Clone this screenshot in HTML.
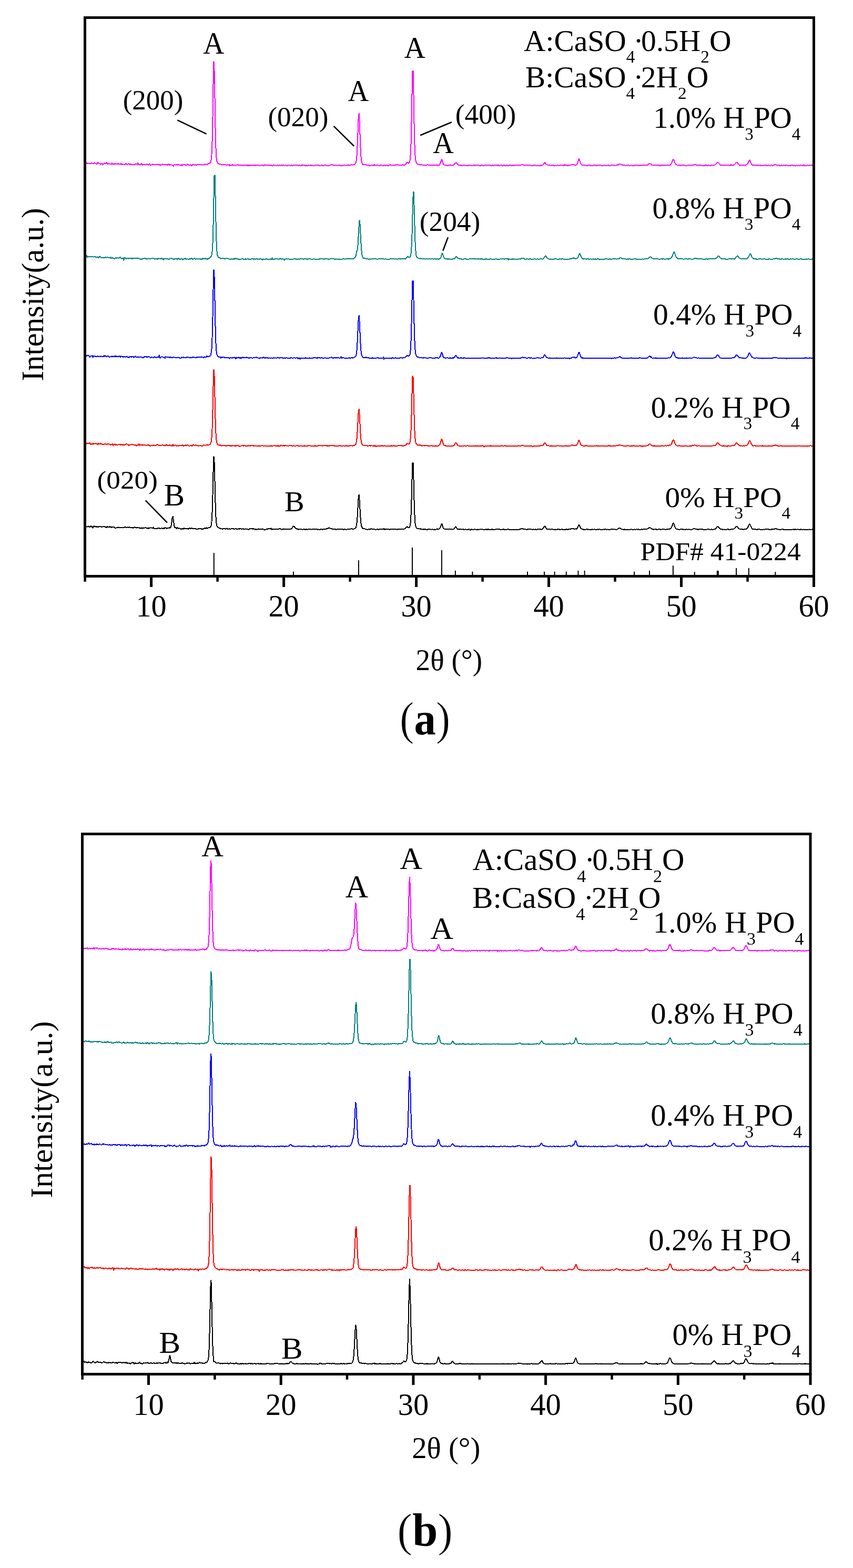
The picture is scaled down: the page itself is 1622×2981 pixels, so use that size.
<!DOCTYPE html>
<html><head><meta charset="utf-8"><title>XRD patterns</title>
<style>html,body{margin:0;padding:0;background:#fff;}svg{display:block;}text{fill:#000;}</style>
</head><body>
<svg width="1622" height="2981" viewBox="0 0 1622 2981" font-family="Liberation Serif, Times New Roman, serif">
<rect width="100%" height="100%" fill="#fff"/>
<path d="M161.6,310.6l1,0.4 1,-0.6 1,-0.9 1,1.4 1,-0.1 1.1,-0.6 1,0.7 1,0 1,-0.1 1,-0.1 1,0.2 1,-0.8 1,0.2 1,0.1 1,0.7 1,-0.3 1,-0.4 1.1,-0.3 1,0.4 1,0.3 1,0.1 1,1.1 1,-0.5 1,-2.6 1,0.3 1,1.4 1,0.2 1,0.4 1,0.5 1,0.9 1.1,-1.9 1,0.4 1,1.7 1,-0.6 1,-0.4 1,-1 1,-0.7 1,1.2 1,0 1,-0.8 1,-1.7 1,2.4 1.1,0.6 1,-0.5 1,0.3 1,-0.1 1,-0.1 1,0.7 1,0.3 1,-0.5 1,-1.6 1,1.7 1,-0.4 1,0.6 1,-0.9 1.1,1 1,-0.5 1,-0.8 1,0.5 1,0.4 1,0.1 1,-0.8 1,-0.1 1,0.8 1,-0.1 1,0.4 1,0.2 1,-1.3 1.1,1.1 1,0.7 1,-0.9 1,-0.3 1,0.9 1,0 1,0.2 1,-0.9 1,-0.7 1,0.7 1,0.2 1,0.7 1.1,-0.5 1,-1.2 1,0.4 1,1.4 1,0 1,-0.8 1,0.3 1,0.4 1,0.2 1,0.2 1,-0.4 1,-0.3 1,0 1.1,0.4 1,-1.6 1,0.9 1,0.2 1,-0.6 1,0.8 1,-2.9 1,3.4 1,-0.3 1,0.5 1,0.3 1,-0.6 1,-1 1.1,-1.2 1,2.8 1,-0.7 1,0.4 1,-0.5 1,0 1,0.5 1,-0.3 1,-0.2 1,-0.3 1,0.5 1,-0.6 1.1,1 1,0.4 1,-1.9 1,-0.6 1,2.1 1,1.1 1,-1.9 1,-0.4 1,0.9 1,-0.6 1,0.1 1,0.3 1,0.4 1.1,-0.4 1,0.3 1,-0.3 1,-0.3 1,0.1 1,-0.2 1,0.4 1,-0.5 1,0.2 1,1.3 1,-0.6 1,0.3 1.1,-0.1 1,-0.5 1,-1.4 1,1.9 1,-0.2 1,-0.6 1,0.8 1,-0.6 1,-0.4 1,0.1 1,0.6 1,0.9 1,-1.2 1.1,0.1 1,-0.8 1,1 1,0.6 1,-0.5 1,-0.3 1,0.5 1,0.4 1,0.2 1,0.5 1,1.2 1,-2.7 1,0.2 1.1,0.1 1,0.1 1,0 1,-0.1 1,-0.7 1,1 1,-0.6 1,-0.2 1,1 1,0.5 1,-0.4 1,-0.4 1.1,-0.2 1,1.7 1,-0.9 1,-1.3 1,0.1 1,0.3 1,-0.6 1,0.7 1,0.6 1,0.3 1,-0.4 1,-1.7 1,0.9 1.1,-0.2 1,1.1 1,-0.1 1,-0.1 1,-0.5 1,1.4 1,0 1,-1.4 1,0.3 1,-0.3 1,0.1 1,-0.3 1,1.2 1.1,-1 1,0.1 1,0.3 1,-0.4 1,0 1,-0.1 1,0.1 1,-0.4 1,0.2 1,0.2 1,0 1,0.1 1.1,0 1,0.3 1,-0.4 1,-0.2 1,-0.2 1,-0.2 1,-0.2 1,0.5 1,-0.7 1,0 1,0.5 1,-0.2 1,-0.8 1.1,-0.9 1,0.5 1,-0.5 1,-1.5 1,-0.8 1,-4.2 1,-10.3 1,-24.4 1,-47.5 1,-62 1,-42.8 1,16.9 1.1,57 1,56.9 1,36.7 1,16.1 1,6.2 1,2 1,1.3 1,0.8 1,0.2 1,0.8 1,-0.1 1,0 1,0.7 1.1,0.3 1,-0.2 1,-0.1 1,0.5 1,-0.9 1,0.3 1,0.5 1,-0.4 1,0.6 1,0.2 1,0.3 1,-0.7 1,0.1 1.1,0.2 1,-0.6 1,2 1,-1.2 1,-0.3 1,0.7 1,-0.4 1,-0.7 1,1 1,0.3 1,-0.6 1,0 1.1,0.3 1,-0.5 1,0.5 1,0 1,-0.5 1,-0.9 1,1 1,0 1,0.7 1,-0.1 1,0.1 1,-0.2 1,-0.1 1.1,-0.3 1,0.7 1,0.4 1,-0.8 1,-0.3 1,0.1 1,-0.1 1,0 1,0.3 1,0 1,1.1 1,-0.9 1,0.1 1.1,0.2 1,-0.4 1,0.5 1,-0.8 1,-0.2 1,-0.2 1,0.4 1,-0.4 1,0.4 1,-0.3 1,1 1,-0.4 1.1,-0.4 1,1 1,-0.9 1,0.1 1,-0.4 1,0.1 1,0.3 1,0 1,0.7 1,0.1 1,-0.4 1,-0.1 1,-0.6 1.1,0.7 1,-0.1 1,0.3 1,0.1 1,-1.3 1,0.6 1,-0.2 1,0.5 1,-0.6 1,0.2 1,0.4 1,0.2 1.1,-0.2 1,-0.4 1,0.1 1,0.6 1,-0.4 1,-0.6 1,0.9 1,0.1 1,0 1,-0.3 1,0.2 1,-0.6 1,0.5 1.1,-0.2 1,0.4 1,0.1 1,-0.6 1,0.1 1,0.2 1,0.4 1,-0.2 1,-0.7 1,0.5 1,0.4 1,0.3 1,-1.4 1.1,0.3 1,0.7 1,-0.9 1,-0.1 1,0.8 1,0.2 1,-0.5 1,0.3 1,0 1,0.4 1,-0.4 1,0.1 1.1,-0.6 1,0.2 1,0.2 1,0.4 1,-0.2 1,-0.5 1,0.5 1,0.1 1,-0.1 1,-0.4 1,-0.1 1,-0.5 1,0.7 1.1,0.1 1,-0.3 1,0.3 1,-0.6 1,0.2 1,0.3 1,0.6 1,-1 1,0.6 1,0.3 1,-0.1 1,0.1 1,-0.9 1.1,-0.5 1,1 1,-0.5 1,0.1 1,-0.1 1,0.8 1,0 1,-0.5 1,0.5 1,-0.2 1,0.4 1,-0.6 1.1,0 1,0.3 1,-0.1 1,-0.2 1,0.4 1,-0.5 1,0.2 1,0.3 1,0.2 1,-0.5 1,0.6 1,-0.5 1,-0.3 1.1,-0.3 1,0.6 1,-0.2 1,-0.5 1,0 1,0.2 1,0.1 1,0.7 1,0.2 1,-0.2 1,-0.3 1,-0.3 1.1,0.2 1,0.5 1,0.4 1,-0.5 1,-0.5 1,0 1,-0.2 1,-0.1 1,0.2 1,0.3 1,0.5 1,-0.4 1,0.3 1.1,0 1,-0.6 1,0.2 1,-0.6 1,-0.7 1,0 1,0.1 1,0.1 1,0.3 1,0.4 1,0.2 1,-0.4 1,0.2 1.1,-0.4 1,0.6 1,0.3 1,-0.2 1,0.1 1,0 1,-0.4 1,0.1 1,0.3 1,0.2 1,0 1,0.5 1.1,-0.7 1,0.2 1,0.1 1,-0.6 1,-0.4 1,-0.1 1,0.6 1,0.3 1,-0.2 1,-0.2 1,-0.2 1,0.1 1,-0.8 1.1,0.6 1,0 1,-0.3 1,0.8 1,-1 1,-0.3 1,0.1 1,0.5 1,-0.6 1,0.1 1,-0.2 1,-0.7 1,-1.4 1.1,-1.6 1,-4.1 1,-11.6 1,-19.8 1,-27 1,-24.7 1,-6.5 1,17.7 1,27.5 1,24.8 1,14.9 1,6.7 1.1,4 1,1.5 1,-0.3 1,0.5 1,0.6 1,-0.7 1,-0.2 1,0.4 1,0.4 1,0.2 1,0.5 1,-0.1 1,-0.4 1.1,0.7 1,0.6 1,-0.2 1,-0.1 1,-0.3 1,0.1 1,-0.4 1,0.4 1,-0.1 1,0.3 1,-1.4 1,0.7 1.1,0.4 1,0.3 1,-0.7 1,0.1 1,-0.1 1,-0.1 1,0.8 1,0.3 1,-0.2 1,-0.3 1,-0.1 1,0 1,-0.2 1.1,0.5 1,0.2 1,-0.1 1,-0.5 1,0.1 1,0.1 1,0.5 1,-0.5 1,-0.7 1,0.7 1,0.6 1,-0.3 1,-0.1 1.1,-0.4 1,-0.7 1,-0.1 1,0.3 1,0.5 1,0.2 1,0.1 1,-0.2 1,0.2 1,-0.3 1,-0.2 1,0.4 1.1,-0.6 1,-0.7 1,0.5 1,0.3 1,-0.8 1,0.6 1,0.1 1,-0.3 1,0.3 1,-0.1 1,0.1 1,0.5 1,-0.4 1.1,-0.7 1,0.1 1,0.6 1,0.2 1,-0.6 1,-0.5 1,-0.4 1,-1.8 1,-1.6 1,-0.6 1,1 1,1.1 1,-1.1 1.1,-1.1 1,-3.6 1,-9.4 1,-20.7 1,-40.9 1,-54.6 1,-44.6 1,0 1,45 1,54.6 1,40.2 1,21.5 1.1,9.2 1,3.9 1,1.5 1,1.8 1,0.3 1,-0.3 1,0.2 1,0.8 1,-0.7 1,0.4 1,0.6 1,-0.4 1,0.1 1.1,0.3 1,0.3 1,0 1,0.1 1,0.1 1,-0.1 1,0.3 1,-0.6 1,-0.3 1,-0.1 1,0.1 1,0.4 1.1,0.6 1,-0.2 1,-0.3 1,-0.2 1,0.2 1,0 1,-0.1 1,-0.2 1,0.4 1,0.3 1,-0.8 1,0.3 1,-0.4 1.1,0.6 1,-0.3 1,-0.4 1,0.7 1,0.5 1,-0.5 1,-0.1 1,-1 1,-2 1,-2.1 1,-3.7 1,-2.2 1,2.5 1.1,3.6 1,2.5 1,1.6 1,0.3 1,0.5 1,-0.2 1,0.3 1,-0.1 1,0.6 1,-0.1 1,0.2 1,-0.6 1.1,0 1,0.2 1,-0.9 1,0.4 1,0.2 1,0.5 1,0 1,-0.4 1,0 1,-0.8 1,-1.3 1,-1.5 1,-0.5 1.1,-0.6 1,1.3 1,0.7 1,1.3 1,0 1,1.5 1,-0.2 1,-0.2 1,-0.1 1,1 1,-0.4 1,0.6 1,0.1 1.1,-0.5 1,-0.2 1,0 1,-0.2 1,0.3 1,0.1 1,0.2 1,0.2 1,0.1 1,-0.5 1,0.2 1,-0.5 1.1,-0.1 1,0 1,0.1 1,0.5 1,0.2 1,0 1,-0.4 1,0 1,-0.3 1,-0.1 1,0.4 1,0 1,-0.3 1.1,0.2 1,-0.4 1,0.3 1,-0.1 1,0 1,0 1,0.5 1,0.1 1,0.1 1,-0.4 1,-0.4 1,0.1 1.1,-0.1 1,0.5 1,0.3 1,-0.3 1,-0.3 1,0 1,0.1 1,-0.3 1,0.3 1,0.1 1,-0.2 1,0 1,0.1 1.1,-0.2 1,0 1,0.5 1,0 1,0.2 1,-0.7 1,-0.3 1,0.8 1,0.1 1,-0.6 1,-0.2 1,0.2 1,-0.3 1.1,0.2 1,-0.3 1,1.3 1,-1.3 1,0.2 1,0.9 1,-0.4 1,0.1 1,-0.3 1,-0.2 1,-0.1 1,0.7 1.1,-0.1 1,0.3 1,-0.7 1,0.1 1,0.3 1,0.4 1,0 1,-0.7 1,-0.3 1,0.6 1,0.1 1,0.6 1,-1 1.1,-0.1 1,-0.6 1,0.2 1,0.8 1,0 1,-0.2 1,-0.2 1,0.5 1,0.2 1,-0.7 1,0.1 1,0 1,0.2 1.1,-0.1 1,-0.1 1,-0.7 1,0.7 1,-0.1 1,0 1,0 1,0 1,-0.5 1,-0.3 1,0 1,-0.5 1.1,0.2 1,0.6 1,0.2 1,0.2 1,0.1 1,-0.2 1,0.5 1,-0.2 1,0.2 1,-0.5 1,0.3 1,-0.1 1,0.1 1.1,0.1 1,-0.2 1,0.5 1,-0.2 1,0.2 1,0 1,0.2 1,-0.1 1,-0.7 1,0.1 1,-0.4 1,0.4 1,0.4 1.1,0.2 1,0 1,-0.4 1,0.1 1,0 1,0.3 1,0 1,-0.3 1,0.8 1,-0.9 1,-0.4 1,-0.1 1.1,-0.6 1,-1.3 1,-1.9 1,-1 1,-0.2 1,2.4 1,1 1,0.4 1,0.6 1,0.4 1,0.5 1,0.1 1,0 1.1,-0.2 1,0.4 1,0.2 1,-0.6 1,0.2 1,0.2 1,-0.1 1,0.1 1,0.5 1,-0.1 1,-0.2 1,-0.3 1.1,0.6 1,-0.4 1,-0.3 1,0.1 1,0 1,0.6 1,-0.4 1,-0.3 1,-0.4 1,0.5 1,-0.3 1,0 1,0.4 1.1,-0.2 1,0.4 1,0 1,-1.9 1,1.4 1,-0.2 1,0.3 1,0.3 1,-0.4 1,0.6 1,-0.5 1,-0.3 1,0.2 1.1,0.1 1,-0.7 1,-0.1 1,-0.5 1,0.2 1,-0.3 1,0 1,0.5 1,-0.2 1,0.4 1,0.6 1,-0.4 1.1,-0.2 1,-1.1 1,-2.1 1,-2.9 1,-3.3 1,-1.9 1,1.6 1,3.4 1,2.8 1,2.3 1,1.1 1,0.4 1,-0.4 1.1,0.7 1,-0.1 1,-0.3 1,0.4 1,-0.7 1,1 1,0.1 1,0.1 1,0 1,-0.4 1,-0.5 1,0.3 1,0.3 1.1,-0.1 1,0.7 1,-0.3 1,-0.1 1,0.3 1,-0.6 1,0.3 1,-0.3 1,-0.1 1,0.3 1,-0.1 1,0.2 1.1,-0.4 1,1 1,-1 1,0.1 1,0 1,-0.6 1,0.8 1,-0.4 1,0.1 1,0.5 1,0.1 1,-0.1 1,0 1.1,0.3 1,-0.8 1,-0.1 1,0.1 1,0.5 1,0 1,0.1 1,0 1,-0.4 1,-0.2 1,0.1 1,0.8 1.1,-0.2 1,-0.3 1,-0.2 1,-0.1 1,0 1,-0.1 1,-0.4 1,0.4 1,0.1 1,0.2 1,0 1,0.1 1,-0.2 1.1,-0.1 1,-1 1,0.1 1,0.2 1,-1.2 1,-0.4 1,0.1 1,0.1 1,0.8 1,0.1 1,0.1 1,0.4 1,0.1 1.1,0.5 1,0.1 1,0.1 1,-0.1 1,0.7 1,-0.5 1,-0.1 1,0.1 1,-0.1 1,-0.1 1,0.2 1,0.2 1.1,0 1,0 1,-0.4 1,0 1,0.6 1,-0.4 1,0.1 1,0.2 1,0 1,-0.7 1,0.1 1,0.1 1,-0.1 1.1,-0.4 1,0.3 1,-0.4 1,0.7 1,0.2 1,0 1,-0.4 1,0.4 1,-0.4 1,-0.2 1,0 1,0.1 1,0.3 1.1,0.1 1,-0.7 1,0.3 1,0.4 1,-0.1 1,-0.2 1,-0.5 1,0.1 1,-1 1,-0.5 1,-0.5 1,-0.6 1.1,-0.3 1,0.6 1,0.6 1,0.9 1,1 1,0 1,0 1,-0.1 1,0.4 1,0.2 1,-0.4 1,0.2 1,-0.1 1.1,0.3 1,-0.2 1,-0.3 1,0.1 1,0.3 1,0.3 1,-0.3 1,0.4 1,-0.6 1,0.1 1,0.3 1,-0.3 1.1,-0.2 1,0.2 1,0.1 1,-0.5 1,0.2 1,0.1 1,0 1,0.2 1,-0.4 1,0 1,0.1 1,0 1,-0.3 1.1,-0.1 1,-1.1 1,-1 1,-2.5 1,-2.7 1,-2.5 1,-0.8 1,1 1,2.4 1,3.1 1,1.7 1,1.2 1,0.9 1.1,0.4 1,0.3 1,0 1,0.1 1,0.2 1,-0.1 1,0.2 1,0 1,0 1,-0.1 1,0.1 1,-0.2 1.1,0 1,-0.2 1,0.3 1,0.2 1,-0.1 1,0.1 1,0 1,0.2 1,-0.5 1,-0.3 1,0.4 1,-0.1 1,-0.1 1.1,0.3 1,0 1,-0.1 1,-0.2 1,-0.1 1,-0.1 1,-0.1 1,-0.9 1,-0.1 1,0.2 1,-0.2 1,0.5 1,1 1.1,-0.5 1,0.4 1,-0.2 1,-0.1 1,-0.2 1,0.3 1,0.4 1,-0.4 1,0.4 1,0.2 1,0.2 1,-0.4 1.1,0.3 1,-0.1 1,-0.4 1,-0.2 1,0.6 1,-0.6 1,0.2 1,0.4 1,0 1,-0.5 1,0.1 1,0.1 1,0.4 1.1,0.2 1,-0.9 1,0.2 1,-0.7 1,0.5 1,0 1,0.5 1,-0.4 1,-0.6 1,-0.4 1,-0.7 1,-1 1.1,-1.4 1,-1 1,-0.1 1,0.6 1,0.9 1,1.1 1,1.3 1,1 1,0 1,0 1,0.2 1,-0.3 1,0.1 1.1,0.4 1,-0.1 1,0 1,0.2 1,-0.2 1,-0.1 1,0.1 1,0.3 1,-0.2 1,-0.3 1,0.2 1,0.4 1,0.2 1.1,-0.9 1,-0.8 1,1.1 1,0.2 1,0 1,0 1,-0.5 1,-0.8 1,-0.9 1,-0.9 1,-1.3 1,-0.7 1.1,-0.2 1,0.4 1,1.6 1,0.9 1,0.7 1,2 1,-0.7 1,-0.1 1,0.5 1,-0.5 1,-0.1 1,0.5 1,-0.1 1.1,-0.1 1,0 1,0 1,-0.2 1,-0.3 1,-0.8 1,-0.5 1,-0.8 1,-2.1 1,-2.1 1,-1.9 1,-0.9 1,1.7 1.1,2.8 1,2 1,1.8 1,0.9 1,0.2 1,-0.1 1,-0.1 1,0.1 1,0.5 1,0.1 1,-0.1 1,0.2 1.1,-0.2 1,0.3 1,-0.2 1,0 1,0 1,0.1 1,0.4 1,-0.8 1,0.3 1,0.4 1,-0.1 1,-0.2 1,0.3 1.1,-0.6 1,-0.1 1,0.3 1,-0.4 1,-0.2 1,0.8 1,0.1 1,-0.1 1,-0.2 1,0 1,-0.1 1,0.6 1.1,-0.1 1,-0.3 1,-0.5 1,0.5 1,0.3 1,-0.2 1,-0.4 1,-0.5 1,-0.5 1,0 1,0 1,0.2 1,0.3 1.1,0.3 1,0 1,0.2 1,0.1 1,0.4 1,0.2 1,0 1,-0.3 1,-0.4 1,0.7 1,-0.2 1,-0.2 1,-0.1 1.1,0 1,0.2 1,0 1,-0.3 1,-0.5 1,0.6 1,0.2 1,0 1,-0.1 1,0.1 1,0.1 1,-0.2 1.1,0.2 1,-0.7 1,0 1,0.1 1,-0.3 1,0.4 1,0.6 1,0.1 1,-0.2 1,0.2 1,-0.3 1,-0.2 1,0.1 1.1,0 1,0.8 1,-1.1 1,0.4 1,-0.1 1,0.1 1,-0.5 1,0.2 1,0.2 1,0.2 1,-0.4 1,0.6 1,-1.4 1.1,1 1,0.3 1,-0.2 1,0.5 1,0.1 1,-0.4 1,-0.4 1,0 1,0.2 1,0 1,-0.6 1,0.3 1.1,0.5 1,-0.4 1,-0.4 1,0.5 1,0 1,0.2 1,0.1" fill="none" stroke="#ff00ff" stroke-width="2" stroke-linejoin="round" shape-rendering="crispEdges"/>
<path d="M161.6,487.2l1,-0.5 1,-0.2 1,-0.8 1,2.9 1,0 1.1,-0.9 1,0.6 1,-0.3 1,-0.4 1,0.9 1,-0.6 1,-0.3 1,0 1,0.8 1,0 1,0.2 1,-0.5 1.1,0.2 1,-0.3 1,1.1 1,-0.1 1,0.1 1,-0.1 1,-0.7 1,1.3 1,0.7 1,-2.4 1,-0.6 1,0.6 1,1.7 1.1,0 1,0.6 1,-0.1 1,-0.4 1,0 1,-0.1 1,0.4 1,-1.1 1,0.3 1,0.9 1,-0.5 1,-0.2 1.1,-0.5 1,0.6 1,1 1,-0.4 1,0.5 1,-1.5 1,1.6 1,0.1 1,-1.4 1,0.9 1,0.8 1,0.3 1,0 1.1,0.8 1,-1.3 1,-0.7 1,-0.2 1,0.8 1,-0.3 1,-0.1 1,0.2 1,0.3 1,-1.1 1,-0.7 1,-0.1 1,2.2 1.1,0 1,0.6 1,-0.9 1,-0.5 1,4.6 1,-4.3 1,-0.7 1,0.4 1,1.7 1,-0.5 1,-0.3 1,-0.5 1.1,-0.1 1,0.9 1,-0.5 1,-0.5 1,0.3 1,-0.3 1,0.3 1,1 1,-0.8 1,0.9 1,-0.9 1,0.1 1,-0.4 1.1,0.3 1,0.2 1,-0.3 1,-0.2 1,0 1,-0.2 1,-0.3 1,0.9 1,0.7 1,0.3 1,0.2 1,0.8 1,-1.2 1.1,1.1 1,-0.5 1,-1.2 1,0.6 1,-0.8 1,0.3 1,-0.9 1,1.4 1,-0.4 1,-0.3 1,1.4 1,-0.3 1.1,-0.6 1,-0.5 1,0.3 1,0.2 1,0.5 1,0 1,-0.8 1,-0.1 1,-0.1 1,-0.4 1,0.4 1,0.6 1,0.6 1.1,0.2 1,-1 1,0.4 1,-0.1 1,1.1 1,-0.8 1,-0.2 1,-0.7 1,0 1,0.6 1,-0.1 1,0.1 1.1,-0.8 1,0.9 1,-0.3 1,0.2 1,2.1 1,-1.6 1,-1 1,0.6 1,-0.5 1,0.1 1,0.3 1,0 1,0.3 1.1,0.4 1,-0.1 1,0.3 1,-1.6 1,0.2 1,0.2 1,-0.7 1,1.3 1,-0.2 1,0 1,0.7 1,-0.1 1,-0.4 1.1,-0.6 1,0.6 1,0 1,-0.4 1,0.9 1,-0.4 1,-1.2 1,0.7 1,-0.2 1,1.1 1,-0.1 1,-1.1 1.1,0.1 1,0.5 1,1.6 1,-0.7 1,-0.3 1,-0.5 1,0 1,-1 1,1 1,0.5 1,-0.4 1,-0.5 1,0.8 1.1,0.7 1,-0.7 1,-0.8 1,0.8 1,-1.2 1,0.8 1,-1.1 1,1.4 1,-0.5 1,0.8 1,-0.5 1,-1.2 1,-0.2 1.1,1 1,0.9 1,-0.4 1,-0.2 1,-0.1 1,0.4 1,-0.1 1,-0.2 1,-0.5 1,1 1,0.1 1,-1 1.1,1.3 1,-0.5 1,-1 1,-0.6 1,1.1 1,0.1 1,-1.1 1,-0.2 1,1.1 1,-0.6 1,0.1 1,1.5 1,-0.3 1.1,-1 1,-1 1,-0.3 1,-1.5 1,0.1 1,-1.3 1,-2.8 1,-6.5 1,-16.1 1,-34.9 1,-50.6 1,-43.1 1.1,-0.8 1,42.9 1,50.5 1,35.7 1,17.6 1,6.3 1,2.5 1,0.3 1,0.8 1,0.4 1,0.4 1,1.6 1,-0.1 1.1,-0.8 1,0.1 1,0.3 1,-0.3 1,0.6 1,-0.4 1,0.2 1,-0.1 1,0.1 1,-0.3 1,-0.1 1,0.3 1,0.3 1.1,0.3 1,0.3 1,0.7 1,-0.3 1,-0.4 1,0.2 1,-0.4 1,0.8 1,-0.4 1,-0.7 1,0.8 1,-0.1 1.1,-1.4 1,0.6 1,0.1 1,-0.5 1,0.3 1,0.2 1,0.7 1,0.3 1,0.8 1,-1 1,0.3 1,-0.4 1,-0.1 1.1,-0.7 1,-0.4 1,0.6 1,0.9 1,0.4 1,-0.3 1,-0.3 1,-0.4 1,0.9 1,0 1,-0.8 1,-0.1 1,-0.1 1.1,0.9 1,-0.3 1,-0.3 1,0.2 1,0 1,-0.4 1,-0.5 1,-0.1 1,0 1,1.1 1,0.6 1,-1.4 1.1,0.5 1,0.1 1,-0.4 1,0.2 1,-0.2 1,0.7 1,-0.5 1,0.2 1,0.2 1,-0.6 1,-0.5 1,0.5 1,0.6 1.1,-0.2 1,1.6 1,-2.1 1,0.5 1,0.3 1,-0.1 1,0.6 1,-0.9 1,-0.6 1,0 1,1 1,-0.2 1.1,0.3 1,0 1,0.4 1,-0.2 1,-0.7 1,0.2 1,0.2 1,-2.8 1,3.1 1,0.1 1,-0.2 1,-0.1 1,-0.4 1.1,-0.5 1,0.3 1,-0.1 1,0.2 1,-0.1 1,0.3 1,0.3 1,-0.8 1,0.5 1,-1.1 1,-0.1 1,0.8 1,0.3 1.1,0 1,-0.7 1,0.5 1,0.3 1,1.8 1,-1.8 1,0 1,-0.5 1,0.2 1,0 1,0.3 1,-0.5 1.1,0 1,0.7 1,0.5 1,-0.5 1,-0.2 1,-0.2 1,0.5 1,0 1,0.3 1,-0.5 1,-0.6 1,0 1,-0.2 1.1,0.1 1,0.9 1,-0.1 1,-0.6 1,0.9 1,-0.5 1,-0.5 1,0.4 1,-0.1 1,-0.4 1,-0.4 1,0.7 1,0.1 1.1,-0.9 1,1 1,0.2 1,-0.4 1,0.1 1,-0.1 1,-0.2 1,0.3 1,0.4 1,-0.8 1,0.5 1,0 1.1,-0.3 1,-0.1 1,-0.3 1,0.2 1,0.4 1,0.9 1,-0.9 1,1.1 1,-1 1,-0.1 1,0 1,0 1,0.5 1.1,-0.4 1,0.5 1,-0.1 1,0.1 1,-0.3 1,-0.2 1,0.9 1,-0.9 1,-0.6 1,-0.4 1,0.3 1,0.2 1.1,-0.1 1,-0.1 1,0.3 1,0.3 1,0.4 1,-1.1 1,0.3 1,-0.1 1,-0.2 1,0 1,0.3 1,0.6 1,-0.3 1.1,0.9 1,-0.7 1,-0.2 1,-0.3 1,-0.2 1,-0.6 1,0.3 1,0 1,-0.2 1,0.2 1,1 1,0.1 1,0.8 1.1,-1 1,0.2 1,-0.3 1,0.2 1,0.1 1,0.5 1,-0.8 1,0.1 1,0.1 1,0.2 1,0.2 1,-0.1 1.1,-0.3 1,-0.3 1,-0.4 1,0.1 1,0.2 1,0.4 1,-0.4 1,-0.2 1,0.4 1,-0.3 1,-0.1 1,0.2 1,0.1 1.1,-1 1,0.3 1,0.5 1,-0.2 1,-0.2 1,0.1 1,0.5 1,-0.6 1,0.1 1,-0.2 1,-0.8 1,-0.7 1,-2 1.1,-1.8 1,-5.6 1,-3.9 1,-2.2 1,-10.6 1,-17.8 1,-18.5 1,-9.2 1,8.9 1,19.8 1,19.1 1,13.5 1.1,6.7 1,2.4 1,1.9 1,0.5 1,-0.3 1,0.2 1,0.3 1,0.3 1,0 1,-0.3 1,1 1,0 1,0.2 1.1,0 1,-0.4 1,0.1 1,0.3 1,-0.1 1,-0.3 1,-0.2 1,0.2 1,-0.2 1,-0.1 1,-0.3 1,0.5 1.1,-0.2 1,0.2 1,0.2 1,0.3 1,0.4 1,-0.5 1,-0.6 1,0.4 1,-0.1 1,0.2 1,-0.3 1,0 1,0 1.1,-0.1 1,-0.3 1,0.3 1,0.4 1,0.4 1,-0.5 1,0 1,0.2 1,0.2 1,0.3 1,-0.3 1,-0.2 1,0.4 1.1,0 1,-0.6 1,0 1,-0.5 1,0.3 1,-0.1 1,0.2 1,0 1,0 1,-0.5 1,0.8 1,-0.1 1.1,-0.3 1,-0.2 1,0.8 1,0.1 1,-0.5 1,0 1,-0.6 1,-0.1 1,0.5 1,0.5 1,-0.8 1,0.1 1,0.5 1.1,-0.8 1,0.5 1,0 1,-0.3 1,0.2 1,0.4 1,-1.4 1,-0.6 1,-1.1 1,-1.4 1,-0.6 1,1.1 1,0.7 1.1,-0.5 1,-0.2 1,-1.4 1,-4.9 1,-12.9 1,-24.3 1,-36.2 1,-34.9 1,-9.3 1,24.6 1,39.2 1,31.2 1.1,18.5 1,8.3 1,2.1 1,0.8 1,1.2 1,0.2 1,0.1 1,0.3 1,0.9 1,-0.5 1,-0.2 1,0.3 1,0 1.1,0.4 1,-0.1 1,-0.1 1,0.4 1,-0.1 1,0.4 1,0.2 1,-0.5 1,-0.1 1,0.3 1,0.2 1,-0.2 1.1,0 1,0 1,0.1 1,0.1 1,-0.4 1,0 1,0.1 1,-0.1 1,0.2 1,0.2 1,-0.2 1,-0.3 1,0.1 1.1,0.7 1,-0.2 1,-0.7 1,0.1 1,0.8 1,-0.1 1,-0.5 1,-0.2 1,-1.1 1,-0.8 1,-2.2 1,-4.2 1,-2.4 1.1,1.6 1,3.6 1,2.6 1,1.9 1,0.7 1,0.1 1,-0.2 1,0.4 1,0.1 1,0.5 1,-0.3 1,-0.1 1.1,0.8 1,-0.7 1,0.2 1,0.1 1,0 1,-0.2 1,0.1 1,-0.3 1,-0.5 1,0.2 1,-0.3 1,-0.7 1,-1.3 1.1,-1.7 1,0.1 1,1.2 1,0.6 1,1.4 1,0.3 1,-0.2 1,0.9 1,-0.1 1,0 1,0.1 1,0.5 1,0.2 1.1,-0.3 1,0 1,-0.2 1,0 1,-0.2 1,0.2 1,-0.1 1,0.3 1,0.1 1,0 1,0.3 1,0.2 1.1,-1.2 1,0.3 1,0 1,-0.1 1,-0.2 1,0.4 1,-0.1 1,-0.1 1,0.1 1,-0.2 1,-0.3 1,0.8 1,-0.2 1.1,-0.2 1,0.3 1,-0.3 1,-0.4 1,0.7 1,-0.5 1,0.3 1,0.3 1,0.4 1,-1.3 1,0.9 1,-0.4 1.1,0.2 1,0.5 1,0.2 1,-0.4 1,-0.3 1,0.3 1,-0.3 1,-0.1 1,0.1 1,0.3 1,0 1,0.2 1,0.1 1.1,0.4 1,-1.7 1,0.1 1,0.6 1,0.2 1,0.5 1,-0.5 1,-0.1 1,0.3 1,0 1,-0.3 1,0 1,-0.4 1.1,0.1 1,0.5 1,-0.5 1,0.5 1,0.1 1,0 1,0 1,-0.2 1,-0.8 1,0.2 1,0.3 1,0.3 1.1,-0.4 1,0 1,0.2 1,0.4 1,-0.7 1,-0.1 1,0.4 1,-0.5 1,0.5 1,-0.1 1,-0.3 1,2 1,-1.8 1.1,0.3 1,0.2 1,0.2 1,-0.3 1,-0.1 1,-0.2 1,0.2 1,0.2 1,-0.7 1,0.5 1,-0.1 1,0.1 1,0.1 1.1,0.1 1,-0.2 1,-0.1 1,0.1 1,-0.1 1,-0.1 1,0.2 1,0.1 1,-0.4 1,-0.3 1,-0.7 1,-0.2 1.1,-0.5 1,0.6 1,0.1 1,1 1,0.7 1,-0.5 1,0.3 1,-0.2 1,-0.3 1,0 1,0.4 1,0.3 1,-0.4 1.1,-0.5 1,0 1,0.4 1,0.4 1,-0.2 1,0 1,0.2 1,-0.3 1,-0.1 1,-0.1 1,-0.3 1,0.5 1,0.1 1.1,0.1 1,-0.6 1,0.1 1,0.4 1,0 1,0.1 1,-0.5 1,0.1 1,-0.1 1,0.1 1,-0.2 1,0.5 1.1,-0.4 1,-0.8 1,-1.6 1,-1 1,-1.7 1,-0.9 1,1.2 1,2.1 1,1.5 1,0.4 1,0.1 1,0.6 1,0.4 1.1,0.4 1,-0.6 1,0.8 1,-0.1 1,-0.3 1,0.2 1,-0.3 1,0.1 1,-0.4 1,0 1,-0.2 1,-0.2 1.1,0.3 1,0.1 1,0.3 1,0.2 1,-0.3 1,0 1,-0.1 1,-0.4 1,0.4 1,0.1 1,-0.1 1,-0.4 1,-0.2 1.1,0.5 1,0.3 1,0.3 1,0 1,0 1,-0.2 1,0 1,-0.2 1,0.1 1,0.2 1,0.4 1,-0.7 1,-0.4 1.1,0.4 1,-0.4 1,-0.1 1,-0.3 1,-0.4 1,0.1 1,-0.4 1,-1.2 1,1.3 1,0.3 1,0.4 1,-0.1 1.1,-0.2 1,-0.3 1,-0.5 1,-1.3 1,-2.7 1,-3 1,-1.9 1,1.3 1,2.5 1,1.9 1,2.4 1,1.3 1,0.7 1.1,0.6 1,-0.2 1,-0.7 1,0.6 1,0.1 1,0.2 1,0.2 1,-0.5 1,0.3 1,-0.5 1,0.3 1,0.3 1,0.4 1.1,-0.7 1,-0.3 1,0.5 1,-0.1 1,0.4 1,-0.5 1,-0.1 1,0.5 1,-0.1 1,0 1,-0.4 1,0.6 1.1,-0.4 1,0.2 1,-0.5 1,-0.1 1,0.3 1,0.3 1,1 1,-0.9 1,0 1,0.2 1,0.4 1,-0.8 1,0.3 1.1,-0.3 1,0 1,-0.1 1,0.3 1,-0.6 1,-0.1 1,0.3 1,-0.1 1,0.4 1,0.1 1,-0.3 1,0.2 1.1,-0.3 1,0.1 1,0.2 1,0.4 1,-0.5 1,-0.4 1,0.1 1,-0.2 1,0 1,0.2 1,-0.1 1,-0.4 1,0.5 1.1,0.4 1,-0.3 1,-0.4 1,0.4 1,-0.6 1,-0.4 1,-1.2 1,-0.3 1,0.4 1,0.6 1,0.6 1,0.4 1,0 1.1,-0.1 1,0.3 1,-0.1 1,0.1 1,0.2 1,0.4 1,0 1,-0.4 1,0.3 1,0.2 1,-0.3 1,-0.5 1.1,-0.1 1,0.8 1,0.2 1,-0.3 1,0.4 1,-0.1 1,0.1 1,-0.4 1,-0.2 1,-0.3 1,0.4 1,-0.3 1,0.5 1.1,0.1 1,-0.1 1,0.3 1,-0.4 1,0.1 1,0.1 1,-0.2 1,-0.1 1,0.4 1,-0.2 1,-0.2 1,0 1,0.2 1.1,0.4 1,-0.5 1,-0.3 1,-0.2 1,-0.2 1,-0.1 1,0.4 1,-0.1 1,-0.6 1,-0.6 1,-0.5 1,-1 1.1,-1 1,0.2 1,0.6 1,1 1,1 1,0.4 1,0.7 1,-0.3 1,0.4 1,0.1 1,-0.1 1,0 1,-0.4 1.1,0 1,0.3 1,0 1,0.3 1,-0.1 1,0.2 1,-0.1 1,-0.1 1,0 1,-0.2 1,0.1 1,0.5 1.1,-0.8 1,0.2 1,0.4 1,0 1,0.1 1,-0.3 1,-0.5 1,0.1 1,-0.2 1,0.6 1,0.1 1,-0.5 1,-0.1 1.1,-0.4 1,-0.6 1,-0.6 1,-1.5 1,-2 1,-2.7 1,-3.2 1,-1.5 1,-0.1 1,3 1,3.5 1,2 1,1.5 1.1,1.4 1,0.9 1,-0.1 1,0.5 1,0.1 1,-0.5 1,0.4 1,0.2 1,0 1,-0.3 1,0.4 1,-0.1 1.1,0.3 1,0 1,-0.3 1,0.1 1,-0.2 1,-0.5 1,0.3 1,0.4 1,0.3 1,-0.2 1,-0.1 1,-0.1 1,0 1.1,0.2 1,-0.3 1,0.7 1,-0.3 1,0.3 1,-0.3 1,-0.7 1,-0.1 1,-0.4 1,-0.2 1,0.1 1,0 1,0.3 1.1,0.2 1,0.1 1,0.3 1,0.3 1,0 1,0 1,-0.1 1,0.1 1,-0.5 1,0.2 1,0.2 1,0.3 1.1,0 1,0 1,-0.1 1,0.1 1,-0.4 1,0 1,-0.3 1,0.9 1,0 1,-0.6 1,-0.2 1,-0.3 1,0.1 1.1,0.5 1,-0.1 1,-0.3 1,0.6 1,-0.4 1,0.3 1,0 1,-0.3 1,-0.1 1,-0.3 1,-0.7 1,-0.2 1.1,-1 1,-1.3 1,-1.9 1,-0.1 1,0.4 1,1.6 1,1.5 1,0.5 1,0.6 1,0.9 1,-0.3 1,0.1 1,0.5 1.1,-0.1 1,0.2 1,0 1,-0.1 1,0.4 1,0.2 1,-0.4 1,0.2 1,0 1,-0.3 1,0 1,-0.4 1,0.1 1.1,0.2 1,0 1,0.2 1,-0.6 1,0.1 1,-0.1 1,0.1 1,0.7 1,-1.6 1,-0.4 1,-1.4 1,-1.4 1.1,-0.9 1,-0.6 1,1.1 1,1.3 1,1.2 1,0.8 1,0.2 1,0.6 1,0.4 1,0 1,-0.2 1,0.5 1,-0.1 1.1,-0.5 1,0.1 1,0.2 1,-0.5 1,0.1 1,0.1 1,-0.3 1,-0.5 1,-1.1 1,-2 1,-2.1 1,-1.8 1,-1.8 1.1,1.2 1,2.4 1,2.3 1,2.1 1,0.9 1,0.5 1,-0.3 1,1 1,0.2 1,-0.3 1,0.4 1,-0.1 1.1,0.2 1,0.2 1,-0.4 1,-0.3 1,0.1 1,-0.2 1,0 1,0.1 1,0.1 1,0.5 1,-0.1 1,-0.3 1,0.2 1.1,-0.5 1,0.1 1,0.3 1,0.3 1,0 1,-0.1 1,0.2 1,-0.1 1,0.1 1,-0.6 1,-0.3 1,0.4 1.1,0.3 1,0 1,0.1 1,-0.1 1,0 1,-0.1 1,-0.4 1,0.1 1,-0.7 1,0.6 1,-1.4 1,0.2 1,0 1.1,0.8 1,-0.1 1,0.5 1,0.1 1,0 1,0.4 1,-0.2 1,0.3 1,-0.5 1,-0.1 1,-0.2 1,0.6 1,0.2 1.1,-0.2 1,-0.1 1,-0.1 1,0.7 1,-0.3 1,-0.7 1,0.1 1,-0.2 1,0.9 1,0.3 1,-0.2 1,-0.4 1.1,-0.3 1,-0.1 1,0.4 1,-0.2 1,0 1,0 1,0.1 1,0.4 1,0.2 1,-0.4 1,-0.2 1,-0.3 1,-0.1 1.1,0.2 1,0.4 1,0 1,0.2 1,-0.2 1,-0.3 1,-0.2 1,0.1 1,0 1,0.7 1,-0.3 1,-0.1 1,0.4 1.1,-0.4 1,0.1 1,-0.1 1,0 1,-0.1 1,0.3 1,0.1 1,-0.7 1,-0.2 1,0.8 1,-0.1 1,0.1 1.1,-0.2 1,0.5 1,0 1,-0.7 1,0.3 1,-0.3 1,-0.3" fill="none" stroke="#008080" stroke-width="2" stroke-linejoin="round" shape-rendering="crispEdges"/>
<path d="M161.6,677.9l1,-2.6 1,2.1 1,-1 1,0 1,-0.1 1.1,-1 1,1 1,0.5 1,2.6 1,-1.7 1,-0.9 1,-0.1 1,-0.3 1,-0.2 1,3.6 1,-2.4 1,-0.2 1.1,-0.7 1,0.7 1,0.3 1,1 1,-0.6 1,-0.9 1,0.2 1,0.8 1,0.2 1,-0.7 1,-0.1 1,0.6 1,-1.1 1.1,0.4 1,0.9 1,-0.1 1,-0.3 1,-0.2 1,-1.8 1,1.9 1,-0.9 1,-0.5 1,1.4 1,0.4 1,-0.8 1.1,-0.4 1,0.7 1,-0.2 1,1.5 1,-0.4 1,-0.3 1,0.4 1,-0.9 1,-0.4 1,0.9 1,0.1 1,-0.6 1,-0.3 1.1,0.2 1,-1.2 1,1.8 1,0 1,-1.2 1,0.7 1,-0.2 1,0.6 1,-1.4 1,0.6 1,1.3 1,0.1 1,-1.9 1.1,0.8 1,0.6 1,-0.1 1,0.9 1,-1.3 1,0.5 1,-0.4 1,1.2 1,-0.6 1,-0.6 1,-0.4 1,1.9 1.1,-0.1 1,-0.1 1,1 1,-1.4 1,-0.8 1,0.1 1,0 1,1 1,-1.4 1,0.2 1,0.4 1,1.6 1,-1.1 1.1,-1.1 1,-0.3 1,1.2 1,0.9 1,-0.1 1,-0.5 1,-0.3 1,0.2 1,0.2 1,0.1 1,-0.7 1,0.3 1,0.1 1.1,0.4 1,0.2 1,1.2 1,-0.3 1,-0.6 1,-1.9 1,0.5 1,0.2 1,-0.5 1,-0.3 1,1.8 1,0.1 1.1,-1.4 1,-0.1 1,0.3 1,0.6 1,0.7 1,0.6 1,-1 1,0.2 1,-0.2 1,0.9 1,-0.3 1,0 1,-1.3 1.1,0.2 1,0 1,1.2 1,-0.3 1,-0.7 1,-0.1 1,0.4 1,-0.1 1,-3.8 1,4.3 1,1 1,-1.4 1.1,-0.6 1,-0.4 1,0.1 1,1.1 1,0.3 1,-0.4 1,0.1 1,1.7 1,-2.8 1,0 1,0.5 1,0.4 1,-0.4 1.1,0 1,-0.1 1,0.4 1,0.6 1,-0.5 1,0.1 1,0.5 1,0.2 1,0.1 1,-1.6 1,1 1,-0.3 1,0.3 1.1,0.5 1,0.2 1,-0.1 1,-0.3 1,0.5 1,-0.9 1,0 1,0.4 1,-0.3 1,1.2 1,-0.2 1,0.3 1.1,-1.1 1,-0.4 1,0.3 1,0.2 1,-0.5 1,0.3 1,0.1 1,0.6 1,-0.8 1,0.4 1,-0.7 1,-0.3 1,0 1.1,-0.1 1,0.8 1,0.5 1,-0.8 1,0.8 1,0.4 1,-0.6 1,-0.2 1,-0.4 1,-0.5 1,0.8 1,-0.8 1,0.9 1.1,0.1 1,0.3 1,-0.5 1,-0.4 1,0.4 1,-0.3 1,0.1 1,0.1 1,-0.1 1,-0.1 1,-0.3 1,0.1 1.1,-0.8 1,0.9 1,-0.3 1,1 1,0 1,-1.5 1,0.7 1,-0.5 1,0 1,0.4 1,-2.3 1,1 1,0.4 1.1,0 1,-0.4 1,-1 1,0.1 1,-1.3 1,-3.9 1,-8.5 1,-21 1,-40.4 1,-51.9 1,-36.7 1,12.7 1.1,49.4 1,49.1 1,31.9 1,12.9 1,5.1 1,2.1 1,1 1,1.4 1,-0.5 1,0.5 1,0.2 1,1.7 1,-1.9 1.1,1.2 1,-0.5 1,-0.1 1,-0.4 1,0.2 1,0.8 1,0.3 1,0.1 1,0.1 1,-0.2 1,-0.2 1,0.3 1,-0.1 1.1,-0.3 1,0.4 1,1.4 1,-1.6 1,-0.2 1,0.5 1,0.5 1,-0.8 1,-0.2 1,0.2 1,0.3 1,-1.1 1.1,0.8 1,1.7 1,-1.8 1,0.7 1,-0.3 1,-0.5 1,0.1 1,-0.6 1,0.5 1,0.9 1,-0.7 1,0.8 1,-0.5 1.1,0.2 1,-0.5 1,-1 1,0.6 1,0.4 1,-0.5 1,-0.1 1,0.7 1,-0.4 1,-0.5 1,0.5 1,0.7 1,-0.3 1.1,0.6 1,0.2 1,-0.7 1,-0.7 1,0 1,0 1,1.1 1,-0.2 1,0 1,-0.3 1,0.1 1,-0.2 1.1,-0.1 1,-0.5 1,-0.1 1,0.4 1,-0.1 1,0.2 1,0.6 1,0.1 1,1.1 1,-0.8 1,-0.7 1,0.5 1,-0.2 1.1,-0.3 1,0.5 1,-0.9 1,-0.8 1,1.4 1,-0.1 1,0.6 1,-0.8 1,-0.1 1,0.8 1,-0.7 1,0.4 1.1,0.5 1,-0.4 1,-0.2 1,0.1 1,0.2 1,-0.5 1,0.5 1,0.2 1,0.5 1,-1 1,-0.3 1,0.5 1,-0.2 1.1,0.1 1,0.1 1,0.3 1,-0.6 1,-0.2 1,-0.8 1,0.7 1,1 1,-0.7 1,-0.3 1,0 1,0.4 1,0.1 1.1,-0.4 1,0.6 1,0 1,0.1 1,-0.4 1,0.8 1,-0.4 1,-0.4 1,-0.1 1,0.1 1,0.4 1,-0.2 1.1,0.4 1,0 1,0.2 1,-0.2 1,-0.6 1,-0.6 1,0.7 1,0.4 1,-0.2 1,0 1,-0.3 1,-0.1 1,-0.1 1.1,0.8 1,-0.3 1,-0.4 1,-0.3 1,0.5 1,1.6 1,-1.3 1,-0.4 1,0.8 1,1.5 1,-1.6 1,0 1,0 1.1,-0.1 1,-0.1 1,-0.4 1,0.6 1,-0.1 1,0.2 1,-1.2 1,0.8 1,0.2 1,-0.4 1,0.2 1,0.2 1.1,-0.2 1,-0.4 1,0.2 1,0.5 1,0.1 1,-0.4 1,-0.1 1,0.1 1,0.1 1,-0.7 1,-0.2 1,0.5 1,-0.3 1.1,0.1 1,0.3 1,0.1 1,-0.4 1,0.4 1,-0.6 1,0.5 1,-0.6 1,0.1 1,0.6 1,-0.2 1,-0.2 1.1,0.1 1,0.4 1,-0.2 1,0.1 1,0.3 1,-0.6 1,-0.1 1,0.2 1,0.6 1,0.1 1,-0.1 1,-0.5 1,-0.1 1.1,0.2 1,-0.4 1,0.2 1,-0.4 1,-0.7 1,0 1,0.3 1,1 1,0.5 1,-0.7 1,-0.2 1,-0.6 1,0.8 1.1,0 1,-0.2 1,0.4 1,-0.6 1,0.3 1,-0.7 1,0.5 1,0.7 1,0.1 1,-0.9 1,-1.7 1,2.3 1.1,-0.2 1,-0.4 1,0.3 1,0.1 1,0.1 1,0.3 1,0 1,0.4 1,-0.1 1,-0.3 1,0.1 1,0.1 1,-0.4 1.1,-0.6 1,0.5 1,0 1,0.3 1,-0.5 1,0 1,-0.1 1,0.3 1,-0.6 1,-0.5 1,-0.1 1,-0.6 1,-0.5 1.1,-1.6 1,-3.6 1,-8.4 1,-16.9 1,-22.4 1,-20.4 1,-5.1 1,13.9 1,23 1,20.1 1,12.5 1,5.8 1.1,2.2 1,1 1,2.1 1,-0.4 1,-0.1 1,0 1,0.1 1,-1.6 1,1.5 1,0.2 1,0.2 1,-0.1 1,-0.2 1.1,1.1 1,-0.1 1,-0.5 1,0.1 1,0 1,0.1 1,-0.5 1,0.7 1,-0.3 1,0.3 1,-0.3 1,-0.2 1.1,0.1 1,0.3 1,-0.5 1,0 1,0 1,-0.2 1,0.8 1,0 1,-0.2 1,0.2 1,-0.5 1,0.2 1,0.7 1.1,-0.4 1,-0.5 1,-1.2 1,3.4 1,-1.7 1,-0.4 1,0 1,0.2 1,-0.3 1,0.3 1,0.2 1,-0.1 1,-0.1 1.1,-0.2 1,0.2 1,-0.1 1,0.6 1,0.3 1,-1.1 1,-0.6 1,0.5 1,0.4 1,0.3 1,-0.1 1,-0.6 1.1,0 1,0.5 1,-0.4 1,0.4 1,-0.3 1,0.2 1,0.1 1,0 1,-0.2 1,-0.5 1,0.2 1,0 1,0.1 1.1,0.2 1,-0.6 1,-0.3 1,-0.2 1,0 1,-0.1 1,-1.1 1,-0.7 1,-1.4 1,-0.6 1,0.4 1,1 1,0.1 1.1,-1.5 1,-1.9 1,-7.2 1,-18.1 1,-33.1 1,-44.3 1,-36.8 1,-0.7 1,36.6 1,44.8 1,33.1 1,17.2 1.1,8.3 1,2.7 1,1.3 1,0.8 1,0.7 1,0 1,0.1 1,0.7 1,0.4 1,-0.3 1,0.5 1,-0.2 1,-0.1 1.1,0.5 1,-0.4 1,0.3 1,-0.2 1,0.1 1,-0.4 1,0.2 1,0.6 1,-0.2 1,-0.1 1,-0.1 1,0.1 1.1,-0.4 1,0 1,0.3 1,-0.2 1,0.1 1,0.1 1,0.1 1,0.1 1,0.6 1,-0.1 1,-0.1 1,-0.4 1,-0.3 1.1,-0.3 1,0.2 1,-0.5 1,0.4 1,0.5 1,0.2 1,-0.2 1,-1.4 1,-1.2 1,-2.9 1,-3.2 1,-2.1 1,2.3 1.1,4.1 1,2.4 1,1.6 1,0 1,0 1,0.7 1,0.1 1,-0.6 1,0 1,-0.3 1,0.4 1,0.4 1.1,-0.3 1,0.1 1,-0.5 1,0.5 1,0.2 1,-0.1 1,-0.2 1,-0.4 1,0.6 1,-0.8 1,-1 1,-0.5 1,-3.1 1.1,0.4 1,1.7 1,1.7 1,1.2 1,0.5 1,-0.9 1,0.4 1,0.3 1,-0.1 1,-0.4 1,0 1,0.6 1,0.1 1.1,-0.3 1,-0.3 1,0.7 1,-1 1,0.6 1,0.8 1,-0.5 1,-0.1 1,-0.3 1,0.5 1,-0.5 1,0.3 1.1,0 1,-0.3 1,0.4 1,-0.5 1,0.1 1,0.2 1,0 1,0.3 1,0.1 1,-0.4 1,-0.1 1,0 1,0.1 1.1,0.3 1,-0.2 1,0.1 1,-0.1 1,-0.2 1,0.3 1,-0.3 1,0.2 1,0.4 1,-0.6 1,0 1,-0.3 1.1,0.2 1,-0.2 1,0.3 1,0 1,0.3 1,0.4 1,-0.3 1,0 1,-0.2 1,-0.1 1,-0.3 1,-0.7 1,1.1 1.1,-0.9 1,1.1 1,0 1,0.3 1,-0.5 1,-0.3 1,-0.1 1,0.1 1,0.3 1,0.6 1,-0.6 1,-0.3 1,-0.4 1.1,0.5 1,-0.3 1,0.5 1,0.3 1,-0.1 1,-0.1 1,-0.5 1,-0.1 1,0.9 1,-0.1 1,-0.6 1,0.3 1.1,0.1 1,0.1 1,-0.1 1,-0.2 1,0.2 1,0 1,-0.2 1,-0.6 1,-0.3 1,0.5 1,0 1,0.5 1,0.3 1.1,-0.2 1,-0.2 1,0.2 1,0.2 1,0.6 1,-0.6 1,0 1,-0.1 1,0.2 1,-0.4 1,0.2 1,-0.4 1,-0.1 1.1,0 1,0.3 1,-0.3 1,0.2 1,-0.2 1,0.6 1,0.1 1,-0.5 1,0 1,-0.5 1,0 1,-0.8 1.1,-0.3 1,1.1 1,0 1,-0.1 1,0.2 1,-0.1 1,0.3 1,0 1,0.7 1,-0.2 1,-0.7 1,-0.1 1,0.2 1.1,-0.2 1,0.5 1,0 1,-1 1,0.9 1,0.4 1,0.5 1,-0.2 1,-0.3 1,0 1,-0.3 1,0.1 1,-0.2 1.1,-0.2 1,0 1,0 1,-0.3 1,0.7 1,-0.5 1,0.2 1,0.2 1,-0.1 1,-0.3 1,0.1 1,-0.3 1.1,-0.2 1,-1.5 1,-2.3 1,-1.7 1,0.7 1,1.8 1,1.5 1,1.3 1,0.2 1,0.1 1,0.7 1,0 1,0.1 1.1,-0.4 1,0.3 1,-0.1 1,0.3 1,-0.3 1,-0.1 1,0.2 1,0.4 1,-0.3 1,-0.3 1,-0.1 1,0.1 1.1,0.6 1,-0.8 1,0.2 1,0.5 1,0.2 1,-0.3 1,0.2 1,0 1,0 1,-0.1 1,0.3 1,-0.2 1,0.1 1.1,-0.5 1,0.2 1,-0.5 1,-0.1 1,0.5 1,-0.2 1,0.2 1,-0.2 1,0.6 1,-0.4 1,-0.4 1,0.3 1,1.3 1.1,-1.6 1,0.2 1,0.2 1,-0.7 1,-0.7 1,-0.3 1,0.3 1,-0.3 1,-0.1 1,0.7 1,0.3 1,0.5 1.1,-0.7 1,-1.2 1,-1.7 1,-2.3 1,-3.3 1,-1.7 1,1.8 1,3.2 1,2.8 1,1.7 1,1.2 1,0.4 1,-0.5 1.1,0.9 1,-0.2 1,0.1 1,-0.4 1,0.1 1,0.1 1,0.1 1,0.2 1,-0.1 1,-0.4 1,0.2 1,0.3 1,-0.1 1.1,-0.2 1,-0.1 1,0 1,-0.2 1,0 1,0.7 1,-0.3 1,-0.1 1,-0.1 1,0.6 1,0.1 1,-0.5 1.1,0.1 1,-0.2 1,0.6 1,-0.2 1,-0.4 1,0.4 1,-0.1 1,-0.1 1,0 1,-0.3 1,0 1,0.3 1,-0.2 1.1,-0.1 1,0.7 1,-0.5 1,-0.2 1,0 1,0.4 1,0.1 1,-0.1 1,-0.1 1,-0.5 1,0.2 1,0 1.1,0.2 1,0 1,0.1 1,0.5 1,-0.7 1,0.1 1,0.2 1,0 1,-0.3 1,-0.8 1,0.4 1,0.5 1,-0.4 1.1,-0.3 1,-0.4 1,0.6 1,-0.6 1,-1 1,-0.4 1,-0.1 1,0.1 1,0.8 1,0.8 1,0.5 1,0.4 1,-0.2 1.1,-0.1 1,0.2 1,-0.2 1,-0.1 1,0.5 1,-0.2 1,0.1 1,0.1 1,-0.4 1,0.4 1,0 1,-0.1 1.1,0 1,-0.4 1,-0.3 1,0.4 1,0 1,0.5 1,-0.2 1,-0.2 1,0.2 1,0.4 1,0 1,-0.8 1,0.5 1.1,-0.2 1,0 1,0.2 1,-0.1 1,0 1,-0.7 1,0 1,0.1 1,0.4 1,0.5 1,-0.1 1,-0.6 1,-0.1 1.1,0.5 1,0 1,-0.4 1,0.4 1,-0.1 1,0.1 1,-0.3 1,-0.3 1,-0.7 1,-1.2 1,-0.8 1,-0.8 1.1,-0.1 1,1.9 1,-0.3 1,1.4 1,0.8 1,0.4 1,-0.1 1,-0.5 1,0.1 1,0.1 1,0.1 1,-0.4 1,0.5 1.1,0.3 1,-0.4 1,0.2 1,0.3 1,-0.2 1,0.2 1,0 1,-0.1 1,-0.1 1,-0.1 1,0.3 1,-0.4 1.1,-0.1 1,0.3 1,-0.3 1,0.3 1,0.1 1,-0.2 1,-0.1 1,0.2 1,0.2 1,-1 1,0 1,0.5 1,-0.4 1.1,-1.1 1,-0.5 1,-1 1,-2.2 1,-2.4 1,-2.8 1,-1.3 1,1 1,3.2 1,3.1 1,1.5 1,1.7 1,0.7 1.1,0.2 1,0 1,0.5 1,-0.5 1,0.5 1,0.2 1,0.1 1,0 1,-0.1 1,-0.4 1,-0.2 1,0.4 1.1,0.1 1,-0.2 1,-0.3 1,0.1 1,-0.1 1,0.3 1,-0.3 1,0.3 1,0.2 1,0 1,0.2 1,-0.6 1,-0.3 1.1,0.8 1,0.3 1,-0.1 1,-0.4 1,-0.2 1,-0.4 1,-0.7 1,-0.2 1,0.1 1,0.1 1,0.7 1,-0.3 1,0.4 1.1,0.6 1,-0.3 1,-0.2 1,-0.1 1,0.3 1,0.6 1,-0.2 1,0 1,-0.2 1,0.2 1,-0.1 1,-0.3 1.1,0.1 1,0.2 1,0.3 1,-0.3 1,0.2 1,0.2 1,-0.6 1,-0.2 1,0.5 1,0 1,-0.2 1,0 1,-0.1 1.1,0.2 1,-0.2 1,0.2 1,-0.5 1,0 1,0.2 1,-0.1 1,-0.9 1,0.6 1,-0.5 1,-0.6 1,-1.4 1.1,-1.7 1,-1.2 1,-0.2 1,1 1,1.7 1,1.5 1,1 1,0.8 1,0.2 1,-0.2 1,0.5 1,-0.1 1,-0.4 1.1,0.2 1,0.2 1,-0.1 1,0.2 1,-0.1 1,0 1,-0.3 1,0.1 1,-0.1 1,0.1 1,-0.4 1,0.4 1,0.6 1.1,-0.5 1,-0.2 1,0 1,-0.3 1,-0.2 1,0 1,-0.1 1,-0.3 1,-1.1 1,-1 1,-2 1,-1 1.1,0.3 1,1.4 1,0.9 1,0.9 1,1.4 1,0.4 1,0 1,0.1 1,0.2 1,0.3 1,0.1 1,-0.4 1,0.8 1.1,-0.5 1,-0.2 1,0.2 1,-0.1 1,0.3 1,-0.6 1,-1.1 1,-1.4 1,-1.9 1,-2.3 1,-1.9 1,-0.7 1,1.9 1.1,2.1 1,2.1 1,1.7 1,0.3 1,0.7 1,0.7 1,0.1 1,0 1,0.2 1,-0.2 1,0 1,-0.3 1.1,0 1,0.7 1,-0.2 1,-0.1 1,0.6 1,-0.1 1,-0.4 1,-0.1 1,-0.1 1,0.1 1,0.3 1,0.7 1,-0.7 1.1,0.2 1,0.1 1,0.2 1,-0.2 1,-0.7 1,0.4 1,-0.4 1,0 1,0.4 1,-0.2 1,0.1 1,0.3 1.1,-0.4 1,-0.1 1,0.3 1,0.2 1,-0.3 1,-0.6 1,-0.1 1,0 1,0.1 1,-0.4 1,0 1,0.2 1,0.1 1.1,0.4 1,0.2 1,-0.2 1,0.3 1,0.1 1,-0.3 1,0.4 1,0.1 1,0 1,-0.4 1,0.2 1,0.4 1,-0.2 1.1,-0.4 1,0.3 1,0.3 1,-0.3 1,0.1 1,0.5 1,-0.6 1,-0.2 1,-0.2 1,0.2 1,0.4 1,-0.3 1.1,-0.4 1,0.1 1,0.3 1,0.1 1,-0.2 1,0.2 1,-0.2 1,0.2 1,0.1 1,0 1,-0.3 1,0.1 1,0 1.1,-0.3 1,0.3 1,0.2 1,0.1 1,-0.3 1,0 1,0 1,-0.2 1,0.1 1,0.2 1,-0.1 1,-0.3 1,0 1.1,-0.2 1,0.5 1,-0.1 1,-1 1,0.8 1,0.5 1,0 1,0 1,-0.5 1,0.4 1,-0.2 1,-0.9 1.1,1 1,-0.1 1,0 1,-0.1 1,0.2 1,0 1,-0.1" fill="none" stroke="#0000ff" stroke-width="2" stroke-linejoin="round" shape-rendering="crispEdges"/>
<path d="M161.6,842.7l1,0.6 1,1.3 1,-0.8 1,-1.6 1,0.8 1.1,0 1,0.2 1,-0.8 1,-0.5 1,2.2 1,0.8 1,-0.7 1,-0.3 1,-0.8 1,1.8 1,-2 1,1.4 1.1,-0.6 1,-0.6 1,0.1 1,0.3 1,0.7 1,0.1 1,0.6 1,-1.9 1,0.7 1,0 1,0.6 1,-1.5 1,0.9 1.1,0.5 1,-0.7 1,1.4 1,0 1,0.4 1,-1.3 1,-0.2 1,0 1,0.1 1,1.3 1,0 1,-1 1.1,-0.2 1,0 1,0.2 1,0.3 1,0.5 1,1.2 1,-1.4 1,-0.1 1,0.3 1,-0.7 1,3.1 1,-2.3 1,0.3 1.1,-1 1,1.4 1,-0.7 1,0.2 1,0.5 1,0.1 1,0.1 1,-0.5 1,-0.2 1,0 1,-0.5 1,1.1 1,-1.1 1.1,-0.1 1,1.8 1,-1.1 1,-0.5 1,1.6 1,-0.8 1,0.3 1,-0.9 1,-0.1 1,-0.9 1,-0.2 1,0.8 1.1,0.8 1,1 1,0.3 1,-1.3 1,0.6 1,-0.7 1,-0.4 1,-0.4 1,-0.1 1,0.4 1,0 1,0.7 1,0 1.1,1 1,-0.4 1,0 1,1.3 1,-1.1 1,-0.4 1,-0.1 1,0.1 1,-2.2 1,2.9 1,-0.2 1,0 1,-0.6 1.1,0.2 1,-1.1 1,1.8 1,-0.4 1,-0.1 1,0.2 1,-0.3 1,0 1,0.7 1,-0.6 1,0.3 1,-0.4 1.1,-0.7 1,1.5 1,-0.6 1,0.2 1,1.4 1,-0.1 1,-1.1 1,0.1 1,0.4 1,0.2 1,-1 1,0.1 1,0.6 1.1,-0.4 1,0.2 1,-0.2 1,-1 1,-0.3 1,-0.7 1,1.4 1,0.9 1,-0.9 1,1 1,0.1 1,-0.6 1.1,-0.1 1,-0.1 1,-0.4 1,0.2 1,0.3 1,0.5 1,0 1,-0.7 1,0.5 1,-0.6 1,-1.2 1,1.8 1,-0.2 1.1,0 1,0.1 1,-0.4 1,-0.1 1,0.4 1,0.6 1,-0.2 1,0.8 1,-1.1 1,-1.7 1,1.3 1,1.3 1,-0.7 1.1,-0.5 1,0 1,1.1 1,0 1,-0.2 1,0 1,0.4 1,-0.4 1,-1 1,0.8 1,-0.1 1,0.5 1.1,-0.3 1,-0.6 1,-1.2 1,2.1 1,0.1 1,-0.7 1,-0.2 1,0.1 1,-0.6 1,0.7 1,-0.1 1,-1.2 1,0.7 1.1,0.3 1,1 1,0.2 1,-0.5 1,-0.5 1,-0.3 1,0.9 1,0.3 1,-1.3 1,-1.2 1,0.7 1,0.6 1,0.4 1.1,-0.8 1,-0.1 1,0.9 1,0.4 1,-0.4 1,0.6 1,-0.7 1,0.9 1,-0.5 1,-0.1 1,0.1 1,0.1 1.1,0.8 1,0.1 1,-0.9 1,-0.7 1,-0.6 1,0.2 1,0.3 1,0 1,-0.1 1,0 1,0 1,-1 1,0 1.1,0.8 1,-0.3 1,-1 1,-0.1 1,-1.9 1,-2.8 1,-7.9 1,-17.4 1,-35.2 1,-45.4 1,-31.5 1,11.3 1.1,43.9 1,41.8 1,26 1,11.9 1,4.7 1,2.1 1,1.1 1,0.8 1,-0.4 1,0.6 1,-0.5 1,0.6 1,0.2 1.1,0.7 1,-0.4 1,-0.4 1,0.4 1,0 1,-0.3 1,-0.1 1,0.1 1,1.5 1,-0.8 1,0 1,-0.9 1,-0.1 1.1,0.5 1,0.2 1,0.3 1,-0.6 1,0.7 1,0.3 1,-0.8 1,0.4 1,-0.5 1,0.4 1,0.3 1,0.4 1.1,-0.9 1,0.3 1,0.2 1,-0.8 1,0.3 1,-0.3 1,0.1 1,0.7 1,0.4 1,0.7 1,-0.4 1,-0.3 1,-0.7 1.1,-0.1 1,-0.1 1,-0.6 1,1.3 1,-0.7 1,-0.3 1,0.3 1,0.7 1,0.2 1,-0.6 1,0.1 1,0.5 1,-1.1 1.1,0.5 1,-0.1 1,-0.5 1,0.8 1,-0.8 1,0.4 1,-0.3 1,0 1,0.2 1,0.5 1,-0.7 1,0.5 1.1,0.6 1,-0.8 1,0.2 1,0.3 1,-0.4 1,0.2 1,-0.3 1,0.5 1,-0.3 1,-0.2 1,0.8 1,-0.5 1,-0.3 1.1,-0.2 1,0.1 1,0.3 1,0.2 1,0.2 1,-0.8 1,0.3 1,0.7 1,-0.3 1,0.1 1,0.4 1,-0.4 1.1,-0.1 1,0 1,0.6 1,-0.3 1,-0.7 1,0.2 1,-0.4 1,0.8 1,0 1,-0.5 1,-0.3 1,-0.3 1,-0.2 1.1,0.9 1,-0.1 1,0.3 1,-0.5 1,0.9 1,-1.1 1,0.1 1,1.3 1,-0.8 1,-0.2 1,0.2 1,-1.3 1,0.9 1.1,0.2 1,-0.3 1,0.3 1,-0.7 1,0.7 1,0.3 1,-1.2 1,0.2 1,0.6 1,0.1 1,-0.2 1,0.4 1.1,-0.1 1,-0.6 1,0.3 1,-0.5 1,-0.4 1,0.1 1,1.2 1,0 1,0.5 1,-1.1 1,0.2 1,0.7 1,-0.4 1.1,0.1 1,-0.1 1,-0.5 1,-0.6 1,0.6 1,1.1 1,-0.1 1,0 1,-0.7 1,0 1,-0.2 1,0.5 1,0 1.1,0.2 1,0.3 1,-0.7 1,0.5 1,-0.8 1,0.7 1,-0.4 1,0 1,0.3 1,0.4 1,-0.5 1,-0.4 1.1,-0.2 1,0.1 1,0 1,0.1 1,0.3 1,0.2 1,-0.4 1,0.5 1,0.3 1,-0.9 1,0.9 1,0.3 1,-1.9 1.1,1.1 1,0.7 1,-0.8 1,-0.1 1,0.1 1,-0.4 1,0 1,0.1 1,-0.1 1,0.1 1,0.1 1,-0.3 1.1,0.4 1,0.1 1,-0.8 1,0.6 1,-0.2 1,-0.2 1,-0.1 1,0.2 1,0.1 1,0.3 1,-0.3 1,0.5 1,-0.4 1.1,0.4 1,-0.1 1,-0.8 1,0.5 1,0.1 1,-0.9 1,0.2 1,0.1 1,0.3 1,0.1 1,0.1 1,0.5 1,0.1 1.1,-0.1 1,0.4 1,0 1,-0.3 1,-0.3 1,0.8 1,-0.3 1,-1.3 1,0.2 1,0.4 1,0.6 1,0.1 1.1,-0.5 1,0.1 1,0.1 1,-0.6 1,0.5 1,-0.2 1,0.1 1,-0.1 1,-0.5 1,0.1 1,1 1,-0.4 1,-0.2 1.1,0.3 1,-0.5 1,-0.4 1,0.2 1,0.1 1,0 1,0.4 1,-0.2 1,0 1,-0.4 1,-0.4 1,-0.1 1,-0.9 1.1,-1.4 1,-3.7 1,-7.5 1,-14.2 1,-19.3 1,-17.3 1,-4.4 1,12.1 1,19.7 1,17.5 1,10.6 1,5 1.1,2.2 1,0.9 1,0.4 1,0.8 1,-0.3 1,0.1 1,0.4 1,-0.3 1,-0.2 1,0.3 1,0.5 1,0.1 1,-0.1 1.1,-0.2 1,-0.1 1,0.5 1,-0.6 1,0.2 1,-0.2 1,0.2 1,0.3 1,0.2 1,-1 1,1 1,-0.8 1.1,0.7 1,1.2 1,-1.5 1,0.2 1,0.2 1,-0.2 1,-0.2 1,0.3 1,-0.1 1,-0.3 1,0.7 1,-0.3 1,-0.9 1.1,0.5 1,1 1,0.1 1,-0.6 1,-0.7 1,0.4 1,0.5 1,-0.1 1,-0.4 1,0 1,0.4 1,-0.2 1,0.1 1.1,0.2 1,0.3 1,-0.4 1,-0.3 1,-0.5 1,0.8 1,0.1 1,-0.5 1,-0.7 1,0.5 1,0.4 1,0.6 1.1,-0.3 1,-0.1 1,0.1 1,0 1,-0.8 1,-0.1 1,-0.1 1,-0.4 1,0.7 1,0.1 1,-0.3 1,0.1 1,0 1.1,0.6 1,-0.5 1,0.7 1,-1 1,-0.5 1,0.1 1,-0.8 1,-0.2 1,-2.3 1,-0.3 1,0.7 1,0.3 1,0.2 1.1,-0.6 1,-2.6 1,-6.9 1,-15.8 1,-29.9 1,-40.1 1,-33.3 1,1 1,32.6 1,40.3 1,29.8 1,15.6 1.1,7.5 1,1.8 1,1.4 1,0.7 1,0.7 1,-0.2 1,-0.1 1,0.4 1,-0.5 1,0.7 1,0.3 1,0.6 1,-0.4 1.1,0.3 1,-0.5 1,0 1,0.2 1,0.3 1,-0.5 1,0.2 1,-0.2 1,0.4 1,0.1 1,-0.4 1,0.2 1.1,1 1,-0.4 1,0 1,-0.4 1,-0.4 1,-0.1 1,0.8 1,0.3 1,-0.2 1,0.1 1,-0.5 1,0 1,0.4 1.1,-0.6 1,0.3 1,0 1,-0.1 1,0.3 1,-0.9 1,-0.4 1,-1.1 1,-1.4 1,-3 1,-4.1 1,-2.3 1,2.5 1.1,3.9 1,2.8 1,2.3 1,0.8 1,-0.2 1,0.4 1,0.8 1,0 1,0 1,-0.1 1,-0.2 1,-0.2 1.1,0.3 1,-0.2 1,-0.1 1,0.1 1,0.1 1,0.1 1,-0.3 1,0.6 1,-1 1,-0.5 1,-0.7 1,-2.2 1,-1.8 1.1,0 1,1 1,2.4 1,1.2 1,0.7 1,0.5 1,0.2 1,0.4 1,0 1,-0.2 1,-0.2 1,0.1 1,-0.5 1.1,0.3 1,0.5 1,-0.2 1,-0.7 1,0.2 1,0.5 1,0.1 1,-0.1 1,-0.8 1,0 1,0.3 1,-0.1 1.1,0.3 1,0.1 1,0.1 1,-0.1 1,0.2 1,0 1,-0.2 1,-0.3 1,0.6 1,-0.2 1,0.5 1,-0.7 1,-0.4 1.1,0.5 1,-0.3 1,-0.1 1,0.7 1,-0.3 1,0.1 1,0.3 1,0 1,-0.9 1,0.2 1,0.4 1,-0.5 1.1,-0.6 1,0.8 1,0.3 1,1.6 1,-1.6 1,-0.2 1,0.1 1,0 1,-0.2 1,0.2 1,0.3 1,-0.5 1,0.5 1.1,0 1,-0.2 1,-0.9 1,0.6 1,0.1 1,-0.2 1,0.3 1,-0.3 1,0.6 1,-0.2 1,-0.2 1,0.5 1,-0.2 1.1,-0.2 1,-0.3 1,0.4 1,0.4 1,-0.2 1,-0.5 1,0.6 1,0.2 1,-0.3 1,-0.5 1,-0.3 1,0.1 1.1,0.2 1,0.3 1,0 1,-0.4 1,-0.3 1,0.3 1,-0.1 1,0.6 1,-0.5 1,0.4 1,0.1 1,-0.4 1,0.4 1.1,-0.3 1,-0.2 1,-0.1 1,0.4 1,0.2 1,-0.7 1,0.5 1,-0.1 1,-0.2 1,0.2 1,0 1,0.1 1,0.1 1.1,-0.3 1,0.7 1,-0.2 1,-0.6 1,-0.4 1,0.4 1,0 1,0.4 1,-0.4 1,-0.1 1,-0.8 1,-0.1 1.1,-0.2 1,0.4 1,0.8 1,-0.1 1,0.1 1,0 1,0.3 1,0.1 1,-0.3 1,-0.2 1,0.3 1,-0.2 1,0.1 1.1,0.2 1,-0.1 1,-0.5 1,0.9 1,0.1 1,0.3 1,0 1,-0.9 1,-0.1 1,0.3 1,0.2 1,-0.4 1,0.1 1.1,0.3 1,-0.5 1,0.3 1,0.2 1,-0.3 1,0.1 1,-0.3 1,-0.4 1,0.2 1,0.1 1,-0.2 1,-0.2 1.1,-0.5 1,-1.2 1,-1.8 1,-1.6 1,0 1,1.4 1,1.7 1,1.6 1,0 1,0.6 1,-0.2 1,0.3 1,0.4 1.1,-0.1 1,0.3 1,-0.5 1,0.1 1,-0.1 1,0.2 1,-0.1 1,0 1,0.2 1,0.3 1,-0.2 1,-0.1 1.1,-0.2 1,-0.1 1,-0.3 1,0.2 1,0.2 1,-0.3 1,0.5 1,-0.2 1,-0.2 1,0.2 1,0.3 1,0 1,0 1.1,0.5 1,0 1,-0.8 1,0.3 1,-0.4 1,-0.2 1,0.3 1,0.4 1,-0.3 1,0 1,0.4 1,-0.2 1,-0.1 1.1,0.3 1,-0.5 1,-0.7 1,-0.5 1,-0.2 1,0.1 1,0.4 1,0.2 1,0.1 1,-0.1 1,0.5 1,-0.3 1.1,-0.7 1,-0.8 1,-1.3 1,-2.6 1,-3.1 1,-1.9 1,2.1 1,2.4 1,3.1 1,2.1 1,0.7 1,-0.1 1,0.6 1.1,0.3 1,-0.1 1,-0.3 1,0.5 1,-0.7 1,0.3 1,-0.2 1,0.2 1,0.1 1,0.1 1,-0.3 1,0.4 1,0.3 1.1,-0.3 1,0.1 1,-0.1 1,-0.3 1,0.1 1,0.1 1,-0.3 1,1 1,-0.1 1,-0.6 1,-0.2 1,-0.2 1.1,-0.2 1,0.9 1,-0.2 1,-0.6 1,0.6 1,0.6 1,-0.4 1,-0.1 1,-0.1 1,-0.3 1,-0.2 1,0.2 1,0.2 1.1,0 1,0.3 1,0.3 1,-0.2 1,-0.1 1,-0.4 1,-0.1 1,0.8 1,-0.2 1,0 1,-1.4 1,0.6 1.1,0.6 1,-0.7 1,0.3 1,0.1 1,0.2 1,0.2 1,-0.1 1,-0.7 1,0.5 1,-0.4 1,0.4 1,-0.2 1,-0.3 1.1,0 1,-0.3 1,0.1 1,-0.1 1,-0.7 1,-0.7 1,0.1 1,0.4 1,0.9 1,0.1 1,0 1,0 1,0.3 1.1,0.2 1,0.1 1,0.3 1,0.1 1,-0.2 1,0 1,-0.3 1,-0.1 1,-0.4 1,0.3 1,0.4 1,0.6 1.1,-0.8 1,0.2 1,-0.1 1,-0.3 1,0.4 1,0 1,-0.5 1,-0.2 1,0.5 1,-0.1 1,0.4 1,-0.1 1,0.2 1.1,-0.1 1,0.4 1,-0.1 1,0.1 1,-0.4 1,-0.4 1,-0.1 1,0.2 1,0.2 1,0 1,1.1 1,-0.9 1,-0.1 1.1,-0.1 1,-0.3 1,0.5 1,0 1,-0.1 1,-0.5 1,0 1,-0.3 1,-0.3 1,-0.5 1,-1.4 1,-0.5 1.1,-0.5 1,0.7 1,1.4 1,0.7 1,0.7 1,0.3 1,0.2 1,-0.3 1,-0.4 1,0.5 1,-0.1 1,0.3 1,-0.1 1.1,0.4 1,-0.3 1,0.2 1,0.1 1,-0.3 1,0 1,-0.1 1,-0.2 1,0.5 1,-0.5 1,-0.3 1,0.3 1.1,0.2 1,0 1,-0.2 1,-0.1 1,-0.3 1,0.6 1,0.3 1,-0.7 1,-0.3 1,0.5 1,-0.4 1,-1 1,0.4 1.1,-0.3 1,-0.5 1,-0.5 1,-2.3 1,-3.1 1,-2.7 1,-0.9 1,0.7 1,3 1,2.6 1,2.4 1,1.1 1,0.5 1.1,0.8 1,0.3 1,-0.1 1,-0.1 1,-0.6 1,0.6 1,0.4 1,-0.3 1,0.2 1,0.3 1,-0.1 1,-0.1 1.1,0 1,0 1,0.1 1,-0.4 1,-0.3 1,0.7 1,-0.3 1,0.6 1,-0.1 1,0.6 1,-0.5 1,-0.3 1,0 1.1,-0.5 1,0.2 1,-0.1 1,-0.1 1,-0.5 1,-0.5 1,0.4 1,-0.4 1,-0.3 1,0.2 1,0.3 1,0.4 1,0.5 1.1,0 1,0.3 1,-0.4 1,-0.3 1,0.3 1,0.2 1,-0.2 1,0.1 1,0.1 1,0.4 1,0.1 1,-0.1 1.1,-0.4 1,0.2 1,0.3 1,-0.3 1,-0.1 1,-0.1 1,0.3 1,0 1,0.1 1,-0.2 1,0.4 1,-0.5 1,-0.3 1.1,0.3 1,0.2 1,0.1 1,-0.5 1,-0.1 1,0 1,-0.2 1,-0.4 1,0 1,0.3 1,-1.3 1,-1.3 1.1,-1.2 1,-1.4 1,0 1,0.7 1,1.6 1,0.9 1,0.7 1,0.6 1,0.4 1,0.7 1,0.2 1,-0.1 1,-0.1 1.1,-0.4 1,0.6 1,-0.3 1,0.7 1,0.3 1,-0.6 1,0.1 1,0.9 1,-1.5 1,-0.1 1,0.2 1,0.3 1,0.2 1.1,-0.2 1,0.1 1,-0.4 1,-0.3 1,0.2 1,-0.1 1,-0.5 1,0 1,-1.2 1,-1.3 1,-1.2 1,-1.3 1.1,0.3 1,1.9 1,0.7 1,1.1 1,0.6 1,0.5 1,0.5 1,0.5 1,-0.7 1,0.5 1,0.2 1,0 1,-0.6 1.1,0.2 1,0.3 1,-0.5 1,-0.1 1,0.1 1,-0.5 1,-0.4 1,-1.5 1,-1.6 1,-1.9 1,-2.6 1,-1.2 1,1.4 1.1,2.5 1,2.4 1,1.4 1,1.4 1,0.9 1,0.2 1,-0.5 1,0.1 1,0.1 1,0 1,0.5 1,-0.4 1.1,-0.2 1,0.4 1,0.2 1,0.3 1,0 1,-0.6 1,-0.4 1,0.6 1,0.3 1,0.1 1,-0.9 1,0.1 1,0.8 1.1,0.1 1,-0.1 1,-0.3 1,0.1 1,-0.4 1,-0.2 1,0.3 1,0.1 1,0.2 1,0 1,-0.7 1,0.4 1.1,0.1 1,-0.4 1,0.1 1,0.2 1,0 1,-0.5 1,-0.1 1,-0.5 1,0 1,-0.4 1,0 1,0.5 1,0.2 1.1,0.1 1,0.8 1,0.1 1,-0.1 1,-0.3 1,0.4 1,-0.4 1,-0.3 1,0.5 1,0.5 1,-0.4 1,0.2 1,0.2 1.1,-0.3 1,-0.2 1,0.1 1,0.1 1,-0.2 1,0.2 1,0 1,-0.2 1,0.3 1,-0.1 1,-0.2 1,0 1.1,0.1 1,-0.1 1,0 1,-0.2 1,0.3 1,0.2 1,-0.1 1,-0.3 1,0.3 1,0 1,-0.3 1,0.2 1,-0.1 1.1,0 1,0.1 1,-0.2 1,-0.4 1,0.4 1,-0.1 1,0.2 1,0.2 1,-0.2 1,0 1,0.1 1,0.1 1,-0.3 1.1,0 1,0.4 1,0.2 1,-0.3 1,0.1 1,-0.4 1,0.9 1,-0.8 1,-0.2 1,0.2 1,-0.1 1,-0.5 1.1,0 1,0.8 1,0 1,-0.1 1,-0.3 1,0 1,0.2" fill="none" stroke="#ff0000" stroke-width="2" stroke-linejoin="round" shape-rendering="crispEdges"/>
<path d="M161.6,999.9l1,-0.4 1,0.9 1,0.9 1,0.5 1,-0.7 1.1,-0.7 1,0.3 1,1 1,0.7 1,-1.1 1,-1.2 1,0.4 1,1.8 1,-0.9 1,2.5 1,-3.1 1,-0.5 1.1,0.3 1,0.2 1,0.1 1,0.8 1,-0.3 1,-0.2 1,0.7 1,0.1 1,-1.5 1,0.6 1,-0.2 1,0.4 1,-0.5 1.1,0.8 1,0.2 1,-0.3 1,-0.5 1,0.3 1,-0.4 1,0 1,0.9 1,-0.3 1,1.3 1,-0.3 1,-1.6 1.1,1 1,-0.4 1,0.6 1,-0.1 1,-1.1 1,0.9 1,0.5 1,0.5 1,-1 1,0.8 1,-0.9 1,0.3 1,0.1 1.1,1.4 1,0 1,0.9 1,-0.9 1,-0.1 1,-0.1 1,-0.9 1,0.4 1,0.8 1,-0.9 1,0.2 1,0 1,0.3 1.1,-0.5 1,0.1 1,0.3 1,-0.2 1,-0.4 1,0.8 1,-1.2 1,-0.2 1,0.3 1,1.3 1,-0.6 1,-0.6 1.1,0 1,0.8 1,-0.7 1,-0.1 1,1 1,-0.8 1,0.4 1,0.3 1,-0.2 1,0.4 1,0.7 1,-1 1,-0.8 1.1,-0.2 1,0.9 1,0.3 1,0.3 1,-0.4 1,-0.1 1,-0.1 1,0.2 1,0.4 1,-0.2 1,0.5 1,1 1,-0.9 1.1,-1 1,1.6 1,-0.6 1,-0.7 1,0.9 1,-0.4 1,-0.5 1,-0.1 1,-0.1 1,0.8 1,0.6 1,-0.6 1.1,0.5 1,0.6 1,-1.5 1,0.4 1,-0.2 1,-0.5 1,0 1,0.7 1,0.3 1,-0.4 1,-1.7 1,2.5 1,-0.1 1.1,0.2 1,-0.1 1,0.1 1,0.7 1,-0.6 1,-0.4 1,0.1 1,-0.8 1,0.3 1,0.7 1,0.2 1,-0.3 1.1,-0.3 1,-0.7 1,1.7 1,-0.3 1,-1 1,0.9 1,-0.7 1,-1 1,0.2 1,0.7 1,0.8 1,-1 1,-0.1 1.1,0 1,-0.2 1,-0.4 1,1 1,-0.6 1,-1.7 1,-4.6 1,-7.3 1,-7.5 1,-0.3 1,7.9 1,7 1,5.5 1.1,1 1,-0.3 1,1.1 1,0.3 1,-1.7 1,0.7 1,0.5 1,0.6 1,-0.3 1,-0.1 1,0.4 1,1.1 1.1,0.1 1,-1.4 1,-0.1 1,1.5 1,-1.5 1,-0.1 1,0.4 1,0.4 1,0.3 1,-0.4 1,-0.6 1,0.6 1,0.2 1.1,0.6 1,-1 1,-0.8 1,0.3 1,1.1 1,-0.9 1,-0.9 1,0.7 1,0.6 1,0.5 1,-0.9 1,0.7 1,0.1 1.1,-0.7 1,0.3 1,1.1 1,0.1 1,-0.5 1,-0.3 1,0.2 1,-0.6 1,-0.2 1,-0.3 1,0.4 1,0.3 1.1,1.1 1,-1 1,0.4 1,0 1,-0.7 1,0.1 1,-1.3 1,0.8 1,0.2 1,-1.5 1,0.4 1,1 1,-0.7 1.1,-0.7 1,-0.1 1,-0.2 1,-0.1 1,-1.1 1,-3 1,-7.3 1,-17.2 1,-32.7 1,-44 1,-29.8 1,10.5 1.1,40.3 1,40.6 1,26 1,11.2 1,3.6 1,1.4 1,1.5 1,0.5 1,0.3 1,0.3 1,0.5 1,0.4 1,0.4 1.1,0.2 1,0.2 1,-0.2 1,-0.5 1,0.1 1,0.3 1,-0.2 1,0.4 1,0.2 1,-0.9 1,-0.4 1,1.3 1,-0.2 1.1,0 1,-0.5 1,1.1 1,-0.2 1,-0.5 1,-0.2 1,0.2 1,-0.1 1,-0.1 1,-0.2 1,1 1,-0.4 1.1,-0.1 1,-0.2 1,-0.8 1,1 1,-0.1 1,0 1,0.1 1,-0.3 1,0.6 1,-0.5 1,-0.3 1,0.1 1,0.6 1.1,0.2 1,-0.6 1,-0.3 1,0.9 1,-0.5 1,0.7 1,-0.4 1,-0.4 1,0.1 1,0.5 1,0.2 1,-0.3 1,0.5 1.1,0.4 1,-1 1,-0.6 1,-0.1 1,-0.1 1,0.3 1,0 1,-0.1 1,0.5 1,-1.1 1,0.6 1,1.5 1.1,-0.1 1,-0.4 1,0.1 1,0.5 1,-0.5 1,-0.4 1,-0.5 1,0.3 1,-0.2 1,0 1,0 1,0.3 1,0.1 1.1,0.3 1,-0.8 1,0.5 1,0.8 1,1.2 1,-1.3 1,0.1 1,0 1,-0.4 1,-0.9 1,0.3 1,-0.1 1.1,-0.4 1,0.3 1,-0.2 1,-0.1 1,0.7 1,-1.5 1,1.2 1,1.7 1,-1.6 1,0.1 1,0 1,0.1 1,0 1.1,0.3 1,0.1 1,-0.1 1,-0.5 1,0.1 1,0.3 1,-0.1 1,-0.2 1,-1 1,-0.1 1,1.3 1,0.3 1,0.4 1.1,-0.2 1,-0.3 1,-0.3 1,-0.4 1,0.7 1,-0.3 1,0.3 1,0 1,0 1,0.1 1,-0.5 1,-0.1 1.1,-0.2 1,0.3 1,0.7 1,-0.7 1,0.3 1,-1.5 1,0.4 1,-1.2 1,-2.1 1,-1.6 1,1.2 1,-0.3 1,1.6 1.1,1.2 1,1.2 1,0.2 1,1 1,-0.4 1,-0.4 1,1.2 1,0 1,-0.2 1,-0.1 1,-0.3 1,0 1,0.5 1.1,0.1 1,0 1,-0.3 1,-0.3 1,0.1 1,0.6 1,0.1 1,-0.7 1,0 1,0.6 1,-0.1 1,-0.2 1.1,-0.7 1,0.2 1,0.1 1,0.1 1,-0.4 1,0.9 1,-0.1 1,-0.2 1,-0.5 1,0.4 1,0.4 1,-0.9 1,0.6 1.1,0.2 1,-0.4 1,0.3 1,-0.1 1,0.4 1,-0.2 1,0 1,0.6 1,-0.3 1,-0.1 1,-0.9 1,0.1 1.1,0.6 1,0.1 1,-0.3 1,0 1,-0.5 1,0.2 1,-0.4 1,0.3 1,-0.3 1,-0.5 1,-0.1 1,0 1,-1.4 1.1,-0.2 1,0.9 1,-0.3 1,0.8 1,-0.2 1,0 1,0.5 1,0.9 1,0 1,0.1 1,-0.1 1,-0.5 1,0.3 1.1,0.9 1,-0.1 1,-0.1 1,-0.1 1,-0.3 1,0.1 1,-0.2 1,0.2 1,-0.2 1,0.1 1,0.3 1,-0.2 1.1,0.3 1,0 1,0 1,0.9 1,-1.4 1,-0.4 1,0.8 1,0.3 1,0.3 1,-0.3 1,-0.3 1,-0.5 1,0.5 1.1,-0.1 1,-0.6 1,-0.1 1,0.3 1,-1.1 1,0.1 1,0.7 1,0.2 1,-0.2 1,0 1,-0.2 1,-0.8 1,-0.2 1.1,-1.4 1,-3.3 1,-6.6 1,-12.7 1,-18.9 1,-16.7 1,-4 1,12.7 1,17.9 1,15.8 1,9.6 1,4.6 1.1,1.7 1,1.6 1,0.4 1,-0.5 1,0.4 1,0.4 1,0.4 1,0.3 1,0.4 1,0.1 1,0 1,0 1,-0.8 1.1,0.2 1,0.6 1,-0.2 1,-0.3 1,-0.7 1,0.1 1,0.9 1,0 1,-0.2 1,-0.2 1,-0.3 1,0.7 1.1,0.4 1,0.2 1,-0.6 1,-0.2 1,-0.2 1,0.8 1,0.2 1,-0.7 1,0.1 1,0 1,-0.4 1,-0.6 1,0.7 1.1,0.3 1,-0.6 1,-0.1 1,-0.4 1,1.3 1,0 1,-0.2 1,-0.2 1,-0.1 1,0.2 1,-0.1 1,0 1,0.1 1.1,0.2 1,0.3 1,-0.8 1,0.3 1,-0.2 1,-0.4 1,-0.2 1,0.2 1,0.3 1,0 1,0.3 1,-0.3 1.1,0.2 1,0.1 1,0.3 1,0 1,-0.5 1,0.4 1,-0.3 1,0 1,-0.1 1,0.2 1,-0.5 1,0.3 1,0.3 1.1,-0.3 1,0.4 1,-0.8 1,0 1,-0.4 1,-0.5 1,-0.9 1,-1 1,-1.1 1,-0.3 1,1.3 1,0.7 1,-0.7 1.1,-0.3 1,-2.3 1,-6.3 1,-14.5 1,-28.8 1,-38.7 1,-31.5 1,-0.6 1,31.9 1,39.3 1,27.6 1,16.7 1.1,5.4 1,2.8 1,0.8 1,0.5 1,0 1,0.4 1,0.3 1,-0.3 1,0.9 1,-0.6 1,0 1,1 1,0.2 1.1,-0.8 1,0.1 1,1.1 1,-0.9 1,-0.7 1,0.5 1,0.8 1,-0.2 1,0 1,0.1 1,-0.2 1,-0.4 1.1,-0.3 1,0.5 1,-0.3 1,0.3 1,0.6 1,-0.3 1,-0.2 1,0 1,0.2 1,0 1,0.1 1,-0.3 1,0.5 1.1,-0.3 1,-0.6 1,-0.2 1,-0.4 1,0.4 1,0.6 1,-0.7 1,-0.9 1,-1.3 1,-2.6 1,-3.5 1,-1.3 1,1.1 1.1,4.1 1,2.9 1,0.8 1,0.6 1,0.6 1,-0.5 1,0.2 1,0.2 1,0.2 1,-0.1 1,-0.2 1,0.3 1.1,-0.4 1,-0.3 1,0.1 1,0.6 1,-0.4 1,0.5 1,0.2 1,-0.1 1,-0.5 1,-0.6 1,-0.8 1,-1.7 1,-1.5 1.1,0.6 1,1.1 1,2.1 1,0.7 1,0.1 1,0.4 1,0.2 1,-0.6 1,-0.1 1,0.1 1,0.4 1,0.2 1,-0.2 1.1,-0.2 1,0.1 1,0.8 1,-0.2 1,-0.4 1,-0.4 1,0.5 1,0 1,0.1 1,0.4 1,-0.3 1,-0.6 1.1,0 1,0.7 1,1.3 1,-1.4 1,-0.3 1,-0.3 1,0.5 1,0.4 1,-0.4 1,-0.5 1,0.2 1,0 1,0.2 1.1,0.4 1,0.2 1,-0.5 1,-0.2 1,0.1 1,0 1,-0.2 1,0.2 1,-0.1 1,-0.2 1,0.3 1,-0.2 1.1,-0.1 1,0.3 1,0 1,0.5 1,-0.3 1,-0.2 1,-0.3 1,0.2 1,0.3 1,-0.3 1,0.1 1,-0.6 1,0.6 1.1,0.3 1,-0.2 1,0 1,0.1 1,-0.5 1,-0.1 1,0.4 1,0.4 1,-0.2 1,-0.2 1,0.1 1,-0.1 1,-0.5 1.1,-0.5 1,0.4 1,0 1,0.2 1,-0.1 1,0.2 1,0 1,0.3 1,0.1 1,0.3 1,-0.5 1,0 1.1,0.4 1,-0.7 1,-0.1 1,0.8 1,-0.1 1,0 1,0.1 1,0 1,-0.4 1,0 1,-0.2 1,0.1 1,0.2 1.1,-0.1 1,0.4 1,0.5 1,-0.9 1,0.3 1,0.2 1,-0.1 1,-0.4 1,0.4 1,-0.1 1,-0.2 1,-0.1 1,0.2 1.1,0.2 1,0.1 1,0.3 1,-0.7 1,0.1 1,-0.3 1,0.2 1,-0.3 1,-0.6 1,-0.5 1,-0.2 1,0.2 1.1,0.1 1,0.6 1,-0.3 1,0.4 1,0.4 1,0 1,0.2 1,0.2 1,-0.2 1,-0.4 1,-0.3 1,0.3 1,-0.2 1.1,0.4 1,0.1 1,-0.3 1,0.2 1,0.1 1,0.6 1,-0.4 1,-0.7 1,0.6 1,0 1,-0.1 1,-0.1 1,0.3 1.1,0 1,-0.1 1,-0.4 1,0 1,-0.3 1,0 1,0.2 1,-0.1 1,0.3 1,0.6 1,-0.6 1,-0.9 1.1,-1 1,-0.9 1,-1.9 1,-1.5 1,0.7 1,1.4 1,2 1,1.8 1,0 1,0.1 1,0.2 1,-0.1 1,-0.1 1.1,0.2 1,0.4 1,-0.4 1,-0.3 1,-0.1 1,0.2 1,0.3 1,0.2 1,0.1 1,0.1 1,-0.3 1,0.2 1.1,0 1,-0.1 1,-0.5 1,0.6 1,-0.6 1,0.1 1,0.4 1,0 1,0.4 1,-0.4 1,-0.3 1,0.2 1,0 1.1,0.5 1,0.1 1,-0.3 1,0.7 1,-1.2 1,0.5 1,-0.5 1,0 1,0.4 1,0 1,-0.3 1,-0.2 1,-0.3 1.1,0.6 1,-0.4 1,-0.7 1,-0.4 1,-0.1 1,0.5 1,-0.1 1,-0.1 1,1 1,0.1 1,-0.7 1,-0.4 1.1,0.5 1,-0.8 1,-1.4 1,-2.2 1,-2.1 1,-1.1 1,1.1 1,2.2 1,2.4 1,1.3 1,0.3 1,0.9 1,-0.1 1.1,0.5 1,-0.3 1,0.3 1,0.2 1,0.2 1,-0.7 1,-0.2 1,0.2 1,0 1,0.3 1,-0.3 1,0.2 1,0.3 1.1,0 1,-0.2 1,0.3 1,-0.1 1,-0.7 1,0.4 1,0 1,-0.1 1,-0.1 1,0.2 1,0.1 1,0 1.1,0.3 1,-0.1 1,-0.5 1,0 1,0.3 1,-0.3 1,-0.6 1,1 1,0.1 1,0 1,0.1 1,-0.4 1,0.1 1.1,-0.3 1,0.2 1,0 1,-0.4 1,-0.3 1,0.8 1,0 1,-0.1 1,-0.2 1,0.1 1,0.2 1,0 1.1,0.2 1,-0.3 1,-0.2 1,-0.7 1,0.7 1,0.1 1,-0.5 1,0.4 1,0.2 1,-0.2 1,0.1 1,0.1 1,0 1.1,0.2 1,-0.6 1,-0.4 1,-0.6 1,-1.1 1,-0.4 1,0.4 1,0.4 1,0.9 1,0.3 1,0.3 1,0.5 1,0.1 1.1,0.2 1,-0.5 1,0.3 1,0.2 1,0 1,0.1 1,0 1,0.3 1,-0.7 1,0.3 1,-0.1 1,0.2 1.1,0.1 1,-0.3 1,-0.4 1,0.2 1,0.3 1,-0.2 1,0.3 1,-0.2 1,-0.1 1,-0.2 1,0.2 1,0.3 1,-0.4 1.1,-0.1 1,0 1,0.3 1,-0.5 1,0.2 1,0.5 1,0.1 1,-0.4 1,0.1 1,-0.6 1,0.5 1,0 1,-0.5 1.1,-0.2 1,0.4 1,0.2 1,0 1,0 1,0 1,-0.2 1,-0.9 1,-0.4 1,-0.7 1,-0.6 1,-1 1.1,0.2 1,0.7 1,1.4 1,0.3 1,0.5 1,0.3 1,0.3 1,0.6 1,-0.6 1,-0.2 1,0.2 1,0.2 1,-0.3 1.1,0.4 1,0 1,-0.2 1,-0.1 1,-0.1 1,0 1,0.1 1,0.9 1,-0.3 1,-0.5 1,-0.1 1,-0.5 1.1,0.3 1,0.3 1,0 1,0 1,0.2 1,0.3 1,-0.6 1,0.2 1,-0.8 1,0 1,0 1,-0.1 1,-0.1 1.1,-0.3 1,-0.7 1,-1.2 1,-1.9 1,-2.7 1,-3 1,-1.5 1,1.2 1,3 1,3.1 1,2.1 1,1.4 1,0.7 1.1,0.3 1,-0.2 1,0.6 1,0.1 1,0.3 1,-0.3 1,-0.1 1,-0.1 1,0 1,-0.4 1,0.3 1,0.2 1.1,0.2 1,-0.3 1,0.2 1,0.3 1,-0.4 1,0.2 1,-0.3 1,0.1 1,0.2 1,0 1,-0.3 1,-0.1 1,0.4 1.1,0 1,0 1,0 1,-0.1 1,-0.5 1,-0.6 1,-0.3 1,-0.1 1,-0.2 1,0.4 1,0.8 1,0.1 1,-0.1 1.1,-0.1 1,0.6 1,0.3 1,-0.5 1,0.1 1,-0.1 1,0 1,-0.1 1,-0.2 1,0.1 1,0 1,0.7 1.1,0 1,-0.3 1,0 1,0 1,0 1,0 1,-0.1 1,-0.1 1,-0.3 1,0 1,0.2 1,0.2 1,0 1.1,0.4 1,-0.4 1,-0.1 1,0.2 1,0.2 1,0.1 1,-0.3 1,-0.6 1,-0.1 1,-0.1 1,-0.9 1,-1 1.1,-1.6 1,-0.9 1,-0.3 1,0.8 1,1 1,0.9 1,1 1,1 1,0.3 1,-0.6 1,0.6 1,0.6 1,0 1.1,-0.3 1,0.2 1,-0.1 1,0 1,0.3 1,0 1,-0.5 1,-0.2 1,-0.1 1,0.1 1,0.7 1,0.2 1,-0.4 1.1,0 1,-0.3 1,0 1,0.2 1,-0.1 1,-0.4 1,-0.7 1,-0.4 1,-0.6 1,-1.2 1,-1.4 1,-1.2 1.1,0.1 1,1.2 1,1.6 1,1.1 1,0.7 1,0.5 1,0.5 1,-0.1 1,-0.2 1,0.1 1,0.3 1,0.2 1,0.1 1.1,-0.3 1,0.2 1,-0.4 1,-0.2 1,-0.2 1,-0.1 1,-0.5 1,-1.5 1,-2.1 1,-2.6 1,-1.8 1,-0.6 1,1.5 1.1,2.3 1,2.1 1,1.8 1,1.2 1,0.6 1,0.1 1,0.1 1,0 1,0 1,-0.2 1,0.6 1,0.1 1.1,0.1 1,-0.4 1,0 1,-0.1 1,0.2 1,0 1,0.2 1,-0.2 1,0.1 1,-0.1 1,0.1 1,-0.1 1,-0.1 1.1,0.2 1,0 1,-0.5 1,0 1,0.4 1,-0.1 1,-0.5 1,0.1 1,0.3 1,-0.3 1,0.7 1,0.2 1.1,0.1 1,0.1 1,-0.8 1,0.1 1,0.2 1,-0.6 1,-0.3 1,0.1 1,0 1,-0.4 1,-0.7 1,0.3 1,0.7 1.1,0.3 1,0.3 1,0.3 1,0.3 1,-0.3 1,0 1,0 1,0.2 1,-0.4 1,0 1,-0.1 1,-0.1 1,1.4 1.1,-0.8 1,0.2 1,-0.2 1,0 1,-0.1 1,0 1,-0.1 1,0.3 1,-0.3 1,0.4 1,-0.3 1,0.1 1.1,-0.1 1,0.1 1,0.2 1,-0.3 1,-0.3 1,0.2 1,0 1,-0.5 1,0.7 1,0 1,-0.6 1,0.3 1,0.2 1.1,-0.4 1,0.1 1,0.1 1,0.3 1,0.1 1,-0.2 1,0 1,-0.6 1,0.7 1,-0.1 1,0.2 1,-0.6 1,0.2 1.1,0 1,0 1,0.1 1,0.2 1,0.5 1,-0.4 1,-0.1 1,0.3 1,-0.2 1,-0.7 1,0.4 1,0.2 1.1,-0.3 1,0.1 1,-0.1 1,0.1 1,-0.5 1,-0.2 1,0.5" fill="none" stroke="#000000" stroke-width="2" stroke-linejoin="round" shape-rendering="crispEdges"/>
<path d="M156.7,1803.0l1.1,1.1 1,-0.2 1,-1.3 1,-0.1 1,0.1 1,0.7 1,-0.3 1,0.3 1,-1.3 1,1.9 1,-0.5 1,0.2 1,-0.5 1,-0.2 1.1,0.7 1,-0.7 1,0.3 1,0 1,0.4 1,-1.1 1,-0.4 1,2.4 1,-1.9 1,-0.8 1,0.7 1,0.3 1,-0.5 1,-0.1 1,1.3 1.1,0.7 1,-0.8 1,-0.3 1,0.8 1,0.3 1,-0.6 1,0.6 1,0.3 1,-0.9 1,-0.4 1,0.7 1,0.3 1,0.2 1,-1.4 1,0.1 1.1,-0.2 1,-0.3 1,1.2 1,0.4 1,-0.5 1,1.3 1,-0.1 1,-0.3 1,0 1,0 1,-1.2 1,1 1,0 1,-1.3 1.1,1 1,0.1 1,0.4 1,-0.6 1,0.2 1,0.2 1,-0.6 1,0.8 1,-0.2 1,0.2 1,-0.4 1,0.9 1,-0.2 1,-0.4 1,0.5 1.1,0.6 1,0 1,-1.8 1,1.1 1,0 1,-0.5 1,-0.3 1,1 1,-1.1 1,1 1,0.3 1,-1.6 1,0.4 1,-0.3 1,1.1 1.1,1.1 1,0 1,-2.2 1,0.4 1,1.2 1,0.5 1,-0.7 1,-0.8 1,0.5 1,0 1,-0.3 1,-0.2 1,0.7 1,0 1.1,-0.2 1,-0.3 1,-0.5 1,0.6 1,0.9 1,1 1,-2.3 1,1.4 1,0.1 1,0.6 1,-1.1 1,-0.7 1,-0.3 1,1.8 1,0.7 1.1,-1.9 1,-0.2 1,0.6 1,-0.6 1,0.2 1,0.1 1,0.4 1,0.5 1,-0.4 1,0.3 1,-1 1,0.4 1,-1.3 1,0.4 1,1.2 1.1,-0.3 1,0.5 1,0.2 1,0.4 1,-0.1 1,-0.1 1,-0.7 1,-0.5 1,0 1,0 1,-0.2 1,0.3 1,0.4 1,0.2 1,-0.5 1.1,-0.8 1,1 1,0.5 1,0.5 1,-0.4 1,-0.7 1,0.1 1,1.4 1,-0.2 1,0.5 1,-0.1 1,-1.4 1,0.3 1,0.2 1.1,0.1 1,0 1,-0.2 1,-0.3 1,-0.7 1,0.4 1,0 1,0.3 1,0 1,0.5 1,0.2 1,-0.2 1,-0.1 1,-0.2 1,-0.3 1.1,0.1 1,-0.1 1,0.5 1,-0.1 1,0.1 1,-0.7 1,0.8 1,-0.6 1,-0.2 1,0.3 1,0 1,1 1,-1.1 1,-0.3 1,0.3 1.1,1 1,-0.6 1,-0.6 1,0.3 1,-0.3 1,1.2 1,-1.1 1,0.7 1,0 1,-0.8 1,0.8 1,0.5 1,-0.3 1,-0.1 1.1,0.3 1,-0.3 1,-0.1 1,-0.1 1,0.2 1,-0.6 1,0.6 1,-0.6 1,-0.3 1,0.9 1,0.7 1,-0.4 1,-0.7 1,0.3 1,-0.4 1.1,0 1,-0.1 1,-1 1,0.8 1,-0.3 1,-0.2 1,-0.4 1,-0.1 1,0.3 1,0.9 1,0.3 1,-0.9 1,-0.1 1,0.2 1,-2.8 1.1,-0.1 1,-1.6 1,-5.6 1,-13.8 1,-31 1,-50.5 1,-50.6 1,-13 1,36.8 1,53.9 1,41.9 1,22 1,7.8 1,3.5 1.1,1.6 1,0.7 1,0.5 1,-0.1 1,0.8 1,0.8 1,-0.4 1,-0.5 1,0.6 1,0.5 1,-0.4 1,-0.3 1,0.7 1,-0.9 1,0.6 1.1,-0.2 1,-0.3 1,1 1,-0.3 1,-0.6 1,0.6 1,-0.4 1,-0.7 1,0.5 1,0.7 1,0.2 1,-0.2 1,0 1,0.1 1,-0.1 1.1,0.5 1,-0.3 1,0 1,0 1,-0.7 1,0.2 1,1.3 1,-0.7 1,-0.3 1,0.1 1,-0.2 1,0.2 1,-0.3 1,0.2 1,-0.5 1.1,1 1,-0.7 1,-0.5 1,0.5 1,0.1 1,0.2 1,-0.4 1,1.1 1,0.9 1,-1.7 1,0.2 1,-0.1 1,0 1,-0.8 1.1,0.2 1,0.8 1,0.1 1,0.5 1,-0.8 1,0.4 1,1 1,-1.4 1,-0.3 1,0.3 1,0.2 1,0.3 1,-0.3 1,0.6 1,-0.4 1.1,1.1 1,-0.8 1,-1.6 1,0.7 1,0 1,0.6 1,0 1,2.4 1,-1.9 1,-0.2 1,-0.3 1,-0.2 1,0.3 1,0.4 1,-0.4 1.1,-0.3 1,0.6 1,-0.4 1,-0.2 1,-0.4 1,0.1 1,-1 1,0.2 1,1.4 1,0.1 1,-0.3 1,0.4 1,-0.1 1,-0.3 1.1,-1.1 1,0.8 1,0.6 1,0.6 1,0.1 1,-0.3 1,-1.3 1,-0.4 1,1.1 1,0.1 1,0.2 1,-0.3 1,-0.1 1,-0.5 1,0.5 1.1,-0.1 1,0.3 1,0.1 1,-0.2 1,0.1 1,-0.1 1,0.3 1,-0.1 1,-0.5 1,0.1 1,0.8 1,-0.4 1,0.2 1,-0.2 1,-0.5 1.1,-0.1 1,0.4 1,0.2 1,-0.1 1,-0.6 1,0.1 1,0.4 1,0.4 1,-1.2 1,0.7 1,0 1,0.2 1,-0.2 1,0.5 1,0.3 1.1,-0.4 1,0 1,-0.2 1,-0.3 1,0.4 1,-0.3 1,-0.2 1,0.2 1,0.1 1,0.3 1,-0.3 1,0 1,0.7 1,0 1.1,0 1,-0.3 1,-0.4 1,-0.1 1,0.1 1,0.4 1,-0.3 1,-0.6 1,0.3 1,-0.3 1,0.4 1,-0.4 1,0 1,0.5 1,-0.1 1.1,-0.4 1,0.9 1,0.5 1,-1.1 1,0.8 1,-0.7 1,-0.1 1,0.1 1,-0.3 1,0.9 1,-0.2 1,-0.5 1,0 1,-0.3 1,0.4 1.1,0.4 1,-0.8 1,0.3 1,0.4 1,0.4 1,0 1,0 1,-0.8 1,0.4 1,-0.2 1,0 1,0.6 1,0.2 1,-0.5 1.1,-0.3 1,0.1 1,-0.8 1,0.4 1,0 1,0.9 1,-0.7 1,-0.7 1,-0.5 1,-0.7 1,1.3 1,0.7 1,-0.4 1,0.5 1,0 1.1,-0.6 1,0.8 1,0.3 1,-0.4 1,-0.1 1,0.1 1,-0.7 1,0.5 1,0.3 1,-0.6 1,0.5 1,-0.5 1,-0.5 1,0.5 1,-0.1 1.1,0.3 1,-0.3 1,0.5 1,-0.4 1,0.2 1,-0.3 1,0.1 1,0.4 1,-0.3 1,-0.4 1,-0.3 1,0.7 1,-0.2 1,-0.5 1.1,-0.1 1,-0.7 1,-0.4 1,-0.3 1,-0.4 1,-0.1 1,-4.2 1,-3.6 1,-5.2 1,-5.7 1,-3.1 1,-0.9 1,-1.5 1,-8.2 1,-17.9 1.1,-22.3 1,-14.8 1,7 1,22.1 1,24.5 1,17.6 1,10.3 1,4.7 1,1.7 1,0.6 1,-0.4 1,0.5 1,0.5 1,0.1 1,0.7 1.1,0 1,0 1,0.1 1,-0.1 1,-0.3 1,0.1 1,0.6 1,0.1 1,0.1 1,0 1,-0.7 1,0.2 1,0.2 1,-0.4 1,0.3 1.1,0.6 1,0.2 1,-0.1 1,-0.3 1,-0.1 1,0.3 1,-0.3 1,0.2 1,0.3 1,-0.5 1,-0.2 1,0.2 1,0.3 1,0 1.1,-0.1 1,0 1,-0.7 1,1.2 1,-0.7 1,-0.3 1,-0.2 1,0 1,0.2 1,0.2 1,-0.2 1,0.5 1,0.5 1,-0.5 1,0.3 1.1,-1.2 1,0.4 1,0.1 1,0 1,0.4 1,-0.4 1,0.7 1,-0.3 1,-0.7 1,0.8 1,0.3 1,-0.7 1,0.3 1,-0.7 1,0.3 1.1,-0.3 1,0.4 1,-0.7 1,-0.2 1,1 1,0.6 1,-0.7 1,0.2 1,-0.3 1,-0.1 1,0.2 1,0.2 1,-0.9 1,0.2 1.1,-0.3 1,-0.9 1,-0.6 1,-0.7 1,-1.6 1,0.9 1,0.4 1,0.3 1,0 1,-2 1,-3.8 1,-10.4 1,-22.8 1,-36.9 1,-41.2 1.1,-19.1 1,19.8 1,39.8 1,36.9 1,22.7 1,10.9 1,4.1 1,2.3 1,0.2 1,0.7 1,0.5 1,0.5 1,-0.4 1,0.1 1,0.5 1.1,0.4 1,0 1,-0.2 1,0.2 1,0 1,0.2 1,-0.1 1,-0.1 1,0.2 1,0.3 1,0.5 1,-0.7 1,0.2 1,0.2 1,-1 1.1,-0.1 1,0.3 1,0.5 1,0.8 1,-0.5 1,0.1 1,-0.6 1,-0.8 1,0.2 1,1 1,-0.2 1,-0.4 1,0.5 1,-0.5 1.1,0.7 1,0.1 1,-0.8 1,1.2 1,-1 1,-0.6 1,0 1,-1.4 1,-1.8 1,-3.7 1,-3.8 1,-0.1 1,3.8 1,3.1 1,2.5 1.1,1.2 1,0.6 1,-0.2 1,0.8 1,-0.4 1,-0.2 1,0.8 1,0.2 1,-0.6 1,-0.3 1,0.2 1,-0.1 1,0.2 1,0.5 1,-0.3 1.1,-0.2 1,0 1,-0.1 1,-0.1 1,-0.6 1,-1.6 1,-1.4 1,-0.3 1,0.4 1,1.5 1,1.7 1,0.1 1,-0.1 1,0.5 1.1,-0.3 1,0.2 1,0.2 1,-0.1 1,-0.2 1,0.1 1,0.1 1,0.4 1,-0.4 1,0.1 1,0.6 1,-0.5 1,0.5 1,0 1,-0.6 1.1,-0.3 1,0.5 1,0.2 1,0 1,-0.1 1,0.3 1,-0.1 1,-0.5 1,0.5 1,-0.3 1,-0.3 1,0.2 1,0.6 1,-0.3 1,-0.8 1.1,0.4 1,0.1 1,-0.1 1,-0.2 1,-0.1 1,0.5 1,-0.3 1,0 1,0 1,0 1,0.4 1,-0.1 1,-0.3 1,-0.1 1.1,0.2 1,0.4 1,-0.2 1,0 1,-0.2 1,0 1,0.1 1,-0.4 1,0.4 1,-0.1 1,0 1,0.5 1,-0.2 1,-0.2 1,-0.2 1.1,-0.3 1,0.6 1,0.2 1,-0.4 1,0.4 1,-0.6 1,0.1 1,0.3 1,0 1,0.1 1,-0.4 1,-0.2 1,-0.3 1,0.2 1,0 1.1,0.1 1,0.4 1,-0.3 1,-0.1 1,1.8 1,-1.5 1,-0.2 1,0.7 1,0 1,-0.7 1,-0.2 1,0.2 1,0.6 1,-0.3 1,-0.2 1.1,0.3 1,0.2 1,-0.6 1,0 1,0 1,1 1,0.1 1,-0.4 1,-0.3 1,0 1,-0.6 1,0.4 1,-0.3 1,-0.1 1.1,0.2 1,0.2 1,0.3 1,0.1 1,-0.2 1,-0.3 1,0.3 1,0 1,0.1 1,-0.6 1,-0.6 1,0.6 1,0.6 1,-0.7 1,-0.6 1.1,0 1,-0.1 1,0.2 1,0.1 1,0.4 1,0.3 1,-0.2 1,0 1,0.4 1,0.3 1,0 1,-0.1 1,0.1 1,0.5 1,-0.5 1.1,0.1 1,0.2 1,-0.4 1,0 1,0.2 1,0.2 1,-0.4 1,-0.1 1,-0.1 1,-0.3 1,0.5 1,-0.3 1,-0.4 1,0.2 1.1,-0.3 1,0.2 1,0.2 1,-0.1 1,1 1,-1.1 1,0.3 1,0.2 1,0.1 1,-0.3 1,-0.7 1,-1 1,-1.5 1,-1.5 1,-1.2 1.1,1 1,1.7 1,1.5 1,0.9 1,0.9 1,-0.3 1,0.1 1,0.2 1,0.1 1,0 1,0.1 1,0.1 1,-0.7 1,0.2 1,-0.1 1.1,0.2 1,-0.3 1,0.1 1,0.3 1,0.4 1,-0.1 1,-0.1 1,0.2 1,-0.7 1,-0.3 1,0.4 1,0.2 1,0.5 1,0.1 1,-0.7 1.1,0.8 1,0 1,-0.3 1,-0.1 1,0.4 1,-0.5 1,-0.3 1,0 1,-0.2 1,0.3 1,0 1,0.1 1,-0.1 1,-0.2 1.1,0.4 1,-0.1 1,-0.2 1,-0.6 1,0.1 1,-0.4 1,-0.3 1,-0.5 1,-0.4 1,0.5 1,0.7 1,0.4 1,-0.5 1,-0.2 1,0.2 1.1,-0.2 1,-1 1,-1.8 1,-2.1 1,-2 1,-0.2 1,1.8 1,2.7 1,1.7 1,0.8 1,1 1,0.1 1,0 1,0.5 1,0 1.1,0 1,0.1 1,-0.2 1,-0.5 1,0.3 1,0.3 1,-0.4 1,0.2 1,0.2 1,0.3 1,0 1,-0.2 1,-0.2 1,0.2 1.1,-0.1 1,-0.1 1,0.3 1,-0.2 1,-0.3 1,0.4 1,-0.2 1,0 1,-0.4 1,0.2 1,-0.2 1,-0.1 1,0 1,0.9 1,-0.3 1.1,0 1,0.2 1,-0.3 1,0 1,-0.4 1,0.3 1,0 1,0.2 1,-0.1 1,-0.5 1,-0.2 1,0.3 1,0.5 1,0 1,-0.1 1.1,-0.7 1,-0.2 1,0.5 1,0.2 1,0 1,0.2 1,-0.2 1,-0.2 1,0 1,0.3 1,0 1,0.1 1,0.5 1,-0.5 1.1,-0.2 1,-0.3 1,0.1 1,0.2 1,-0.2 1,-0.6 1,-0.4 1,-0.8 1,-1 1,0 1,1.8 1,0.5 1,0.1 1,-0.2 1,0.3 1.1,0.6 1,-0.7 1,0.5 1,0.4 1,-0.1 1,0.1 1,0 1,0.4 1,-0.8 1,-0.2 1,0.5 1,0.3 1,-0.2 1,0.1 1,-0.4 1.1,-0.1 1,0.6 1,0.2 1,-0.1 1,-0.5 1,-0.4 1,0.1 1,0.3 1,0.2 1,-0.1 1,-0.4 1,0.3 1,0.1 1,0 1,-0.1 1.1,0 1,0.2 1,0.5 1,-0.6 1,-0.2 1,0.2 1,-0.2 1,-0.5 1,0.6 1,0 1,0.2 1,-0.3 1,0 1,0 1.1,-0.2 1,-0.5 1,-0.6 1,0 1,-1.5 1,-0.8 1,-0.1 1,0.4 1,1 1,1 1,0.8 1,0.4 1,0.6 1,-0.7 1,0.1 1.1,0 1,0 1,0.4 1,0.1 1,-0.5 1,0 1,0.9 1,-0.4 1,0.3 1,-0.2 1,-0.3 1,-0.2 1,0.1 1,-0.1 1,-0.3 1.1,0.3 1,0 1,0 1,0 1,0.5 1,-0.2 1,-0.1 1,-0.4 1,-0.2 1,0.2 1,0.1 1,-0.2 1,0 1,0.1 1.1,-0.5 1,-1.3 1,-0.4 1,-1.7 1,-2.3 1,-3.2 1,-2 1,0.3 1,2 1,2.6 1,2.6 1,1.9 1,1.1 1,0.6 1,0 1.1,-0.1 1,0.7 1,-0.1 1,0 1,0 1,-0.3 1,0.2 1,0.2 1,0.2 1,-0.4 1,-0.7 1,0.6 1,0.4 1,0.3 1,0 1.1,0.4 1,-0.2 1,-0.1 1,-0.3 1,-0.5 1,0.6 1,-0.1 1,-0.3 1,0.2 1,0 1,-0.3 1,0 1,-0.1 1,-0.1 1,-0.4 1.1,-0.3 1,-0.8 1,0.2 1,0.1 1,0.6 1,0.7 1,0.1 1,0 1,0.2 1,0.3 1,-0.5 1,0.3 1,-0.5 1,0.2 1.1,0.2 1,-0.2 1,0.3 1,0.1 1,-0.4 1,0.1 1,-0.1 1,-0.3 1,0.3 1,0.1 1,0.4 1,-0.3 1,0.4 1,-0.3 1,0.4 1.1,-0.2 1,-0.1 1,0.1 1,0 1,0.2 1,-0.1 1,-0.6 1,-0.4 1,-0.4 1,0.5 1,0.3 1,-0.4 1,-0.7 1,-1.1 1,-1.4 1.1,-1.3 1,-0.8 1,-0.1 1,1.7 1,1.1 1,1.3 1,0.7 1,0.4 1,0.1 1,-0.8 1,1.1 1,0.1 1,0.7 1,-0.5 1.1,-0.7 1,0.5 1,-0.2 1,-0.3 1,0.6 1,0.1 1,-0.3 1,0.2 1,-0.2 1,0.3 1,0.1 1,0.1 1,-0.1 1,-0.3 1,0.3 1.1,-0.3 1,0.1 1,-0.1 1,-0.7 1,-0.9 1,-1.3 1,-1.1 1,-1.4 1,-0.6 1,1.1 1,1.1 1,0.9 1,1.8 1,1.1 1,0.3 1.1,-0.5 1,0.2 1,0.2 1,0.1 1,-0.3 1,-0.2 1,0.4 1,-0.1 1,-0.5 1,0.1 1,0.1 1,-0.3 1,-0.3 1,-0.9 1.1,-1.6 1,-2.5 1,-2.6 1,-1 1,0.9 1,2.2 1,1.9 1,1.8 1,1.7 1,0.7 1,0.1 1,0.1 1,-0.2 1,0.3 1,-0.2 1.1,0.2 1,0 1,-0.1 1,-0.4 1,0.3 1,0.4 1,-0.1 1,0 1,0.2 1,0.1 1,0 1,-0.4 1,0.2 1,-0.1 1,-0.2 1.1,0.7 1,-0.5 1,0 1,0.6 1,-0.4 1,-0.2 1,0.1 1,0.4 1,-0.5 1,0 1,-0.1 1,0.1 1,0.2 1,0.1 1,-0.5 1.1,0.3 1,0.3 1,-0.5 1,-0.2 1,-0.8 1,-0.5 1,0.3 1,0.2 1,-0.2 1,0 1,0.8 1,0.4 1,0.4 1,0 1.1,-0.2 1,0 1,-0.4 1,0.6 1,0 1,0.2 1,0 1,-0.4 1,0 1,-0.3 1,-0.2 1,0.4 1,0.1 1,-0.2 1,0.4 1.1,0 1,-0.1 1,-0.3 1,-0.2 1,0.6 1,0.1 1,-0.2 1,-0.2 1,0.1 1,0 1,-0.2 1,-0.2 1,0.5 1,-0.4 1,0.2 1.1,0.1 1,0 1,-0.3 1,0.6 1,0.1 1,0 1,0 1,-0.6 1,-0.5 1,0.8 1,0.4 1,-0.1 1,-0.4 1,0 1.1,0.1 1,-0.2 1,-0.1 1,0.2 1,0.4 1,-0.3 1,0.4 1,-0.4 1,-0.3 1,0.7 1,-0.5 1,0.3 1,0.2 1,-0.5 1,-0.2 1.1,0.5 1,-0.2 1,-0.4 1,0 1,0.3 1,0.3 1,-0.2 1,0.1" fill="none" stroke="#ff00ff" stroke-width="2" stroke-linejoin="round" shape-rendering="crispEdges"/>
<path d="M156.7,1979.5l1.1,0.8 1,0 1,0.1 1,0.3 1,-1.9 1,-0.1 1,-0.2 1,1.1 1,0.9 1,-0.4 1,-0.2 1,-1.3 1,1 1,0 1.1,1.8 1,-0.2 1,-0.2 1,-0.6 1,0.4 1,0 1,-0.7 1,-0.2 1,0.2 1,-0.2 1,0 1,0.2 1,0 1,0.7 1,-1.1 1.1,1.2 1,-0.6 1,-0.2 1,-0.4 1,0.8 1,0.2 1,0.2 1,-0.3 1,1.7 1,0.1 1,-0.9 1,-0.6 1,0.8 1,-0.4 1,0.4 1.1,0 1,-0.9 1,-0.9 1,1 1,0.8 1,-0.4 1,0.5 1,0.3 1,-0.6 1,-0.3 1,1.8 1,-0.2 1,0 1,0.1 1.1,0.5 1,-1.2 1,-0.3 1,0.2 1,-0.2 1,-1.4 1,0.6 1,1 1,0 1,-1.4 1,-0.2 1,1 1,0.4 1,0.2 1,0.6 1.1,0.4 1,-0.5 1,-0.1 1,-1.1 1,-0.1 1,1 1,0.5 1,0.2 1,-0.1 1,0.2 1,-0.3 1,-1.5 1,0.5 1,0.9 1,0 1.1,-0.9 1,1.2 1,-0.6 1,0 1,0.4 1,0.1 1,-1 1,1.2 1,-0.4 1,-0.5 1,-0.1 1,-0.9 1,0.9 1,0.6 1.1,-0.6 1,0.4 1,0.2 1,0.3 1,0.5 1,-0.5 1,-0.2 1,0.7 1,0.8 1,-1.2 1,-0.1 1,-0.7 1,1.4 1,0.1 1,0.1 1.1,-0.8 1,-0.5 1,1 1,0 1,-1.1 1,-0.3 1,1 1,0.3 1,1.2 1,-1.6 1,-0.3 1,0.1 1,-0.8 1,0.6 1,1.4 1.1,-0.7 1,-0.6 1,-0.2 1,1 1,0.3 1,-0.3 1,-0.4 1,0.4 1,0 1,-0.4 1,0.3 1,-1.4 1,0.3 1,0.7 1,0.2 1.1,-0.4 1,0.8 1,0.5 1,-0.2 1,-0.2 1,0.3 1,-0.3 1,-0.8 1,0.5 1,0.7 1,-1 1,0.3 1,-0.2 1,-0.3 1.1,0 1,0.7 1,0.2 1,-0.2 1,-0.8 1,0.5 1,0.6 1,0.4 1,-0.1 1,0.1 1,0.2 1,-0.7 1,-0.4 1,0.2 1,-0.6 1.1,-0.9 1,0.7 1,1.8 1,-1.5 1,-0.8 1,1.1 1,1.1 1,-0.5 1,0 1,-0.3 1,0.2 1,0.7 1,-0.2 1,-0.4 1,0.4 1.1,0.1 1,-0.6 1,0.1 1,-0.1 1,-0.2 1,0.7 1,-0.6 1,-0.5 1,-0.5 1,0.4 1,1.2 1,-0.9 1,0.5 1,-0.6 1.1,0 1,0.8 1,-0.7 1,0.2 1,0.2 1,0.1 1,-0.1 1,-0.1 1,0.5 1,0.4 1,-0.5 1,-0.6 1,0.4 1,0 1,0.3 1.1,0.5 1,-0.9 1,-0.3 1,-0.4 1,0.2 1,0.1 1,0.9 1,-0.6 1,-0.4 1,0.7 1,-1.3 1,0.6 1,0 1,-0.6 1,-0.8 1.1,-0.4 1,-1.3 1,-2.3 1,-8.2 1,-16.7 1,-32.5 1,-43.5 1,-29.8 1,11.4 1,40.3 1,40.6 1,25.2 1,10.5 1,3.2 1.1,2.2 1,0.8 1,1.3 1,0.9 1,-0.2 1,0.9 1,0 1,-0.5 1,-0.6 1,0.3 1,-0.3 1,1 1,0 1,0.4 1,-0.5 1.1,-0.9 1,1.1 1,0.5 1,0.1 1,-1.2 1,-0.1 1,0.4 1,-0.4 1,-0.3 1,0.5 1,1.5 1,-1.2 1,-0.4 1,0.2 1,0.4 1.1,0.7 1,-0.1 1,-1.6 1,1.1 1,-0.1 1,-0.4 1,-0.1 1,1.3 1,-0.7 1,0.3 1,-0.4 1,0 1,-0.2 1,-0.4 1,0.5 1.1,0.4 1,0.2 1,0 1,0.1 1,-0.3 1,-0.4 1,-0.8 1,0.7 1,1 1,-0.4 1,0.4 1,-0.8 1,0 1,1 1.1,-0.4 1,0.3 1,-0.4 1,-0.7 1,-0.7 1,0.7 1,-0.6 1,-0.1 1,1.5 1,0 1,-0.1 1,-0.3 1,0 1,0.2 1,-0.1 1.1,0 1,0 1,-1.1 1,1.1 1,-0.2 1,0.5 1,0.1 1,-0.7 1,0.5 1,0 1,-0.6 1,0 1,0.1 1,-0.8 1,0.6 1.1,0.4 1,-0.4 1,-0.4 1,0.6 1,0.9 1,0 1,-0.7 1,-0.4 1,0.3 1,0 1,-0.2 1,0.1 1,0.5 1,-0.1 1.1,-1.1 1,1.1 1,0 1,0.3 1,-0.4 1,0.2 1,0.2 1,-1.5 1,1.4 1,-0.9 1,-0.5 1,-0.2 1,1 1,-0.1 1,0.7 1.1,-0.2 1,-0.1 1,0.3 1,-0.1 1,0.1 1,1.4 1,-1.5 1,0.1 1,-0.1 1,-0.8 1,0.3 1,-0.4 1,0.3 1,-0.2 1,0.2 1.1,0.4 1,0.2 1,0.3 1,-0.7 1,-0.1 1,-0.1 1,0.1 1,-0.2 1,-0.3 1,0.8 1,0.5 1,-0.1 1,-0.8 1,0.3 1,0.8 1.1,-0.6 1,0 1,-0.1 1,0.4 1,0.2 1,0.4 1,-0.6 1,-0.3 1,-0.6 1,0.1 1,0 1,0.1 1,-0.2 1,0.7 1.1,-0.5 1,0.2 1,-0.4 1,0.6 1,0.5 1,-0.8 1,0.2 1,0 1,0.1 1,0 1,-0.4 1,0.1 1,0.4 1,-0.7 1,0 1.1,0.7 1,-0.4 1,0.4 1,0 1,-0.5 1,0.5 1,-0.4 1,0.5 1,0.2 1,-0.8 1,-0.2 1,0.2 1,1 1,-0.8 1,-0.4 1.1,0.7 1,-0.2 1,-0.1 1,-0.5 1,-0.4 1,0.4 1,0 1,-0.2 1,0.1 1,0.3 1,0.6 1,0.1 1,-0.1 1,-0.5 1.1,-0.3 1,0.6 1,0.2 1,0.1 1,-0.4 1,-0.3 1,-0.1 1,-0.7 1,-0.2 1,0.2 1,-0.3 1,0.6 1,0.6 1,0.1 1,0.1 1.1,-0.4 1,0.2 1,0.1 1,0.3 1,0 1,0 1,0.6 1,-0.4 1,-0.5 1,-0.1 1,0.1 1,0 1,0.7 1,-0.3 1,-0.4 1.1,-0.2 1,-0.2 1,0.4 1,0.6 1,-0.1 1,-0.4 1,-0.1 1,-0.6 1,0.7 1,0 1,0.3 1,-0.4 1,-0.2 1,0.1 1.1,-0.2 1,0.6 1,-0.3 1,-0.1 1,-0.2 1,-0.3 1,0.1 1,-0.1 1,0.1 1,-0.8 1,-0.8 1,-1.7 1,-3.8 1,-8.5 1,-15.3 1.1,-22.1 1,-19.8 1,-5.5 1,13.9 1,22 1,20.2 1,12.5 1,5.3 1,2.7 1,0.8 1,0 1,0.6 1,-0.2 1,0.3 1,0.7 1.1,-0.3 1,-0.2 1,0.6 1,-0.5 1,0.1 1,0.1 1,0 1,-0.2 1,-0.1 1,1 1,-0.7 1,0.3 1,-0.9 1,0.9 1,0.6 1.1,0.2 1,0.4 1,-0.4 1,-0.5 1,1.1 1,-0.8 1,-0.4 1,-0.1 1,-0.3 1,0.4 1,0.6 1,-0.6 1,-0.2 1,-0.6 1.1,1 1,0 1,0.2 1,-0.4 1,-0.5 1,-0.1 1,0.6 1,-0.2 1,-0.3 1,0.2 1,0 1,1.5 1,-1.5 1,-0.3 1,0.3 1.1,0.1 1,0.5 1,-0.6 1,-0.4 1,0.4 1,0 1,0.2 1,-0.1 1,-0.4 1,0.3 1,-0.1 1,-0.3 1,0.2 1,0.1 1,-0.5 1.1,0.1 1,0.2 1,0.2 1,0.1 1,-0.5 1,0.4 1,0.2 1,0.2 1,-0.7 1,-0.4 1,-0.1 1,0.6 1,0.1 1,-0.6 1.1,0 1,-0.3 1,-0.7 1,-1.6 1,-1 1,-0.6 1,0.4 1,0.9 1,-0.1 1,-1.4 1,-2.5 1,-7.8 1,-20.3 1,-35.8 1,-48.9 1.1,-40.2 1,0 1,39.9 1,49.4 1,35.8 1,19 1,8.2 1,4.8 1,0.4 1,0.1 1,0.8 1,0.8 1,0 1,0.1 1,-0.4 1.1,1.1 1,0.7 1,-0.5 1,0.2 1,0.1 1,-0.1 1,0.1 1,0 1,-0.1 1,1.1 1,0.1 1,-0.6 1,0.1 1,-0.6 1,0.1 1.1,0.3 1,-0.6 1,-0.1 1,0.4 1,-0.4 1,1 1,-0.1 1,-0.2 1,0 1,-0.5 1,0 1,0.5 1,0.1 1,-0.2 1.1,-0.2 1,-0.1 1,0.3 1,-0.8 1,-0.1 1,-0.1 1,-0.6 1,-0.8 1,-1.8 1,-3.2 1,-5 1,-3.4 1,2.3 1,5.4 1,4.1 1.1,2 1,0.9 1,0.5 1,-0.4 1,0.4 1,0.4 1,0.3 1,-0.1 1,-0.1 1,-0.1 1,-0.1 1,0.2 1,0 1,-0.1 1,0.6 1.1,0 1,-0.5 1,0.2 1,0 1,-0.7 1,-1 1,-1.5 1,-2.1 1,0.1 1,2 1,1.7 1,1.1 1,0 1,0.6 1.1,0.2 1,0.7 1,-1.3 1,0 1,0.3 1,-0.1 1,-0.3 1,0 1,0.6 1,0.3 1,-0.4 1,-0.2 1,-0.1 1,-1.3 1,1.7 1.1,-0.3 1,0.2 1,0.6 1,-0.3 1,-0.3 1,-0.2 1,0 1,-0.7 1,0.8 1,-0.3 1,0 1,0 1,-0.1 1,0.5 1,0.6 1.1,-0.9 1,-0.3 1,0.6 1,0 1,0.5 1,-0.3 1,-0.1 1,-0.5 1,-0.3 1,0.4 1,0.3 1,-0.5 1,-0.2 1,0.2 1.1,0.2 1,0 1,0.3 1,0.6 1,-0.6 1,-0.4 1,-0.1 1,0.4 1,-0.4 1,0.7 1,-0.4 1,-0.4 1,0.4 1,0.1 1,-0.2 1.1,-0.2 1,0.3 1,0.1 1,0.1 1,-0.5 1,0.2 1,0.7 1,-0.4 1,-0.5 1,0.3 1,-0.2 1,-0.1 1,0 1,0.5 1,-0.2 1.1,0.1 1,-0.1 1,-0.4 1,0.2 1,0.3 1,-0.5 1,0.4 1,0.1 1,0.2 1,0 1,0 1,-0.2 1,0 1,-0.3 1,0.1 1.1,0.3 1,-0.2 1,-0.3 1,0.6 1,-0.4 1,0.2 1,-0.2 1,0.1 1,-0.1 1,0.2 1,-0.1 1,-0.1 1,0.7 1,-0.3 1.1,-0.6 1,0.3 1,0.1 1,0.5 1,-0.4 1,-0.1 1,-0.1 1,0.1 1,0.5 1,-1 1,0.1 1,0 1,0.1 1,-0.4 1,-0.5 1.1,-0.4 1,-0.2 1,0.3 1,-0.1 1,0.8 1,0.7 1,-0.2 1,-0.1 1,0.2 1,-0.2 1,0.1 1,0.3 1,-0.1 1,0.6 1,-0.3 1.1,-0.3 1,-0.2 1,0 1,-0.4 1,1.4 1,-0.5 1,-0.1 1,-0.2 1,0.2 1,0 1,-0.2 1,0.2 1,0.2 1,-0.2 1.1,-0.3 1,0.1 1,-0.1 1,-0.4 1,0.4 1,-0.1 1,-0.6 1,0.1 1,0.9 1,-0.4 1,-0.1 1,-1 1,-0.8 1,-1.9 1,-1.8 1.1,0.2 1,2 1,1.9 1,0.6 1,0.3 1,0.2 1,0.6 1,0.2 1,-0.2 1,0 1,0.2 1,0 1,-0.2 1,-0.4 1,0.3 1.1,0.6 1,-0.2 1,0.4 1,-0.4 1,-0.3 1,0.1 1,0.1 1,-0.3 1,0.1 1,0 1,0.4 1,-0.4 1,0 1,-0.4 1,0 1.1,0.3 1,-0.1 1,0.1 1,0.2 1,0 1,-0.4 1,0.2 1,0.3 1,-0.4 1,-0.2 1,0.2 1,1.5 1,-1.1 1,0.2 1.1,-0.4 1,0.1 1,-0.6 1,0.1 1,0.1 1,0.1 1,-0.5 1,-0.4 1,-0.6 1,0.2 1,0.8 1,0.4 1,0.1 1,0 1,-0.5 1.1,0.2 1,-1.1 1,-1.5 1,-2.9 1,-3.9 1,-1.8 1,1.8 1,3.7 1,3 1,1.5 1,0.9 1,-0.1 1,0.2 1,0.1 1,0.3 1.1,-0.2 1,0.3 1,0.2 1,-0.2 1,-0.1 1,0 1,-0.1 1,0.1 1,0.5 1,-0.1 1,-0.5 1,0.3 1,0.3 1,0.1 1.1,0 1,0.1 1,-0.3 1,-0.1 1,0.1 1,0.1 1,0.3 1,0.2 1,-0.3 1,-0.6 1,0.6 1,-0.9 1,0.3 1,0.3 1,-0.5 1.1,-0.2 1,0.5 1,0.4 1,0.1 1,0.2 1,-0.5 1,-0.2 1,0 1,-0.3 1,0.3 1,0.6 1,0.3 1,-0.3 1,-0.3 1,0.4 1.1,-0.6 1,-0.4 1,0.5 1,0.2 1,-0.2 1,-0.2 1,-0.3 1,0.6 1,-0.1 1,-0.8 1,0.4 1,0.5 1,0.2 1,-0.5 1.1,0.1 1,0.4 1,-0.3 1,-0.3 1,-0.3 1,-0.2 1,-0.6 1,-0.3 1,-0.8 1,0.2 1,0.5 1,0.8 1,0.1 1,0.4 1,0.3 1.1,0.1 1,0.3 1,-0.2 1,0.6 1,0.2 1,-0.8 1,0 1,-0.3 1,0.4 1,0 1,-0.2 1,-0.2 1,0.3 1,0.6 1,0 1.1,-0.1 1,-0.7 1,0.1 1,-0.2 1,-0.4 1,0.4 1,0.4 1,0 1,-0.1 1,-0.4 1,0 1,0.5 1,-0.1 1,0.2 1,-0.3 1.1,0.3 1,-0.1 1,-0.3 1,0.1 1,0.6 1,-0.2 1,-0.4 1,0 1,-0.3 1,0.7 1,0 1,-0.4 1,-0.1 1,-0.7 1.1,0.7 1,-0.1 1,-0.4 1,-0.4 1,-1 1,-1.4 1,-0.7 1,0.2 1,1.8 1,0 1,0.7 1,0.7 1,0.1 1,0.9 1,-0.3 1.1,-0.3 1,0.3 1,0.3 1,0 1,0.2 1,-0.7 1,0.5 1,-0.2 1,0.2 1,0.1 1,-0.7 1,-0.2 1,0.2 1,-0.3 1,0 1.1,0.6 1,0.3 1,-0.4 1,0.4 1,0.7 1,-0.8 1,-0.4 1,0 1,0.1 1,-0.1 1,0.2 1,-0.1 1,0 1,-0.3 1.1,-0.5 1,-0.5 1,-0.8 1,-1 1,-2 1,-2.7 1,-2.8 1,-0.8 1,1.4 1,2.5 1,2.7 1,1.7 1,1.7 1,0.9 1,0.1 1.1,-0.5 1,0.9 1,-0.4 1,-0.3 1,0.1 1,0.5 1,0 1,0.3 1,0.1 1,0.2 1,-0.3 1,-0.1 1,-0.1 1,-0.2 1,0 1.1,0.1 1,0.2 1,-0.2 1,0.2 1,0.1 1,-0.7 1,0.2 1,0.1 1,0.1 1,-0.3 1,0.3 1,0.6 1,-0.8 1,0 1,-0.2 1.1,-0.5 1,-0.5 1,0.2 1,-0.4 1,0.5 1,0.5 1,0.3 1,0.6 1,-0.1 1,0.4 1,-0.2 1,0.2 1,-0.2 1,-0.3 1.1,0.1 1,0.2 1,-0.3 1,0 1,-0.2 1,-0.3 1,0.7 1,0 1,-0.4 1,0.3 1,-0.2 1,-0.4 1,0.3 1,0.5 1,0.1 1.1,0 1,0.4 1,-0.5 1,-0.5 1,-0.1 1,0.6 1,-0.4 1,-0.1 1,-0.2 1,0 1,0 1,0 1,-0.3 1,-0.8 1,-1 1.1,-1.8 1,-1.5 1,-0.2 1,0.6 1,2.1 1,1.4 1,0.8 1,0.2 1,0.4 1,0.2 1,-0.1 1,-0.4 1,0.7 1,0.1 1.1,-0.1 1,0.5 1,0.3 1,-0.4 1,-0.3 1,0 1,0.5 1,-0.3 1,0 1,-0.1 1,-0.1 1,0.4 1,-0.4 1,-0.1 1,-0.4 1.1,0.9 1,-0.3 1,-0.5 1,-0.3 1,-0.7 1,-1 1,-0.8 1,-1.6 1,-0.8 1,0.1 1,1.4 1,1.1 1,1.4 1,0.6 1,0.2 1.1,0.3 1,0.4 1,0.3 1,-0.1 1,-0.2 1,0.2 1,-0.4 1,-0.2 1,0.6 1,-0.3 1,-0.4 1,-0.3 1,-0.1 1,-0.2 1.1,-1.4 1,-1.5 1,-2.8 1,-2 1,-0.8 1,1.3 1,2.4 1,2.2 1,1.3 1,1 1,0.9 1,0.6 1,-0.1 1,-0.1 1,-0.1 1.1,0.6 1,0 1,-0.5 1,0.2 1,-0.1 1,-0.1 1,0.7 1,0 1,-0.1 1,0.1 1,-0.4 1,0.2 1,0.2 1,-0.3 1,0 1.1,-0.2 1,0.3 1,0.1 1,-0.5 1,0 1,0.3 1,0.3 1,-0.4 1,-0.2 1,1.1 1,-0.6 1,-0.6 1,0.3 1,0.4 1,-0.3 1.1,-0.1 1,0.1 1,-0.3 1,0.5 1,-0.5 1,-0.6 1,-0.3 1,-0.3 1,-0.1 1,0.1 1,0.4 1,0.2 1,0.8 1,-0.3 1.1,0 1,0.1 1,0.4 1,-0.1 1,0.3 1,-0.4 1,0.1 1,-0.1 1,0 1,0.4 1,0.1 1,-0.1 1,-0.6 1,0.2 1,-0.3 1.1,-0.1 1,-0.1 1,0.3 1,0.5 1,0.3 1,0 1,-0.7 1,0 1,0.2 1,0 1,0 1,-0.5 1,0.4 1,0.2 1,0 1.1,-0.2 1,-0.1 1,0.2 1,0.4 1,-0.1 1,0.1 1,0 1,-0.6 1,0.3 1,0.1 1,0.1 1,-0.3 1,-0.1 1,-0.1 1.1,0.5 1,-0.4 1,0 1,0.1 1,-0.1 1,-0.2 1,0.1 1,0 1,0.3 1,0.2 1,-0.5 1,-0.4 1,0.6 1,0.3 1,-0.6 1.1,0.3 1,0.4 1,-0.8 1,0 1,0.1 1,-0.5 1,0.5 1,0.5" fill="none" stroke="#008080" stroke-width="2" stroke-linejoin="round" shape-rendering="crispEdges"/>
<path d="M156.7,2175.2l1.1,-2.8 1,2.2 1,0.3 1,0.7 1,-0.3 1,0.7 1,-1.2 1,-0.4 1,0.7 1,0 1,-0.6 1,-1.3 1,2.3 1,0 1.1,-0.9 1,-0.3 1,-0.4 1,2.1 1,-0.6 1,0.8 1,-0.2 1,-1 1,1.7 1,-0.7 1,0.3 1,-1.2 1,0.8 1,-1.3 1,1.1 1.1,0.7 1,-0.6 1,-0.6 1,-0.3 1,0.5 1,1.1 1,0 1,-1 1,-0.5 1,0.9 1,-1.5 1,0.8 1,0.2 1,1 1,-0.1 1.1,0.1 1,-0.2 1,-0.5 1,0.9 1,0.6 1,-0.8 1,0.2 1,-0.2 1,0.6 1,0 1,0.1 1,-0.2 1,0.6 1,-1.2 1.1,-0.2 1,0 1,0.6 1,-0.6 1,0 1,1 1,0.5 1,-0.8 1,-1.3 1,0 1,0.2 1,0 1,0.8 1,1.4 1,-1.2 1.1,-0.3 1,0.8 1,-0.2 1,-0.2 1,-0.3 1,0.4 1,0.1 1,-1.4 1,0.2 1,2.9 1,-1 1,-1 1,-0.4 1,-0.2 1,0.2 1.1,0.7 1,1.2 1,-0.5 1,0.2 1,-0.6 1,0.3 1,0.4 1,-1.4 1,0.3 1,0.3 1,2.1 1,-0.8 1,-0.7 1,-1.3 1.1,0.4 1,-0.2 1,0.3 1,1.5 1,-1.4 1,0.3 1,-0.2 1,0.8 1,-0.1 1,-0.2 1,0 1,0.5 1,-1.1 1,-0.2 1,0.2 1.1,1.2 1,-0.7 1,-0.6 1,0.7 1,1.5 1,-1.1 1,0.2 1,-0.1 1,-0.4 1,-0.4 1,0.1 1,-0.2 1,-0.5 1,3 1,-1 1.1,-1.1 1,0 1,-0.1 1,0.8 1,-0.4 1,0.1 1,-0.8 1,1 1,0.9 1,-1 1,0.3 1,-0.2 1,0.6 1,0 1,-0.7 1.1,-0.4 1,0.4 1,-0.1 1,-0.2 1,0.5 1,0 1,-0.7 1,0.7 1,1.6 1,-0.9 1,-0.4 1,0.9 1,-1.6 1,-1.4 1.1,0.1 1,0.5 1,1.2 1,0.2 1,-1.3 1,1.2 1,-0.7 1,0.6 1,0.3 1,0 1,-0.3 1,-0.1 1,-1.4 1,1.6 1,0.6 1.1,0.2 1,0.8 1,-0.7 1,-0.2 1,0.3 1,-0.9 1,-1.1 1,-0.3 1,1.8 1,0 1,0 1,-0.5 1,0.4 1,0.7 1,-0.8 1.1,-0.9 1,0.3 1,0.9 1,-1.3 1,-1 1,0.1 1,0.9 1,1 1,-0.2 1,-0.6 1,-0.2 1,0.5 1,0.1 1,-0.2 1.1,0.1 1,0 1,0.9 1,-1.7 1,0.7 1,-0.1 1,0.7 1,1.6 1,-1.6 1,0.1 1,-0.1 1,0.1 1,-0.9 1,0.8 1,-0.3 1.1,0.2 1,0.6 1,0 1,-0.1 1,-2 1,0.3 1,0.8 1,-0.8 1,0.3 1,0.8 1,-0.6 1,-1.1 1,0.2 1,-0.3 1,-0.9 1.1,-1.1 1,-2.1 1,-6 1,-14 1,-32.3 1,-50.6 1,-51.7 1,-14.3 1,38.2 1,55.4 1,42.2 1,22.6 1,8.5 1,3.2 1.1,1.6 1,0.8 1,0.8 1,-1 1,0.8 1,-0.2 1,0.8 1,0.6 1,0.2 1,0.5 1,-0.5 1,-1.3 1,0.8 1,2.3 1,-0.6 1.1,-0.8 1,-0.5 1,1.2 1,-1.4 1,0.7 1,0.1 1,0 1,-0.6 1,0.4 1,0.7 1,-0.7 1,-0.4 1,0.6 1,-2 1,2 1.1,-0.2 1,0.5 1,-0.3 1,-0.4 1,0.6 1,0 1,-0.1 1,-0.8 1,0.4 1,0.7 1,0.3 1,-0.2 1,-0.1 1,0.3 1,0.3 1.1,0.2 1,-0.6 1,-0.5 1,0.2 1,-0.8 1,0.6 1,0 1,0.2 1,0.3 1,-0.3 1,-0.6 1,0.3 1,0 1,0.3 1.1,0.1 1,-0.3 1,0.6 1,0.3 1,-0.5 1,0.1 1,-0.8 1,0.3 1,0.5 1,-0.9 1,0.2 1,0.2 1,0.9 1,0 1,-0.7 1.1,-0.1 1,-0.8 1,1.2 1,0.2 1,0 1,-1.2 1,0.8 1,-0.3 1,-0.9 1,0.7 1,0.5 1,0.4 1,-0.2 1,-0.3 1,0.3 1.1,-0.2 1,-0.3 1,-0.1 1,0.5 1,0.2 1,0.6 1,-0.7 1,0.6 1,-0.3 1,0.1 1,-0.8 1,-0.2 1,0.4 1,0.5 1.1,-0.2 1,0.2 1,-0.1 1,0.2 1,-0.3 1,-0.3 1,0.3 1,0.1 1,0.5 1,-0.7 1,-0.1 1,1 1,-0.4 1,0 1,-0.3 1.1,-0.8 1,-0.2 1,0.8 1,0.4 1,0.1 1,-1.2 1,0.3 1,-0.4 1,0.2 1,0.5 1,0.4 1,-0.6 1,-0.1 1,0.2 1,0.8 1.1,0.3 1,-1.5 1,0.2 1,0.1 1,0.5 1,-0.1 1,-0.1 1,-1.3 1,-0.5 1,-1 1,-0.7 1,0.4 1,0.7 1,1.9 1,0 1.1,-0.4 1,0.5 1,0.8 1,-0.5 1,0.3 1,0.1 1,-0.6 1,0.6 1,-0.4 1,-0.3 1,-0.4 1,0.6 1,0.2 1,-0.1 1.1,-0.1 1,-0.1 1,1 1,-0.8 1,-0.4 1,0.2 1,0.3 1,0.1 1,-0.9 1,0.8 1,-0.2 1,0.2 1,0.5 1,-0.1 1,-0.6 1.1,0.3 1,0.8 1,-0.1 1,-0.3 1,-0.3 1,0.2 1,-0.2 1,-0.4 1,-0.1 1,0.5 1,-1.8 1,2.1 1,-0.4 1,0.4 1,-0.4 1.1,0.4 1,-0.2 1,-0.5 1,-0.2 1,0.3 1,0.1 1,-0.4 1,0.1 1,-0.3 1,0.7 1,0.8 1,-0.2 1,-0.8 1,0 1.1,0.1 1,1.1 1,-1.3 1,-0.1 1,-0.4 1,0 1,-0.1 1,-0.1 1,-0.6 1,0.2 1,0 1,0.2 1,0.6 1,2.5 1,-1.2 1.1,-0.2 1,-0.3 1,-0.3 1,0 1,0.1 1,0.1 1,0.2 1,0 1,-1.4 1,0.6 1,0.6 1,-0.3 1,0.1 1,0.5 1,-0.2 1.1,0.3 1,-0.5 1,-0.2 1,-0.5 1,-0.3 1,0.5 1,0.2 1,-0.2 1,-0.3 1,0.6 1,-0.1 1,-0.1 1,-0.2 1,0.7 1.1,0 1,-0.6 1,-0.3 1,0.1 1,0.4 1,0.1 1,-1.4 1,-1.3 1,-1.9 1,-2 1,-5.4 1,-2.5 1,-4 1,-9.2 1,-19 1.1,-22.9 1,-13.8 1,5.8 1,21.2 1,22.1 1,16.9 1,9.1 1,3.7 1,2.1 1,1 1,0.1 1,-0.1 1,0.8 1,0.4 1,0.1 1.1,0 1,-0.6 1,0.6 1,-0.2 1,0.1 1,0.1 1,-0.1 1,0.6 1,-0.4 1,-0.3 1,0.4 1,0.1 1,0.1 1,-0.5 1,0.1 1.1,0.5 1,0.6 1,-0.6 1,-0.6 1,0.3 1,-0.3 1,-0.3 1,0.3 1,0.2 1,0.4 1,0.4 1,0 1,-0.2 1,-0.5 1.1,0.1 1,0.1 1,0.4 1,-0.6 1,0 1,0.6 1,-0.2 1,-0.4 1,0.2 1,0 1,0.6 1,-0.4 1,-0.1 1,-0.2 1,-0.3 1.1,-0.3 1,0.4 1,0.6 1,-0.3 1,-0.3 1,0 1,-0.1 1,0.5 1,0.6 1,0 1,-0.2 1,-0.3 1,-0.5 1,-0.3 1,0.3 1.1,0 1,0.3 1,-0.2 1,-0.2 1,0.4 1,0.6 1,-0.9 1,0.3 1,-0.1 1,0.1 1,-0.8 1,0.2 1,0 1,0 1.1,0 1,-1 1,-1.3 1,-1.1 1,-1.1 1,0.3 1,1.2 1,-0.1 1,-0.6 1,-1.3 1,-4.6 1,-10.6 1,-23.3 1,-38 1,-41.1 1.1,-19 1,19.5 1,41.2 1,37.6 1,23.2 1,11.1 1,4.3 1,1.9 1,0.8 1,0.4 1,0.9 1,-0.3 1,0.5 1,0.5 1,-0.2 1.1,-0.2 1,0.4 1,0.7 1,-0.3 1,-0.3 1,0.2 1,-0.2 1,-0.4 1,0.6 1,0.5 1,0 1,-0.5 1,-0.3 1,0.7 1,-0.2 1.1,0.2 1,0.2 1,-0.3 1,-0.2 1,-0.2 1,0.1 1,0.1 1,-0.1 1,0.1 1,-0.6 1,0.2 1,0.3 1,-0.2 1,0 1.1,-0.1 1,0.6 1,0.1 1,-0.7 1,0.2 1,-0.7 1,-0.3 1,-1.6 1,-2 1,-4.1 1,-4.1 1,0.3 1,4 1,3.9 1,2.3 1.1,1.4 1,0.3 1,0.4 1,0.7 1,0 1,-0.2 1,0 1,-0.5 1,0.3 1,-0.4 1,0.3 1,0.3 1,0.1 1,0.1 1,-0.2 1.1,-0.1 1,0 1,0.4 1,-0.4 1,-1.4 1,-0.9 1,-1.2 1,-1.3 1,0.9 1,1.4 1,1.1 1,0.9 1,0.2 1,0.1 1.1,-0.3 1,0.1 1,0.3 1,0.1 1,0.2 1,-0.3 1,0.4 1,0.1 1,-0.1 1,0.1 1,-0.2 1,-0.1 1,0 1,-0.3 1,0.3 1.1,0.2 1,-0.5 1,0.4 1,-0.2 1,0 1,0.2 1,0.1 1,0.3 1,-0.3 1,0.4 1,-0.4 1,0.1 1,0 1,-0.4 1,-0.2 1.1,0.4 1,0.3 1,0 1,-0.2 1,0.4 1,-0.5 1,-0.1 1,0.5 1,0 1,-0.5 1,0.2 1,-0.4 1,0.4 1,0.7 1.1,-0.2 1,-0.2 1,-0.2 1,-0.3 1,0.2 1,0.1 1,-0.4 1,0.3 1,0.2 1,-0.1 1,0 1,-0.2 1,-0.3 1,0.2 1,-0.4 1.1,0.3 1,0.7 1,0.2 1,-0.5 1,-0.7 1,0.9 1,-0.1 1,-0.2 1,0.2 1,-0.7 1,0.1 1,0 1,0.5 1,-0.7 1,0.6 1.1,0.2 1,0.2 1,0.3 1,-0.1 1,0 1,-0.2 1,-0.1 1,0 1,-0.3 1,-0.3 1,0.1 1,-0.3 1,0.4 1,0.7 1,-0.7 1.1,0 1,-0.2 1,-0.3 1,0.3 1,0 1,0.3 1,0 1,-0.1 1,-0.4 1,0.8 1,-0.1 1,-0.2 1,-0.1 1,0.3 1.1,0.2 1,-0.2 1,-0.6 1,-0.2 1,-0.2 1,0.7 1,0.3 1,0.1 1,-0.2 1,0 1,-0.5 1,0.2 1,-0.4 1,-0.5 1,-0.6 1.1,0.3 1,-0.6 1,0.8 1,0.2 1,0.6 1,0 1,0.4 1,-0.2 1,-0.3 1,0.1 1,-0.2 1,0.6 1,0.3 1,-0.2 1,0 1.1,0.1 1,-0.5 1,0.3 1,0 1,-0.3 1,0.3 1,-0.4 1,2.2 1,-1.8 1,-0.4 1,0.2 1,0.3 1,0.1 1,-0.4 1.1,0.3 1,-0.2 1,0 1,-0.1 1,0.2 1,-0.3 1,0.1 1,0.1 1,-0.1 1,-0.6 1,-0.1 1,-0.9 1,-1.2 1,-2.2 1,-1 1.1,1 1,1.7 1,1.4 1,0.6 1,0.2 1,0.3 1,0.5 1,0.3 1,-0.1 1,-0.2 1,0.3 1,0.3 1,0.7 1,-0.4 1,-0.4 1.1,-0.5 1,0.3 1,0.1 1,0.3 1,0.4 1,-0.7 1,-0.5 1,0.3 1,-0.2 1,0.6 1,0.2 1,-0.3 1,-0.5 1,0.4 1,0.3 1.1,-0.5 1,0 1,0.3 1,0.1 1,-0.1 1,0 1,0 1,-0.2 1,0.1 1,0 1,-0.3 1,0.3 1,0 1,0.1 1.1,-0.1 1,-0.4 1,-0.2 1,0.3 1,-0.2 1,-0.4 1,-0.6 1,-0.4 1,0.3 1,0.3 1,0.5 1,0.5 1,0.1 1,-0.2 1,-2 1.1,0.4 1,-0.9 1,-2.3 1,-3 1,-2.3 1,-0.4 1,3.3 1,3.4 1,2.5 1,1 1,0.6 1,-0.5 1,0.1 1,1.4 1,-1.3 1.1,0.5 1,-0.3 1,-0.3 1,0.8 1,-0.4 1,0.6 1,-0.8 1,0 1,0.3 1,-0.1 1,-0.3 1,0.4 1,1 1,-0.9 1.1,-0.4 1,0.1 1,0.2 1,0.3 1,-0.2 1,-0.2 1,0.1 1,0.4 1,-0.5 1,0.1 1,-0.4 1,0.8 1,-0.2 1,-0.6 1,0.6 1.1,0.3 1,0.4 1,-0.7 1,0.1 1,-0.4 1,0 1,0.1 1,0 1,-0.1 1,0.5 1,-0.4 1,-0.2 1,0.2 1,0.2 1,0 1.1,0.1 1,-0.3 1,0.1 1,0.1 1,0.2 1,-0.6 1,-0.3 1,0.3 1,0.1 1,-0.1 1,0.2 1,-0.2 1,0.3 1,-0.4 1.1,0.3 1,-0.1 1,0.2 1,-0.5 1,-0.2 1,-0.3 1,-0.3 1,-0.5 1,-0.9 1,0 1,0.9 1,0.6 1,0.8 1,0 1,0.2 1.1,-0.2 1,0.3 1,0.3 1,-0.4 1,-0.2 1,0.5 1,-0.2 1,0 1,-0.1 1,0.3 1,-0.3 1,0 1,0.1 1,-0.1 1,-0.4 1.1,0.5 1,-0.2 1,-1 1,1.2 1,1.6 1,-1.8 1,-0.1 1,0.3 1,0.2 1,0.2 1,-0.2 1,-0.2 1,0.4 1,0.3 1,-0.4 1.1,-0.3 1,-0.2 1,0.1 1,-0.2 1,0.4 1,-0.2 1,-0.1 1,0.2 1,-0.4 1,-0.2 1,0.4 1,0.4 1,-0.4 1,0.1 1.1,-0.7 1,0.2 1,-0.1 1,-0.6 1,-1.7 1,-0.7 1,-0.5 1,0.7 1,0.8 1,1 1,0.5 1,0.5 1,0.5 1,0.4 1,-0.2 1.1,-0.1 1,0 1,0.3 1,-0.8 1,-0.1 1,0.4 1,0.4 1,0.2 1,-0.1 1,0 1,-0.2 1,0.9 1,-2 1,1.8 1,-0.9 1.1,0.3 1,-0.2 1,-0.1 1,-0.1 1,0.1 1,0.3 1,-0.2 1,-0.2 1,0.2 1,0.3 1,-0.3 1,-0.2 1,-0.3 1,-0.3 1.1,0 1,-0.5 1,-0.9 1,-1.4 1,-2.8 1,-2.6 1,-2.4 1,0 1,1.1 1,4 1,2.7 1,1.2 1,1.2 1,0.3 1,0.1 1.1,0.5 1,-0.1 1,-0.3 1,0.4 1,0.4 1,-0.9 1,0.5 1,0.1 1,0.1 1,0.3 1,-0.4 1,-0.1 1,0.5 1,0.2 1,0 1.1,-0.1 1,-0.4 1,-0.3 1,0.2 1,0.2 1,-0.4 1,0.3 1,0.3 1,-0.2 1,1.7 1,-1.4 1,-0.7 1,-0.2 1,0 1,0.1 1.1,-0.4 1,-0.5 1,0.1 1,0.5 1,0.2 1,-0.2 1,0.2 1,0.2 1,0 1,0.6 1,-0.3 1,-0.1 1,-0.2 1,0.6 1.1,0.1 1,0.1 1,0 1,-0.4 1,0.6 1,0.2 1,-0.7 1,-0.1 1,0.3 1,0.2 1,-0.4 1,-0.1 1,0.6 1,-0.7 1,-0.5 1.1,0.7 1,0.4 1,0.2 1,0.1 1,0.1 1,-0.9 1,-0.4 1,0 1,0.6 1,-0.5 1,-0.6 1,-0.4 1,0 1,-0.9 1,-1.3 1.1,-1.7 1,-0.8 1,0.6 1,1.2 1,1.6 1,1 1,0.6 1,0.6 1,0.1 1,0.2 1,0.1 1,-0.2 1,0.1 1,0.6 1.1,-0.3 1,-0.1 1,0 1,0.1 1,-0.2 1,0.1 1,-0.3 1,-0.2 1,0.3 1,-0.4 1,0.5 1,0.4 1,-0.2 1,-0.4 1,0.3 1.1,-0.2 1,-0.4 1,0 1,-0.4 1,-0.6 1,-1 1,-1.7 1,-0.8 1,-0.3 1,0.1 1,1 1,1.6 1,1.4 1,0.3 1,0.6 1.1,0.6 1,-0.6 1,0.1 1,-0.1 1,0 1,0.1 1,-0.1 1,0.2 1,0 1,0.1 1,-0.2 1,-0.3 1,-0.3 1,-1.3 1.1,-0.6 1,-3.3 1,-2 1,-1.8 1,0.7 1,1.9 1,2.4 1,1.7 1,1.2 1,0.8 1,0.7 1,0.3 1,0.1 1,0 1,-0.3 1.1,0.5 1,0.2 1,-0.4 1,-0.1 1,0.4 1,0.3 1,-0.4 1,-0.2 1,-0.2 1,0 1,0 1,0.1 1,0.5 1,0.1 1,-0.2 1.1,-0.1 1,0.2 1,-0.2 1,0 1,0.1 1,0 1,0.4 1,0.4 1,-0.7 1,-0.2 1,-0.2 1,0 1,0.2 1,0.1 1,-0.2 1.1,-0.3 1,0.3 1,-0.2 1,0 1,-0.4 1,-0.3 1,-0.5 1,-0.4 1,0.7 1,0.1 1,0.5 1,0.7 1,-0.5 1,-0.1 1.1,0.5 1,-0.3 1,0.2 1,0.2 1,-0.3 1,-0.3 1,0.3 1,0.3 1,-0.2 1,0.2 1,-0.5 1,0 1,-0.1 1,0.3 1,0.6 1.1,-0.2 1,-0.3 1,0 1,0.4 1,-0.3 1,0.3 1,0 1,-0.5 1,0.2 1,0.2 1,0.2 1,0.2 1,-0.3 1,-0.4 1,0.4 1.1,-0.2 1,-0.4 1,-0.1 1,0 1,-0.2 1,0.6 1,0.2 1,-0.1 1,-0.3 1,0.2 1,0.3 1,-0.1 1,-0.3 1,-0.1 1.1,0.2 1,0.3 1,-0.1 1,0.5 1,0.1 1,-0.6 1,-0.6 1,0.3 1,0.4 1,-0.4 1,-0.1 1,0.3 1,0.6 1,-1.1 1,-0.1 1.1,0.5 1,0.2 1,0 1,-0.1 1,0 1,-0.1 1,0.2 1,-0.2" fill="none" stroke="#0000ff" stroke-width="2" stroke-linejoin="round" shape-rendering="crispEdges"/>
<path d="M156.7,2410.0l1.1,-1.3 1,-0.9 1,-0.2 1,1.6 1,1.5 1,-0.6 1,0.2 1,0.3 1,-0.7 1,1.8 1,-1.9 1,0.8 1,1.6 1,-1.7 1.1,-0.4 1,-0.2 1,0.1 1,-1.4 1,1.1 1,1.8 1,-0.8 1,-0.4 1,0.4 1,0.1 1,-0.1 1,0 1,-1.2 1,1.1 1,-0.3 1.1,0.8 1,-0.5 1,-0.7 1,0.4 1,-0.2 1,1.2 1,-0.2 1,0.1 1,-0.8 1,1.4 1,-0.7 1,0.9 1,-0.4 1,-1.2 1,0.6 1.1,-0.2 1,0.7 1,0.8 1,-0.3 1,-0.2 1,-1.3 1,0.7 1,0.5 1,0.3 1,-0.9 1,0.6 1,-0.2 1,-1.3 1,0.3 1.1,4.3 1,-4.3 1,0.1 1,1.3 1,-0.1 1,-0.4 1,0.1 1,-0.3 1,-0.1 1,0.2 1,0.7 1,0.5 1,-1 1,0.1 1,-0.2 1.1,-0.5 1,1 1,0.4 1,-0.8 1,0.7 1,-0.4 1,0.9 1,0.1 1,-1.2 1,-1.1 1,0.8 1,-0.5 1,0.1 1,1 1,1 1.1,-0.8 1,-0.4 1,-0.9 1,0.5 1,-0.1 1,1 1,-0.3 1,0.2 1,0.1 1,0 1,0.7 1,-0.3 1,-0.4 1,0.2 1.1,0.5 1,0.4 1,-0.5 1,0.4 1,-1 1,-0.2 1,-0.4 1,1 1,-0.8 1,0 1,1 1,-0.6 1,-0.1 1,0.9 1,-0.3 1.1,0.3 1,-0.5 1,0.6 1,0.3 1,-0.4 1,0.7 1,-1.1 1,-0.1 1,0.3 1,0.5 1,-0.7 1,-0.1 1,0.5 1,0.5 1,-1 1.1,-0.6 1,0.7 1,0.5 1,-0.5 1,0 1,-0.8 1,0.8 1,-1.9 1,2.6 1,-0.1 1,0.1 1,-0.8 1,0.5 1,1.5 1,-2 1.1,1.1 1,-0.2 1,-1.3 1,1 1,-0.4 1,-0.1 1,0.5 1,1.6 1,-1 1,-0.7 1,-0.4 1,0.1 1,-0.5 1,1.6 1.1,0.4 1,-1.2 1,0.3 1,1.6 1,-1.7 1,-0.3 1,0.5 1,-0.6 1,1.1 1,1.8 1,-1.3 1,-1.8 1,0.2 1,-1 1,1.3 1.1,0.3 1,-0.7 1,-0.5 1,0 1,1.2 1,0.8 1,-0.1 1,-0.7 1,-0.6 1,0.1 1,-0.6 1,0.1 1,1.3 1,-0.3 1,0.1 1.1,-0.1 1,0.8 1,0 1,-1.1 1,-0.1 1,0.1 1,1.1 1,0 1,-0.5 1,0.9 1,-1.1 1,-1 1,-0.3 1,0.9 1.1,0.4 1,-0.3 1,0.5 1,0.4 1,-0.5 1,0.4 1,0.4 1,-2.1 1,0.9 1,0.4 1,0.3 1,0.5 1,-1.3 1,2.7 1,-2.5 1.1,0.1 1,-0.3 1,0.3 1,0 1,0.2 1,-1 1,-0.2 1,0.2 1,-0.1 1,0.6 1,-0.5 1,-0.5 1,0.3 1,-0.8 1,-0.5 1.1,-1.1 1,-2.2 1,-4.1 1,-11.1 1,-27.8 1,-51.7 1,-67.4 1,-46.7 1,16.9 1,64.7 1,61.7 1,39.8 1,18.2 1,6.7 1.1,1.6 1,1.4 1,0.9 1,1.1 1,0.2 1,0.3 1,0.5 1,0.8 1,-0.3 1,1.1 1,-1.8 1,0.5 1,-0.4 1,0.8 1,-0.2 1.1,-0.5 1,-0.1 1,0.5 1,0.2 1,-0.2 1,0.1 1,0 1,0 1,0.2 1,0.4 1,0.4 1,-0.3 1,-0.4 1,0.9 1,-0.1 1.1,-0.6 1,0.3 1,-0.6 1,-0.2 1,0.2 1,1 1,-0.4 1,-0.1 1,-0.1 1,-0.2 1,0.4 1,0.3 1,0.4 1,-1 1,0.8 1.1,-0.4 1,-0.9 1,1.1 1,0.5 1,-0.3 1,-0.4 1,-0.3 1,-0.8 1,0.8 1,0.1 1,-0.4 1,0.3 1,0 1,0.9 1.1,-1.2 1,-0.3 1,-0.4 1,0.7 1,0.4 1,0 1,-0.2 1,0.6 1,-0.1 1,0.3 1,-0.7 1,-0.7 1,0.5 1,0 1,1.2 1.1,-1.1 1,0.1 1,0 1,-0.6 1,0.5 1,0.5 1,-0.4 1,0 1,0.1 1,-0.3 1,3 1,-2.5 1,-0.3 1,0.1 1,-0.1 1.1,-0.4 1,0.1 1,1.3 1,-0.1 1,-0.6 1,0.4 1,0.1 1,-0.1 1,-0.7 1,-0.6 1,0.1 1,0.6 1,0.8 1,0.1 1.1,-0.8 1,0 1,0.7 1,0.2 1,-1 1,0.3 1,-0.1 1,-0.2 1,-0.1 1,0.1 1,-0.1 1,-0.4 1,0.6 1,0.4 1,-0.2 1.1,0.3 1,-0.2 1,0 1,0.6 1,-0.7 1,0 1,0.4 1,-0.5 1,-0.6 1,0.2 1,0.1 1,0.1 1,0.1 1,0.5 1,0 1.1,-0.2 1,-0.2 1,0.5 1,0.2 1,0.2 1,-1 1,0.1 1,0.5 1,-0.8 1,0.4 1,0 1,-0.1 1,-0.3 1,0.1 1,-0.3 1.1,0.8 1,-0.3 1,0.1 1,0 1,0 1,0 1,0.1 1,-0.3 1,0 1,-0.4 1,0 1,0 1,0 1,-0.1 1.1,0.3 1,0.6 1,-0.1 1,-0.3 1,0.3 1,0.2 1,0.6 1,-1.3 1,0.2 1,-0.2 1,0.7 1,-0.3 1,0.1 1,0 1,-0.1 1.1,-1.2 1,0.5 1,0.5 1,-0.3 1,0.7 1,0.2 1,-0.8 1,0.2 1,0.5 1,0.5 1,-0.2 1,-0.3 1,-0.6 1,0.2 1,0.1 1.1,-0.2 1,0.3 1,-0.2 1,0.1 1,0.7 1,-0.5 1,0.4 1,-0.6 1,-0.2 1,-0.3 1,0.3 1,0.7 1,-0.6 1,-0.6 1.1,0.9 1,-0.5 1,0 1,0 1,-0.5 1,1 1,-0.2 1,-0.8 1,-0.2 1,-0.3 1,-0.1 1,0.3 1,0 1,0.5 1,0.3 1.1,0.7 1,-0.8 1,0.7 1,0 1,-0.3 1,-0.1 1,0.8 1,-0.1 1,-0.6 1,-0.1 1,0.2 1,0.4 1,-0.8 1,0.3 1,1.3 1.1,-1.8 1,0.4 1,0.4 1,-0.5 1,-0.1 1,-0.4 1,0.5 1,-0.4 1,0.2 1,0.2 1,-0.1 1,0.4 1,0 1,-0.1 1.1,0 1,-0.6 1,-0.6 1,0.9 1,0 1,-0.3 1,-0.6 1,0.4 1,-0.7 1,-0.5 1,-0.5 1,-0.8 1,-4.9 1,-9.7 1,-15.7 1.1,-22.8 1,-20.9 1,-4.8 1,14.6 1,23.6 1,19.8 1,12.9 1,6 1,2.2 1,1.3 1,0.8 1,-0.1 1,-0.5 1,0.6 1,0.3 1.1,0.4 1,-0.2 1,0.3 1,-0.3 1,0 1,0 1,0.1 1,0 1,0.1 1,-0.3 1,-0.1 1,0.3 1,-0.3 1,0.3 1,0.3 1.1,0.1 1,0.3 1,-0.8 1,0.7 1,-1.2 1,0 1,0.7 1,-0.2 1,0.1 1,-0.1 1,-0.3 1,0 1,0.4 1,0.3 1.1,0.1 1,-0.1 1,-0.1 1,0.2 1,-0.9 1,0.6 1,0.6 1,0.2 1,-0.1 1,0 1,-0.2 1,-0.5 1,-0.7 1,0.4 1,0.4 1.1,0.5 1,-0.6 1,0 1,0.2 1,-0.4 1,0.2 1,0.2 1,-0.2 1,-0.1 1,-0.5 1,0.1 1,0.4 1,0.4 1,-0.5 1,-0.2 1.1,0.1 1,0.6 1,-0.8 1,0.3 1,0 1,0 1,-0.2 1,0.2 1,0.4 1,-0.6 1,-0.4 1,-0.5 1,0.7 1,-0.3 1.1,0.1 1,-0.5 1,-1.1 1,-2 1,-0.6 1,0.7 1,0.5 1,0.5 1,0 1,-1 1,-3.1 1,-8 1,-19.1 1,-37.2 1,-48.5 1.1,-39.8 1,0 1,39 1,49.2 1,36.7 1,18.9 1,8.6 1,2.8 1,1.4 1,0.4 1,0.7 1,0.3 1,0.7 1,-0.2 1,1.8 1.1,-1.2 1,0.3 1,0.6 1,-0.4 1,-0.1 1,0.3 1,0.2 1,-0.2 1,0.6 1,-0.3 1,-0.3 1,-0.1 1,0.2 1,0.4 1,0.1 1.1,-0.3 1,-0.2 1,0 1,-0.4 1,0.9 1,0 1,-0.2 1,0.1 1,-0.3 1,0.6 1,-0.4 1,-0.1 1,0.6 1,-0.7 1.1,0.1 1,-0.3 1,0 1,0 1,0 1,-0.3 1,0.3 1,-1.1 1,-1.1 1,-4.4 1,-4.3 1,-2.5 1,2.3 1,5.1 1,2.8 1.1,1.7 1,1.3 1,-0.1 1,0.2 1,-0.1 1,0.3 1,0.1 1,-0.6 1,0.6 1,0 1,0.7 1,0.3 1,-0.4 1,-0.1 1,0.1 1.1,-0.1 1,-0.8 1,-0.1 1,0 1,-0.4 1,-0.5 1,-1.2 1,-1.2 1,0.4 1,0.7 1,1.6 1,0.8 1,0.2 1,0.1 1.1,-0.2 1,0 1,0.5 1,0.2 1,-0.3 1,-0.1 1,-0.3 1,0.3 1,0.2 1,-0.1 1,0 1,-0.4 1,0 1,0.4 1,0.4 1.1,0.8 1,-1.7 1,0.2 1,0.3 1,0.4 1,0 1,-0.6 1,-0.1 1,0.2 1,0.1 1,-0.2 1,0.4 1,-0.2 1,0.1 1,-0.1 1.1,0.2 1,-0.2 1,0.2 1,0.2 1,-0.1 1,0.1 1,-0.7 1,0.1 1,-0.2 1,-0.1 1,0.6 1,0.5 1,-0.3 1,-0.1 1.1,-0.7 1,0.4 1,-0.2 1,0.4 1,0.2 1,-0.3 1,0.3 1,-0.4 1,0.1 1,-0.2 1,0.2 1,-0.2 1,-0.5 1,0.4 1,0.2 1.1,0.4 1,-0.9 1,0.5 1,0.5 1,-0.1 1,0.2 1,-0.3 1,0.2 1,-0.4 1,-0.1 1,0 1,0.1 1,0.3 1,-0.8 1,0 1.1,0.7 1,0 1,0.1 1,-0.3 1,0.2 1,-0.3 1,-0.1 1,0 1,0.2 1,0 1,0 1,0.4 1,-0.2 1,-0.4 1,-0.2 1.1,0.2 1,-0.3 1,0.1 1,-0.1 1,0.2 1,0.1 1,-0.7 1,1.1 1,-0.1 1,-0.3 1,0 1,0.3 1,0 1,0.3 1.1,-0.5 1,-0.3 1,-0.1 1,0.4 1,0.2 1,-0.4 1,0.5 1,0 1,-0.3 1,0.2 1,-0.8 1,-0.3 1,0.5 1,0 1,-0.4 1.1,-0.6 1,-0.4 1,1.2 1,-0.4 1,0.6 1,0.1 1,-0.2 1,0.6 1,0.2 1,-0.1 1,-0.4 1,-0.1 1,0.5 1,-0.2 1,0.1 1.1,0.3 1,0 1,-0.2 1,-0.1 1,0.3 1,-0.6 1,0.2 1,0 1,-0.4 1,0.2 1,0.4 1,-0.2 1,-0.2 1,0.6 1.1,-0.2 1,0 1,0.2 1,-0.8 1,0.1 1,0 1,0.5 1,-0.4 1,0.6 1,-0.5 1,-0.4 1,-0.5 1,-1.6 1,-1.9 1,-1.4 1.1,0.1 1,1.3 1,1.9 1,1.1 1,0.7 1,0.5 1,0.7 1,0.3 1,-0.1 1,-0.6 1,-0.1 1,0.5 1,0.2 1,-0.2 1,-0.4 1.1,0.1 1,0 1,0.4 1,0 1,-0.3 1,-0.1 1,0.5 1,-0.2 1,-0.6 1,0.6 1,0.1 1,0 1,-0.4 1,1.9 1,-1.9 1.1,-0.8 1,0.6 1,0.2 1,0.2 1,0 1,-0.3 1,-0.2 1,0.2 1,0 1,0.1 1,0 1,-0.1 1,0.2 1,-0.2 1.1,0.2 1,0 1,0.1 1,-0.3 1,0.1 1,-0.7 1,-0.6 1,0 1,-0.6 1,0.5 1,0.4 1,0.2 1,0.3 1,0.5 1,-0.3 1.1,-0.8 1,-1.3 1,-1.3 1,-2.2 1,-3.1 1,-1.7 1,1.4 1,2.9 1,3.3 1,1.2 1,0.5 1,0.2 1,1.2 1,-0.3 1,-0.4 1.1,0.7 1,0 1,-0.5 1,0.6 1,-0.1 1,0.2 1,0.2 1,-0.3 1,0.5 1,-0.5 1,-0.2 1,0.4 1,-0.4 1,0 1.1,0.3 1,-0.4 1,-0.2 1,0.4 1,0 1,-0.1 1,0.3 1,-0.4 1,0.3 1,0.4 1,-0.5 1,-0.2 1,0.3 1,-0.1 1,-0.1 1.1,0.1 1,0 1,0.2 1,-0.2 1,0.1 1,-0.2 1,0.4 1,-0.5 1,-0.1 1,0.3 1,0.1 1,-0.1 1,-0.4 1,0.3 1,0.5 1.1,0 1,-0.8 1,0.4 1,0.1 1,0.3 1,0.1 1,-0.3 1,-0.1 1,-0.1 1,0.2 1,0.2 1,-0.5 1,0.1 1,-0.4 1.1,-0.1 1,-0.1 1,0.3 1,0.5 1,0 1,-0.6 1,-0.7 1,-0.5 1,-1 1,-0.3 1,0.5 1,0.7 1,0.2 1,0.7 1,0.9 1.1,-0.3 1,-0.1 1,0 1,0.4 1,0.1 1,0.2 1,-0.6 1,-0.5 1,0.1 1,0.3 1,0.1 1,0 1,0.1 1,0.6 1,-0.2 1.1,-0.5 1,0.3 1,0 1,-0.1 1,-0.1 1,0.3 1,0.3 1,-0.6 1,0 1,-0.1 1,-0.3 1,0.3 1,0 1,0.2 1,0.2 1.1,0.3 1,-0.5 1,-0.1 1,0.4 1,0.2 1,-0.4 1,0 1,0.1 1,-0.9 1,0.2 1,0.1 1,0 1,0.1 1,0.1 1.1,-0.3 1,-0.2 1,-0.1 1,-0.6 1,-0.8 1,-1.2 1,-0.1 1,-0.3 1,0.5 1,1.9 1,0.2 1,0.7 1,0.1 1,0.1 1,0.1 1.1,0.6 1,-0.3 1,-0.3 1,0.2 1,0.2 1,-0.2 1,0 1,0 1,-0.1 1,0.3 1,0.2 1,-0.3 1,-0.3 1,-0.1 1,0.1 1.1,-0.1 1,0 1,0.4 1,0 1,0.1 1,-0.2 1,-0.2 1,0.3 1,-0.1 1,0.1 1,-0.6 1,0 1,0.2 1,0.2 1.1,-0.5 1,-0.8 1,-0.6 1,-1.1 1,-1.8 1,-3.3 1,-2.6 1,-1.2 1,1.4 1,3 1,2.5 1,1.8 1,1.8 1,0.7 1,-0.1 1.1,0.2 1,0 1,0.6 1,-0.2 1,0.2 1,0.1 1,0.2 1,-0.2 1,-0.1 1,0.2 1,0.1 1,-0.3 1,-0.1 1,-0.2 1,0.6 1.1,-0.3 1,0.3 1,0.1 1,0 1,-0.1 1,-0.4 1,0.2 1,-0.2 1,0.1 1,0 1,0.6 1,-0.4 1,-0.1 1,-0.4 1,0.2 1.1,-0.7 1,-0.5 1,-0.2 1,-0.2 1,0.3 1,0.8 1,0.1 1,0.4 1,0.6 1,-0.3 1,0.4 1,-0.4 1,-0.3 1,0.4 1.1,0.2 1,-0.2 1,-0.4 1,0 1,0.5 1,0.3 1,0 1,-0.6 1,0 1,0.1 1,0.2 1,-0.1 1,0 1,-0.3 1,-0.6 1.1,0.3 1,0.3 1,-0.2 1,0.7 1,-0.5 1,0.2 1,0.2 1,-0.1 1,-0.6 1,0.2 1,1 1,-1.2 1,-0.5 1,-1.4 1,-0.6 1.1,-1.3 1,-1.5 1,-0.7 1,1.1 1,1.6 1,1.3 1,0.9 1,1 1,0.3 1,0 1,0.3 1,-0.5 1,0.4 1,0.4 1.1,-0.2 1,-0.2 1,0.1 1,-0.2 1,-0.1 1,-0.1 1,0.2 1,0 1,0.1 1,-0.2 1,0.2 1,0.1 1,-0.2 1,0.3 1,-0.5 1.1,-0.2 1,0 1,-0.3 1,-0.4 1,-0.4 1,-0.6 1,-1.2 1,-1 1,-1.4 1,-0.2 1,1.1 1,1.7 1,1.2 1,0.9 1,0.7 1.1,0.3 1,-0.4 1,0.3 1,0 1,0 1,-0.1 1,0.2 1,0 1,-0.1 1,-0.3 1,0.1 1,-0.5 1,-0.5 1,-0.2 1.1,-1.4 1,-2.3 1,-2.2 1,-1.8 1,-0.3 1,1.2 1,2.1 1,2.1 1,1.6 1,1.2 1,0.5 1,0.5 1,-0.1 1,0.4 1,-0.1 1.1,0.3 1,-0.3 1,0.1 1,0.4 1,-0.5 1,0 1,0.1 1,0.2 1,-0.2 1,0.4 1,-0.5 1,0 1,1.2 1,-1 1,-0.1 1.1,0.4 1,0.1 1,-0.2 1,0.1 1,0.1 1,0.3 1,-0.4 1,-0.1 1,-0.2 1,0.1 1,-0.1 1,-0.1 1,0.1 1,0.2 1,-0.2 1.1,0.2 1,-0.2 1,0.1 1,-0.6 1,-0.2 1,-0.5 1,0.5 1,-0.8 1,-0.3 1,0.9 1,0.3 1,0.1 1,0.7 1,0.1 1.1,-0.4 1,0 1,0.3 1,0.1 1,0.2 1,-0.1 1,0.2 1,-0.6 1,-0.2 1,0 1,0 1,0.2 1,-0.1 1,0.4 1,0.2 1.1,0 1,-0.5 1,-0.3 1,0.2 1,0.1 1,0 1,0.2 1,0 1,-0.1 1,-0.2 1,0.3 1,-0.4 1,-0.4 1,0.3 1,0.6 1.1,-0.3 1,-0.4 1,0.3 1,0.4 1,-0.2 1,-0.2 1,-0.2 1,0.2 1,0 1,0.4 1,-0.1 1,-0.1 1,-0.5 1,0.4 1.1,0.3 1,0.2 1,-0.1 1,-0.4 1,0.7 1,-0.6 1,-0.2 1,0 1,-0.2 1,0.1 1,0 1,0 1,0 1,0.1 1,0.2 1.1,-0.3 1,-0.1 1,0.4 1,0 1,0 1,-0.3 1,0.1 1,-0.1" fill="none" stroke="#ff0000" stroke-width="2" stroke-linejoin="round" shape-rendering="crispEdges"/>
<path d="M156.7,2587.9l1.1,0.4 1,1 1,-1.4 1,1.8 1,0.1 1,-1.3 1,1.3 1,-0.3 1,1.5 1,-0.8 1,-1 1,0.4 1,0.2 1,0.2 1.1,0.7 1,-0.2 1,0.5 1,-0.7 1,-0.9 1,-1.1 1,0 1,1.4 1,0.8 1,0.3 1,-1.2 1,0.1 1,-0.5 1,-0.1 1,-0.8 1.1,1.7 1,-0.5 1,0.4 1,0.4 1,-0.2 1,-0.7 1,1.6 1,-0.1 1,-0.5 1,-0.9 1,-0.9 1,0.1 1,1.1 1,0.3 1,-0.1 1.1,1.4 1,-0.5 1,0.2 1,-0.2 1,-1.1 1,1.1 1,-0.3 1,-1 1,1.2 1,0.6 1,0 1,-0.3 1,-1.5 1,0.4 1.1,0.1 1,0.4 1,0.2 1,0.7 1,-0.3 1,-0.9 1,1.1 1,0.6 1,-1.1 1,-1.2 1,0.4 1,0.2 1,-0.7 1,0.7 1,-0.3 1.1,1.2 1,0.2 1,-0.7 1,-0.6 1,0.7 1,-0.4 1,0.1 1,0.9 1,-1 1,-0.3 1,1.4 1,1 1,-1.7 1,1.2 1,0.4 1.1,-1 1,1.3 1,0 1,-1.5 1,-0.1 1,-0.9 1,0.2 1,0.8 1,-0.7 1,3 1,-2 1,0 1,0.6 1,0.5 1.1,-0.9 1,0.4 1,0.2 1,-1.2 1,-0.6 1,-0.8 1,1.7 1,0.7 1,-0.1 1,0.9 1,-0.2 1,0.1 1,-1.4 1,-0.5 1,0.5 1.1,0.3 1,-0.3 1,-0.2 1,0.1 1,0.3 1,-1.1 1,0.6 1,0.5 1,0.4 1,0 1,-0.6 1,-0.4 1,-0.1 1,1.3 1,-0.1 1.1,-0.4 1,-0.7 1,0 1,1.1 1,-0.3 1,0.3 1,0.4 1,-1.6 1,0.1 1,0.8 1,0.1 1,-0.8 1,0.3 1,-0.2 1,0.1 1.1,0.5 1,0.2 1,0.4 1,-0.1 1,0.2 1,-1.1 1,0.2 1,-1 1,-0.4 1,0.4 1,1.1 1,-0.4 1,-1.7 1,1.6 1.1,-1.4 1,-3.8 1,-5.2 1,-4 1,3.8 1,6.5 1,2.1 1,1.2 1,0.4 1,0 1,0.1 1,0.6 1,-0.6 1,0 1,0.4 1.1,0.7 1,-0.8 1,0 1,0.6 1,-0.6 1,0.5 1,0.7 1,-0.2 1,0 1,0.5 1,-0.9 1,-0.4 1,-0.5 1,1 1,0.3 1.1,-0.3 1,1.1 1,-0.1 1,-0.4 1,-1 1,0.6 1,-0.1 1,-1 1,0.7 1,0 1,-0.6 1,1.2 1,0.9 1,-0.6 1.1,-1 1,0.3 1,0.6 1,-0.8 1,0.4 1,-2.3 1,2.5 1,0.4 1,-1.2 1,1 1,-0.3 1,-0.4 1,-0.7 1,0.8 1,-0.5 1.1,-1.2 1,0.5 1,0.2 1,0.2 1,0.1 1,0.1 1,1.1 1,-0.2 1,-0.6 1,0.6 1,0.1 1,-1.1 1,-1.3 1,0.4 1,-0.1 1.1,-1.9 1,-1.5 1,-4.3 1,-12.9 1,-29.1 1,-46.5 1,-47.1 1,-12.7 1,34.8 1,50 1,37.6 1,20.1 1,12.1 1,-0.3 1.1,0.3 1,0.3 1,1.3 1,0.9 1,0.4 1,-0.1 1,-0.8 1,0.6 1,0 1,0.3 1,1.4 1,-0.9 1,-0.1 1,-0.1 1,0.5 1.1,0.2 1,-0.6 1,0 1,-0.2 1,-0.2 1,0.4 1,0.3 1,-0.1 1,-0.3 1,-0.5 1,0.8 1,0.3 1,0.4 1,-0.9 1,-0.6 1.1,-0.2 1,0.6 1,0.4 1,0.1 1,-0.7 1,0.4 1,0.8 1,-0.3 1,-0.3 1,-0.2 1,-0.5 1,0 1,0.6 1,0.9 1,0 1.1,-0.5 1,0.2 1,0.1 1,0.1 1,-0.6 1,0.3 1,0.2 1,-0.8 1,0.3 1,0.3 1,0.1 1,0.1 1,-1.1 1,1.4 1.1,0.1 1,-0.2 1,0.5 1,-1 1,-0.1 1,0.2 1,-0.5 1,-0.4 1,0.2 1,1 1,-0.7 1,-0.1 1,1.2 1,-0.4 1,-0.3 1.1,-0.4 1,0.3 1,-0.1 1,0.2 1,0 1,-0.1 1,0.1 1,-0.4 1,0 1,1.4 1,-0.9 1,0.3 1,-0.2 1,-0.8 1,1.1 1.1,-0.5 1,-0.1 1,0.1 1,0.1 1,0.4 1,-0.3 1,0 1,0.4 1,0 1,-1 1,-0.4 1,-0.3 1,0.2 1,0.9 1.1,0.1 1,0 1,0.1 1,0.1 1,0.4 1,0.1 1,-0.8 1,0.7 1,-0.1 1,-0.8 1,0.2 1,-0.3 1,-0.4 1,0.5 1,-0.4 1.1,0.4 1,-0.2 1,0.3 1,0.5 1,-0.3 1,-0.3 1,0.3 1,0.4 1,-0.1 1,-0.5 1,0.5 1,-0.4 1,-0.1 1,0.6 1,-0.1 1.1,0.1 1,-0.6 1,-0.6 1,0.7 1,0.1 1,-1 1,0.9 1,-0.3 1,-1 1,-1.3 1,-1.5 1,0.1 1,1.2 1,1.2 1,0.9 1.1,0 1,0.2 1,1.2 1,-0.5 1,0.1 1,0.5 1,-0.7 1,-0.9 1,0.8 1,0 1,0.3 1,-0.8 1,0.6 1,0.5 1.1,0.3 1,-0.2 1,-0.1 1,-0.4 1,-0.1 1,-0.2 1,0.7 1,0.3 1,-0.4 1,-0.7 1,-0.3 1,0.5 1,0.3 1,0 1,-0.5 1.1,0.3 1,0.3 1,-0.4 1,-0.1 1,0 1,-0.2 1,1.1 1,-0.7 1,0.2 1,0.4 1,-0.5 1,-0.2 1,0.1 1,0.1 1,-0.1 1.1,-0.1 1,0 1,1.1 1,-0.2 1,-0.6 1,0.2 1,-0.4 1,-1.3 1,0.9 1,0.4 1,-0.3 1,0.4 1,0 1,0.5 1.1,-0.7 1,0.6 1,0.2 1,-0.3 1,-0.6 1,0 1,-0.3 1,-0.3 1,0.1 1,-0.3 1,0.4 1,0.5 1,-0.2 1,0.1 1,0.2 1.1,-0.3 1,-0.6 1,0.6 1,0.2 1,-0.4 1,-0.1 1,0.7 1,-0.2 1,0.4 1,0.1 1,0.3 1,-0.2 1,0.1 1,0 1,-0.5 1.1,0.4 1,-0.1 1,-1 1,0.1 1,0.6 1,0.5 1,-0.7 1,-0.5 1,-0.1 1,0.7 1,0 1,-0.3 1,0.2 1,-0.1 1.1,0.3 1,-0.8 1,0.2 1,0.4 1,-0.6 1,-0.3 1,0.2 1,0.5 1,-0.6 1,-0.4 1,-1.6 1,-2.1 1,-5.2 1,-11.6 1,-18.8 1.1,-21.6 1,-11.3 1,3.9 1,18.7 1,19.9 1,15 1,8.5 1,3.6 1,2 1,0.1 1,0.4 1,0 1,0.1 1,1 1,-0.1 1.1,-0.2 1,0.1 1,-0.4 1,1 1,-0.6 1,-0.4 1,0.3 1,0.5 1,0.1 1,0.2 1,0.1 1,-0.2 1,0.1 1,-0.7 1,0.6 1.1,0.2 1,-0.1 1,-0.2 1,-0.2 1,-0.1 1,-0.3 1,0.5 1,-1.1 1,1.8 1,-0.6 1,-0.2 1,0.1 1,0.1 1,0.1 1.1,0.3 1,0.1 1,-1.1 1,0.2 1,0.2 1,0.3 1,0.2 1,0.3 1,-0.6 1,0.2 1,-0.1 1,0 1,0.2 1,0.1 1,-0.3 1.1,-0.3 1,0.4 1,0 1,-0.6 1,0.5 1,0 1,-0.1 1,0.2 1,0.3 1,-0.9 1,0.2 1,-0.4 1,0.5 1,0.3 1,-0.7 1.1,0.7 1,0 1,-0.3 1,-0.1 1,0 1,0 1,0.1 1,0.3 1,-0.2 1,-0.5 1,0.5 1,0.3 1,-0.2 1,-0.8 1.1,-0.9 1,0.4 1,-1.5 1,-1.4 1,-1.2 1,0.9 1,0.8 1,-0.4 1,-0.5 1,-1.7 1,-4.4 1,-12.2 1,-27.2 1,-41.7 1,-46.7 1.1,-22.6 1,22.9 1,46.6 1,42.3 1,26.4 1,12.1 1,5.2 1,1.6 1,1.2 1,0.9 1,0 1,0.3 1,0.6 1,0.4 1,0.1 1.1,-0.1 1,0.5 1,0.2 1,-0.7 1,0.3 1,-0.6 1,0.4 1,-0.1 1,0.3 1,-0.2 1,-0.4 1,0.7 1,-0.1 1,0.6 1,0.2 1.1,-0.3 1,-0.2 1,-0.1 1,-0.4 1,0.5 1,0.3 1,-0.1 1,-0.4 1,0.6 1,-0.2 1,-0.5 1,0.3 1,-0.4 1,0.1 1.1,0.3 1,0.6 1,0 1,-1.2 1,0.1 1,-0.1 1,-0.9 1,-0.5 1,-2.7 1,-3.7 1,-4.1 1,0 1,4.2 1,3.8 1,2.2 1.1,1.4 1,0.2 1,0 1,0.4 1,0.2 1,-0.1 1,0.5 1,-1.5 1,1.3 1,0.1 1,-0.2 1,-0.2 1,0.1 1,0.4 1,0.1 1.1,-0.2 1,-0.5 1,-0.9 1,0.4 1,-0.5 1,-1 1,-1.7 1,-1.1 1,1.2 1,1.4 1,1.3 1,0.6 1,0.7 1,0.1 1.1,-0.1 1,0.3 1,-0.1 1,-0.5 1,0.2 1,-0.2 1,-0.7 1,0.7 1,-0.2 1,0.1 1,0.4 1,0.1 1,0.1 1,-0.2 1,-0.1 1.1,0 1,0 1,-0.1 1,0.1 1,-0.2 1,-0.1 1,-0.1 1,0.4 1,-0.1 1,0.1 1,0.1 1,-0.2 1,0.2 1,0.1 1,-0.2 1.1,-0.4 1,0.7 1,0.1 1,0.1 1,0.1 1,-0.5 1,0.5 1,-0.3 1,0.2 1,0 1,-0.6 1,0.2 1,0.6 1,-0.5 1.1,-0.3 1,0.7 1,-0.2 1,-0.3 1,-0.1 1,0.5 1,-0.4 1,0.2 1,-0.4 1,0.2 1,-0.4 1,0.4 1,-0.3 1,0.1 1,0.5 1.1,0 1,-0.4 1,0 1,0.3 1,-0.5 1,0.1 1,0 1,0.2 1,-0.5 1,0.4 1,-0.2 1,0.4 1,0.1 1,-0.1 1,0.4 1.1,-0.5 1,0.1 1,0.5 1,-0.5 1,-0.2 1,-0.3 1,0.3 1,0 1,0.1 1,-0.2 1,0.6 1,-0.1 1,0 1,-0.4 1,-0.4 1.1,0.6 1,-0.1 1,0 1,0.5 1,-0.3 1,-0.1 1,0.1 1,0 1,0 1,-0.7 1,0.6 1,-0.2 1,-0.1 1,0.3 1.1,0.1 1,0 1,-0.4 1,-0.3 1,0.1 1,0.8 1,-0.1 1,-0.3 1,0 1,0.6 1,-0.3 1,-0.3 1,-0.5 1,0 1,-0.7 1.1,-0.4 1,0.6 1,0 1,0.4 1,-0.2 1,0.3 1,0.1 1,0.3 1,0.1 1,-0.1 1,0 1,0.4 1,-0.5 1,0.3 1,0 1.1,0.1 1,-0.3 1,0.8 1,-0.8 1,0.1 1,0.1 1,0.5 1,-0.9 1,-0.1 1,-0.2 1,0.2 1,0.2 1,0 1,-0.1 1.1,0 1,0.1 1,0.2 1,0.4 1,-0.3 1,-0.3 1,-0.1 1,0.3 1,0 1,-0.5 1,-1.4 1,0.1 1,-2 1,-0.9 1,-1 1.1,-0.6 1,2.3 1,2 1,0.9 1,0.6 1,0.2 1,0.4 1,-0.3 1,0.2 1,0.5 1,-0.6 1,0.3 1,-0.2 1,0 1,-0.2 1.1,-0.5 1,0.4 1,0.7 1,-0.4 1,-0.2 1,0.1 1,0.2 1,0.4 1,-0.7 1,0 1,0.2 1,-0.5 1,-0.1 1,0.1 1,0.3 1.1,0.5 1,0.2 1,-0.2 1,0.2 1,-0.8 1,0.4 1,-0.2 1,0.2 1,-0.2 1,-0.3 1,0.7 1,0.1 1,-0.3 1,-0.2 1.1,0.4 1,-0.9 1,0.3 1,-0.3 1,0.7 1,-0.8 1,-0.6 1,0 1,-0.1 1,0.5 1,0.3 1,0.1 1,-0.1 1,-0.1 1,-0.4 1.1,-0.2 1,-1.1 1,-2.5 1,-2.9 1,-2.9 1,0.1 1,2.5 1,3.4 1,2.5 1,0.9 1,0.1 1,0.8 1,0.1 1,0.4 1,0 1.1,0 1,-0.2 1,0 1,-0.2 1,0.3 1,0.1 1,-0.5 1,0.3 1,0.2 1,-0.3 1,0.1 1,0.3 1,0 1,0.1 1.1,0 1,0.1 1,-0.3 1,0.1 1,-0.1 1,-0.4 1,0.2 1,0.3 1,0 1,0.1 1,-0.2 1,0 1,0.1 1,-0.7 1,0 1.1,0.8 1,-0.1 1,0.1 1,0 1,-0.2 1,-0.3 1,0.3 1,0 1,-0.4 1,-0.2 1,0.4 1,0.3 1,0 1,0.1 1,-0.3 1.1,-0.2 1,0.5 1,-0.3 1,0.2 1,0.1 1,-0.3 1,-0.3 1,0.1 1,0.2 1,0 1,0 1,-0.4 1,0.2 1,0 1.1,0 1,0.2 1,0.3 1,-0.5 1,-0.4 1,-0.8 1,0 1,-0.6 1,-0.1 1,0.1 1,0.1 1,0.6 1,0.8 1,0.4 1,-0.1 1.1,0.3 1,-0.4 1,0.2 1,0 1,0.2 1,-0.5 1,0.6 1,0.3 1,-0.6 1,0.3 1,0.1 1,-0.7 1,0.7 1,-0.4 1,0.5 1.1,-0.3 1,0 1,0.2 1,0.1 1,-0.2 1,0.1 1,-0.1 1,-0.4 1,0.3 1,0.1 1,-0.1 1,0.1 1,-0.3 1,-0.3 1,0.6 1.1,0 1,-0.1 1,0 1,0.5 1,-0.5 1,-0.3 1,0.3 1,0 1,-0.4 1,0.3 1,-0.6 1,0.4 1,0.4 1,0 1.1,-0.3 1,-0.2 1,-0.8 1,-0.5 1,-0.9 1,-1.4 1,0 1,0.6 1,1.1 1,0.9 1,0.7 1,0.3 1,-0.2 1,0 1,0.1 1.1,0.1 1,0.5 1,0.3 1,-0.1 1,-0.2 1,0.1 1,-0.2 1,0.1 1,0.1 1,-0.5 1,-0.5 1,1 1,0.5 1,-0.4 1,-0.1 1.1,0.1 1,-0.6 1,-0.5 1,0.2 1,0.2 1,0.6 1,-0.4 1,-0.1 1,0 1,0.2 1,-0.3 1,0 1,0.2 1,-0.5 1.1,-0.6 1,0 1,-1 1,-1.9 1,-2.4 1,-2.9 1,-1.6 1,-0.2 1,1.9 1,2.7 1,2.7 1,1.8 1,0.8 1,0.5 1,0.7 1.1,-0.3 1,0.4 1,0 1,-0.4 1,0.3 1,0.2 1,-0.2 1,-0.3 1,0.3 1,0.6 1,-0.3 1,-0.2 1,-0.2 1,0.1 1,0.1 1.1,-0.4 1,0.1 1,0.3 1,0 1,0 1,0.1 1,0.2 1,-0.3 1,-0.1 1,-0.2 1,0 1,0.2 1,-0.6 1,0.6 1,-0.8 1.1,0.1 1,-0.6 1,-0.3 1,0.5 1,0.2 1,0.3 1,0.2 1,0.2 1,-0.2 1,0.7 1,0.3 1,-0.4 1,0.1 1,-0.1 1.1,-0.1 1,0 1,0.3 1,0 1,-0.3 1,0.2 1,-0.1 1,-0.2 1,0 1,-0.4 1,0.2 1,0.4 1,0.1 1,0.2 1,0 1.1,-0.6 1,0.1 1,-0.3 1,0.2 1,0 1,0.2 1,-0.1 1,-0.1 1,-0.1 1,0.1 1,0.1 1,-0.4 1,-0.8 1,-1.4 1,-1.4 1.1,-1 1,-0.7 1,0.4 1,1.1 1,1.2 1,1 1,1.3 1,0.5 1,0.2 1,-0.5 1,0.5 1,0.1 1,-0.4 1,0 1.1,0 1,0.1 1,0.2 1,0 1,0.4 1,-0.2 1,-0.3 1,0.1 1,-0.2 1,-0.3 1,0.4 1,0 1,0.4 1,-0.2 1,0.2 1.1,-0.3 1,-0.9 1,0.8 1,-0.7 1,-0.7 1,-1.3 1,-1.1 1,-0.7 1,-1.3 1,-0.1 1,2.4 1,1.2 1,0.8 1,0.9 1,0.3 1.1,0 1,0.6 1,-0.1 1,0.1 1,-0.2 1,-0.1 1,-0.1 1,-0.3 1,0 1,0.3 1,-0.6 1,0.2 1,-0.6 1,-1 1.1,-1.3 1,-2.5 1,-2.6 1,-1.2 1,0.9 1,2 1,1.9 1,1.8 1,1.4 1,0.6 1,0.6 1,0.4 1,-0.2 1,-0.3 1,-0.1 1.1,0.2 1,0.4 1,0.2 1,-0.7 1,0.8 1,0.2 1,0.3 1,-0.7 1,0.2 1,0.2 1,0 1,0.1 1,-0.1 1,0 1,-0.2 1.1,-0.1 1,-0.2 1,0.7 1,-0.6 1,0.2 1,0 1,-0.3 1,-0.1 1,0.3 1,-0.2 1,0.6 1,0.5 1,-0.4 1,-0.9 1,0.5 1.1,0 1,-0.1 1,0.1 1,-0.4 1,-0.1 1,-0.6 1,-0.4 1,0.2 1,0.3 1,-1.2 1,2 1,-0.1 1,-0.1 1,0.1 1.1,0.1 1,0.7 1,-0.2 1,-0.1 1,0.2 1,-0.5 1,0.2 1,0 1,-0.5 1,0.4 1,0.1 1,0.3 1,-0.3 1,0.3 1,-0.2 1.1,-0.4 1,0.5 1,0.1 1,-0.2 1,0 1,0.4 1,-0.4 1,0.2 1,-0.1 1,-0.2 1,-0.2 1,0.3 1,-0.1 1,-0.3 1,0.4 1.1,0.1 1,-0.2 1,-0.4 1,0.5 1,-0.1 1,0.2 1,-0.2 1,-0.2 1,0.1 1,0.2 1,0.4 1,-0.7 1,-0.2 1,0.3 1.1,0 1,-0.4 1,-0.1 1,0.3 1,0.2 1,0.1 1,0.2 1,-0.2 1,-0.2 1,0.1 1,0.2 1,-0.1 1,-0.7 1,0.6 1,0.2 1.1,0.2 1,-0.3 1,-0.1 1,-0.3 1,0.6 1,0 1,-0.4 1,0.2" fill="none" stroke="#000000" stroke-width="2" stroke-linejoin="round" shape-rendering="crispEdges"/>
<line x1="406.8" y1="1051.1" x2="406.8" y2="1094.0" stroke="#000" stroke-width="2"/>
<line x1="558.0" y1="1086.7" x2="558.0" y2="1094.0" stroke="#000" stroke-width="2"/>
<line x1="681.9" y1="1065.2" x2="681.9" y2="1094.0" stroke="#000" stroke-width="2"/>
<line x1="784.0" y1="1041.1" x2="784.0" y2="1094.0" stroke="#000" stroke-width="2"/>
<line x1="839.9" y1="1046.0" x2="839.9" y2="1094.0" stroke="#000" stroke-width="2"/>
<line x1="865.9" y1="1084.9" x2="865.9" y2="1094.0" stroke="#000" stroke-width="2"/>
<line x1="898.4" y1="1086.7" x2="898.4" y2="1094.0" stroke="#000" stroke-width="2"/>
<line x1="1003.0" y1="1086.7" x2="1003.0" y2="1094.0" stroke="#000" stroke-width="2"/>
<line x1="1035.0" y1="1086.7" x2="1035.0" y2="1094.0" stroke="#000" stroke-width="2"/>
<line x1="1054.6" y1="1086.7" x2="1054.6" y2="1094.0" stroke="#000" stroke-width="2"/>
<line x1="1076.8" y1="1086.7" x2="1076.8" y2="1094.0" stroke="#000" stroke-width="2"/>
<line x1="1099.5" y1="1084.9" x2="1099.5" y2="1094.0" stroke="#000" stroke-width="2"/>
<line x1="1111.6" y1="1084.9" x2="1111.6" y2="1094.0" stroke="#000" stroke-width="2"/>
<line x1="1206.1" y1="1086.7" x2="1206.1" y2="1094.0" stroke="#000" stroke-width="2"/>
<line x1="1235.0" y1="1085.0" x2="1235.0" y2="1094.0" stroke="#000" stroke-width="2"/>
<line x1="1279.9" y1="1075.3" x2="1279.9" y2="1094.0" stroke="#000" stroke-width="2"/>
<line x1="1320.7" y1="1087.2" x2="1320.7" y2="1094.0" stroke="#000" stroke-width="2"/>
<line x1="1364.8" y1="1085.0" x2="1364.8" y2="1094.0" stroke="#000" stroke-width="4"/>
<line x1="1400.1" y1="1079.9" x2="1400.1" y2="1094.0" stroke="#000" stroke-width="2"/>
<line x1="1423.8" y1="1079.9" x2="1423.8" y2="1094.0" stroke="#000" stroke-width="2"/>
<line x1="1474.4" y1="1087.2" x2="1474.4" y2="1094.0" stroke="#000" stroke-width="2"/>
<rect x="161.5" y="33.5" width="1386.0" height="1062.0" fill="none" stroke="#000" stroke-width="5"/>
<line x1="161.6" y1="1095.5" x2="161.6" y2="1105.8" stroke="#000" stroke-width="4.5"/>
<line x1="287.6" y1="1095.5" x2="287.6" y2="1116.0" stroke="#000" stroke-width="5"/>
<line x1="413.6" y1="1095.5" x2="413.6" y2="1105.8" stroke="#000" stroke-width="4.5"/>
<line x1="539.6" y1="1095.5" x2="539.6" y2="1116.0" stroke="#000" stroke-width="5"/>
<line x1="665.6" y1="1095.5" x2="665.6" y2="1105.8" stroke="#000" stroke-width="4.5"/>
<line x1="791.6" y1="1095.5" x2="791.6" y2="1116.0" stroke="#000" stroke-width="5"/>
<line x1="917.6" y1="1095.5" x2="917.6" y2="1105.8" stroke="#000" stroke-width="4.5"/>
<line x1="1043.5" y1="1095.5" x2="1043.5" y2="1116.0" stroke="#000" stroke-width="5"/>
<line x1="1169.5" y1="1095.5" x2="1169.5" y2="1105.8" stroke="#000" stroke-width="4.5"/>
<line x1="1295.5" y1="1095.5" x2="1295.5" y2="1116.0" stroke="#000" stroke-width="5"/>
<line x1="1421.5" y1="1095.5" x2="1421.5" y2="1105.8" stroke="#000" stroke-width="4.5"/>
<line x1="1547.5" y1="1095.5" x2="1547.5" y2="1116.0" stroke="#000" stroke-width="5"/>
<rect x="156.5" y="1585.5" width="1384.5" height="1027.0" fill="none" stroke="#000" stroke-width="5"/>
<line x1="156.7" y1="2612.5" x2="156.7" y2="2622.8" stroke="#000" stroke-width="4.5"/>
<line x1="282.5" y1="2612.5" x2="282.5" y2="2633.0" stroke="#000" stroke-width="5"/>
<line x1="408.4" y1="2612.5" x2="408.4" y2="2622.8" stroke="#000" stroke-width="4.5"/>
<line x1="534.2" y1="2612.5" x2="534.2" y2="2633.0" stroke="#000" stroke-width="5"/>
<line x1="660.0" y1="2612.5" x2="660.0" y2="2622.8" stroke="#000" stroke-width="4.5"/>
<line x1="785.9" y1="2612.5" x2="785.9" y2="2633.0" stroke="#000" stroke-width="5"/>
<line x1="911.8" y1="2612.5" x2="911.8" y2="2622.8" stroke="#000" stroke-width="4.5"/>
<line x1="1037.6" y1="2612.5" x2="1037.6" y2="2633.0" stroke="#000" stroke-width="5"/>
<line x1="1163.5" y1="2612.5" x2="1163.5" y2="2622.8" stroke="#000" stroke-width="4.5"/>
<line x1="1289.3" y1="2612.5" x2="1289.3" y2="2633.0" stroke="#000" stroke-width="5"/>
<line x1="1415.2" y1="2612.5" x2="1415.2" y2="2622.8" stroke="#000" stroke-width="4.5"/>
<line x1="1541.0" y1="2612.5" x2="1541.0" y2="2633.0" stroke="#000" stroke-width="5"/>
<line x1="337.2" y1="228.4" x2="392.6" y2="254.6" stroke="#000" stroke-width="2.6"/>
<line x1="634.6" y1="239.9" x2="673.1" y2="277.7" stroke="#000" stroke-width="2.6"/>
<line x1="799.1" y1="257.3" x2="858.8" y2="232.2" stroke="#000" stroke-width="2.6"/>
<line x1="851.9" y1="451.0" x2="842.2" y2="476.8" stroke="#000" stroke-width="2.6"/>
<line x1="276.7" y1="951.3" x2="317.9" y2="993.7" stroke="#000" stroke-width="2.6"/>
<text id="a_A1" x="0" y="0" font-size="59.45" transform="matrix(0.9363 0 0 1 386.33 101.86)">A</text>
<text id="a_200" x="0" y="0" font-size="53.28" transform="matrix(0.9949 0 0 1 233.69 208.45)">(200)</text>
<text id="a_A2" x="0" y="0" font-size="57.23" transform="matrix(0.9551 0 0 1 661.83 192.00)">A</text>
<text id="a_020" x="0" y="0" font-size="52.89" transform="matrix(1.0032 0 0 1 509.42 240.33)">(020)</text>
<text id="a_A3" x="0" y="0" font-size="56.89" transform="matrix(0.9820 0 0 1 768.57 110.29)">A</text>
<text id="a_400" x="0" y="0" font-size="52.59" transform="matrix(1.0132 0 0 1 865.79 234.91)">(400)</text>
<text id="a_A4" x="0" y="0" font-size="57.19" transform="matrix(0.9562 0 0 1 823.29 291.05)">A</text>
<text id="a_204" x="0" y="0" font-size="52.15" transform="matrix(1.0222 0 0 1 797.77 438.96)">(204)</text>
<text id="a_020b" x="0" y="0" font-size="48.35" transform="matrix(1.1005 0 0 1 184.62 928.80)">(020)</text>
<text id="a_B1" x="0" y="0" font-size="58.30" transform="matrix(1.0117 0 0 1 311.81 960.69)">B</text>
<text id="a_B2" x="0" y="0" font-size="55.71" transform="matrix(1.0139 0 0 1 540.92 972.49)">B</text>
<text id="a_legA" x="0" y="0" font-size="56.73" transform="matrix(1.0130 0 0 1 995.93 96.58)">A:CaSO<tspan font-size="32.91" dy="22.13">4</tspan><tspan font-size="56.73" dy="-22.13" dx="-2.84">·</tspan><tspan dx="-4.54">0.5H</tspan><tspan font-size="32.91" dy="22.13">2</tspan><tspan font-size="56.73" dy="-22.13">O</tspan></text>
<text id="a_legB" x="0" y="0" font-size="56.15" transform="matrix(1.0236 0 0 1 998.87 165.85)">B:CaSO<tspan font-size="32.57" dy="21.90">4</tspan><tspan font-size="56.15" dy="-21.90" dx="-2.81">·</tspan><tspan dx="-4.49">2H</tspan><tspan font-size="32.57" dy="21.90">2</tspan><tspan font-size="56.15" dy="-21.90">O</tspan></text>
<text id="a_c10" x="0" y="0" font-size="56.96" transform="matrix(1.0001 0 0 1 1242.34 243.29)">1.0% H<tspan font-size="33.04" dy="22.21">3</tspan><tspan font-size="56.96" dy="-22.21">PO</tspan><tspan font-size="33.04" dy="22.21">4</tspan></text>
<text id="a_c08" x="0" y="0" font-size="56.10" transform="matrix(1.0225 0 0 1 1240.50 415.12)">0.8% H<tspan font-size="32.54" dy="21.88">3</tspan><tspan font-size="56.10" dy="-21.88">PO</tspan><tspan font-size="32.54" dy="21.88">4</tspan></text>
<text id="a_c04" x="0" y="0" font-size="57.20" transform="matrix(1.0039 0 0 1 1242.11 617.48)">0.4% H<tspan font-size="33.17" dy="22.31">3</tspan><tspan font-size="57.20" dy="-22.31">PO</tspan><tspan font-size="33.17" dy="22.31">4</tspan></text>
<text id="a_c02" x="0" y="0" font-size="57.18" transform="matrix(1.0054 0 0 1 1237.85 794.13)">0.2% H<tspan font-size="33.16" dy="22.30">3</tspan><tspan font-size="57.18" dy="-22.30">PO</tspan><tspan font-size="33.16" dy="22.30">4</tspan></text>
<text id="a_c00" x="0" y="0" font-size="55.42" transform="matrix(1.0341 0 0 1 1264.46 964.08)">0% H<tspan font-size="32.14" dy="21.61">3</tspan><tspan font-size="55.42" dy="-21.61">PO</tspan><tspan font-size="32.14" dy="21.61">4</tspan></text>
<text id="a_pdf" x="0" y="0" font-size="49.06" transform="matrix(1.0517 0 0 1 1217.47 1064.69)">PDF# 41-0224</text>
<text id="a_t10" x="0" y="0" font-size="58.28" transform="matrix(1.0000 0 0 1 287.60 1171.52)" text-anchor="middle">10</text>
<text id="a_t20" x="0" y="0" font-size="58.28" transform="matrix(1.0000 0 0 1 539.58 1171.52)" text-anchor="middle">20</text>
<text id="a_t30" x="0" y="0" font-size="58.28" transform="matrix(1.0000 0 0 1 791.56 1171.52)" text-anchor="middle">30</text>
<text id="a_t40" x="0" y="0" font-size="58.28" transform="matrix(1.0000 0 0 1 1043.54 1171.52)" text-anchor="middle">40</text>
<text id="a_t50" x="0" y="0" font-size="58.28" transform="matrix(1.0000 0 0 1 1295.52 1171.52)" text-anchor="middle">50</text>
<text id="a_t60" x="0" y="0" font-size="58.28" transform="matrix(1.0000 0 0 1 1547.50 1171.52)" text-anchor="middle">60</text>
<text id="a_xt" x="0" y="0" font-size="56.16" transform="matrix(0.9827 0 0 1 790.58 1274.10)">2θ (°)</text>
<text id="a_cap" x="0" y="0" font-size="88.30" transform="matrix(0.9356 0 0 1 760.03 1396.37)"><tspan stroke="#fff" stroke-width="1">(</tspan><tspan font-weight="bold">a</tspan><tspan stroke="#fff" stroke-width="1">)</tspan></text>
<text id="a_yl" x="0" y="0" font-size="59.67" transform="translate(81.89 724.42) rotate(-90) scale(0.9831 1)">Intensity(a.u.)</text>
<text id="b_A1" x="0" y="0" font-size="56.55" transform="matrix(1.0203 0 0 1 383.19 1627.95)">A</text>
<text id="b_A2" x="0" y="0" font-size="61.19" transform="matrix(0.9822 0 0 1 656.67 1705.71)">A</text>
<text id="b_A3" x="0" y="0" font-size="59.46" transform="matrix(0.9957 0 0 1 760.30 1652.22)">A</text>
<text id="b_A4" x="0" y="0" font-size="59.55" transform="matrix(1.0184 0 0 1 818.20 1784.89)">A</text>
<text id="b_legA" x="0" y="0" font-size="59.20" transform="matrix(0.9915 0 0 1 898.42 1653.69)">A:CaSO<tspan font-size="34.34" dy="23.09">4</tspan><tspan font-size="59.20" dy="-23.09" dx="-2.96">·</tspan><tspan dx="-4.74">0.5H</tspan><tspan font-size="34.34" dy="23.09">2</tspan><tspan font-size="59.20" dy="-23.09">O</tspan></text>
<text id="b_legB" x="0" y="0" font-size="57.09" transform="matrix(1.0362 0 0 1 898.03 1726.49)">B:CaSO<tspan font-size="33.11" dy="22.26">4</tspan><tspan font-size="57.09" dy="-22.26" dx="-2.85">·</tspan><tspan dx="-4.57">2H</tspan><tspan font-size="33.11" dy="22.26">2</tspan><tspan font-size="57.09" dy="-22.26">O</tspan></text>
<text id="b_c10" x="0" y="0" font-size="57.92" transform="matrix(1.0074 0 0 1 1241.85 1773.27)">1.0% H<tspan font-size="33.59" dy="22.59">3</tspan><tspan font-size="57.92" dy="-22.59">PO</tspan><tspan font-size="33.59" dy="22.59">4</tspan></text>
<text id="b_c08" x="0" y="0" font-size="58.02" transform="matrix(1.0114 0 0 1 1237.34 1946.05)">0.8% H<tspan font-size="33.65" dy="22.63">3</tspan><tspan font-size="58.02" dy="-22.63">PO</tspan><tspan font-size="33.65" dy="22.63">4</tspan></text>
<text id="b_c04" x="0" y="0" font-size="59.79" transform="matrix(0.9809 0 0 1 1237.18 2139.73)">0.4% H<tspan font-size="34.68" dy="23.32">3</tspan><tspan font-size="59.79" dy="-23.32">PO</tspan><tspan font-size="34.68" dy="23.32">4</tspan></text>
<text id="b_c02" x="0" y="0" font-size="59.05" transform="matrix(0.9941 0 0 1 1233.20 2377.49)">0.2% H<tspan font-size="34.25" dy="23.03">3</tspan><tspan font-size="59.05" dy="-23.03">PO</tspan><tspan font-size="34.25" dy="23.03">4</tspan></text>
<text id="b_c00" x="0" y="0" font-size="59.02" transform="matrix(0.9931 0 0 1 1278.43 2556.68)">0% H<tspan font-size="34.23" dy="23.02">3</tspan><tspan font-size="59.02" dy="-23.02">PO</tspan><tspan font-size="34.23" dy="23.02">4</tspan></text>
<text id="b_B1" x="0" y="0" font-size="57.52" transform="matrix(1.0667 0 0 1 302.34 2572.48)">B</text>
<text id="b_B2" x="0" y="0" font-size="57.33" transform="matrix(1.0677 0 0 1 534.70 2582.51)">B</text>
<text id="b_t10" x="0" y="0" font-size="58.56" transform="matrix(1.0000 0 0 1 282.50 2690.01)" text-anchor="middle">10</text>
<text id="b_t20" x="0" y="0" font-size="58.56" transform="matrix(1.0000 0 0 1 534.20 2690.01)" text-anchor="middle">20</text>
<text id="b_t30" x="0" y="0" font-size="58.56" transform="matrix(1.0000 0 0 1 785.90 2690.01)" text-anchor="middle">30</text>
<text id="b_t40" x="0" y="0" font-size="58.56" transform="matrix(1.0000 0 0 1 1037.60 2690.01)" text-anchor="middle">40</text>
<text id="b_t50" x="0" y="0" font-size="58.56" transform="matrix(1.0000 0 0 1 1289.30 2690.01)" text-anchor="middle">50</text>
<text id="b_t60" x="0" y="0" font-size="58.56" transform="matrix(1.0000 0 0 1 1541.00 2690.01)" text-anchor="middle">60</text>
<text id="b_xt" x="0" y="0" font-size="56.90" transform="matrix(0.9979 0 0 1 783.20 2772.09)">2θ (°)</text>
<text id="b_cap" x="0" y="0" font-size="88.23" transform="matrix(0.9810 0 0 1 755.31 2938.78)"><tspan stroke="#fff" stroke-width="1">(</tspan><tspan font-weight="bold">b</tspan><tspan stroke="#fff" stroke-width="1">)</tspan></text>
<text id="b_yl" x="0" y="0" font-size="59.56" transform="translate(99.10 2277.87) rotate(-90) scale(1.0079 1)">Intensity(a.u.)</text>
</svg>
</body></html>
